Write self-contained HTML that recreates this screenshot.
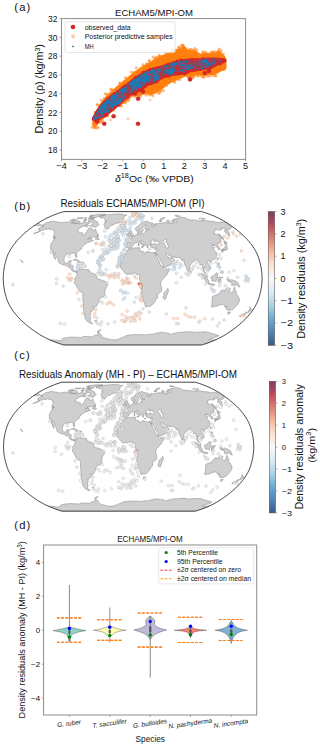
<!DOCTYPE html>
<html><head><meta charset="utf-8"><style>
html,body{margin:0;padding:0;background:#fff;}
svg{display:block;}
text{font-family:"Liberation Sans",sans-serif;fill:#111;}
</style></head><body>
<svg width="320" height="747" viewBox="0 0 320 747">
<rect width="320" height="747" fill="#fff"/>
<text x="14.3" y="11.2" font-size="11.2" text-anchor="start" textLength="16" lengthAdjust="spacing" >(a)</text>
<text x="154.05" y="15.5" font-size="9.4" text-anchor="middle" textLength="77.9" lengthAdjust="spacingAndGlyphs" >ECHAM5/MPI-OM</text>
<filter id="soft" x="-5%" y="-5%" width="110%" height="110%"><feGaussianBlur stdDeviation="0.7"/></filter>
<path d="M92.00,124.00L93.00,118.50L95.50,112.00L99.25,105.00L103.00,99.50L106.75,95.00L113.00,89.50L120.00,83.50L126.25,78.25L132.50,73.00L138.75,68.50L145.00,64.50L151.25,61.25L155.00,58.10L161.25,55.60L167.50,53.10L173.75,50.00L180.00,48.10L183.75,45.00L187.50,49.40L192.50,50.00L195.00,49.50L200.00,53.75L205.00,52.50L210.00,53.10L215.00,52.50L218.75,50.00L222.50,53.75L225.00,56.25L226.50,60.00L226.50,68.00L225.00,70.50L221.25,71.25L215.00,75.00L208.75,75.00L202.50,76.25L196.25,75.00L192.50,77.50L186.25,76.25L180.00,78.75L173.75,81.25L167.50,85.00L161.25,90.00L157.50,92.50L151.25,95.00L145.00,94.00L140.00,96.00L132.50,96.50L128.00,100.00L124.00,103.50L120.00,105.00L113.00,110.80L106.75,116.00L100.50,121.50L96.00,127.00L93.00,127.00Z" fill="#ff7f0e" filter="url(#soft)"/>
<circle cx="95.26" cy="112.14" r="1.5" fill="#ff8a20" fill-opacity="0.6"/>
<circle cx="97.62" cy="111.92" r="1.5" fill="#ff8a20" fill-opacity="0.6"/>
<circle cx="95.54" cy="112.21" r="1.5" fill="#ff8a20" fill-opacity="0.6"/>
<circle cx="97.67" cy="105.03" r="1.5" fill="#ff8a20" fill-opacity="0.6"/>
<circle cx="99.90" cy="105.70" r="1.5" fill="#ff8a20" fill-opacity="0.6"/>
<circle cx="97.22" cy="104.53" r="1.5" fill="#ff8a20" fill-opacity="0.6"/>
<circle cx="100.95" cy="100.24" r="1.5" fill="#ff8a20" fill-opacity="0.6"/>
<circle cx="103.97" cy="98.40" r="1.5" fill="#ff8a20" fill-opacity="0.6"/>
<circle cx="105.41" cy="100.62" r="1.5" fill="#ff8a20" fill-opacity="0.6"/>
<circle cx="107.52" cy="95.28" r="1.5" fill="#ff8a20" fill-opacity="0.6"/>
<circle cx="105.04" cy="93.84" r="1.5" fill="#ff8a20" fill-opacity="0.6"/>
<circle cx="106.89" cy="93.94" r="1.5" fill="#ff8a20" fill-opacity="0.6"/>
<circle cx="111.45" cy="88.88" r="1.5" fill="#ff8a20" fill-opacity="0.6"/>
<circle cx="110.65" cy="89.41" r="1.5" fill="#ff8a20" fill-opacity="0.6"/>
<circle cx="112.70" cy="90.32" r="1.5" fill="#ff8a20" fill-opacity="0.6"/>
<circle cx="120.10" cy="83.84" r="1.5" fill="#ff8a20" fill-opacity="0.6"/>
<circle cx="120.00" cy="83.89" r="1.5" fill="#ff8a20" fill-opacity="0.6"/>
<circle cx="119.79" cy="82.97" r="1.5" fill="#ff8a20" fill-opacity="0.6"/>
<circle cx="128.74" cy="79.44" r="1.5" fill="#ff8a20" fill-opacity="0.6"/>
<circle cx="127.95" cy="78.75" r="1.5" fill="#ff8a20" fill-opacity="0.6"/>
<circle cx="125.33" cy="77.60" r="1.5" fill="#ff8a20" fill-opacity="0.6"/>
<circle cx="131.45" cy="71.97" r="1.5" fill="#ff8a20" fill-opacity="0.6"/>
<circle cx="133.83" cy="72.76" r="1.5" fill="#ff8a20" fill-opacity="0.6"/>
<circle cx="134.23" cy="72.73" r="1.5" fill="#ff8a20" fill-opacity="0.6"/>
<circle cx="141.04" cy="69.33" r="1.5" fill="#ff8a20" fill-opacity="0.6"/>
<circle cx="136.25" cy="67.80" r="1.5" fill="#ff8a20" fill-opacity="0.6"/>
<circle cx="140.80" cy="68.43" r="1.5" fill="#ff8a20" fill-opacity="0.6"/>
<circle cx="147.40" cy="64.25" r="1.5" fill="#ff8a20" fill-opacity="0.6"/>
<circle cx="142.87" cy="64.81" r="1.5" fill="#ff8a20" fill-opacity="0.6"/>
<circle cx="146.39" cy="63.95" r="1.5" fill="#ff8a20" fill-opacity="0.6"/>
<circle cx="149.19" cy="60.85" r="1.5" fill="#ff8a20" fill-opacity="0.6"/>
<circle cx="153.57" cy="61.87" r="1.5" fill="#ff8a20" fill-opacity="0.6"/>
<circle cx="149.34" cy="60.64" r="1.5" fill="#ff8a20" fill-opacity="0.6"/>
<circle cx="153.01" cy="57.04" r="1.5" fill="#ff8a20" fill-opacity="0.6"/>
<circle cx="156.49" cy="57.33" r="1.5" fill="#ff8a20" fill-opacity="0.6"/>
<circle cx="155.30" cy="57.97" r="1.5" fill="#ff8a20" fill-opacity="0.6"/>
<circle cx="159.70" cy="56.16" r="1.5" fill="#ff8a20" fill-opacity="0.6"/>
<circle cx="159.40" cy="55.94" r="1.5" fill="#ff8a20" fill-opacity="0.6"/>
<circle cx="159.33" cy="55.41" r="1.5" fill="#ff8a20" fill-opacity="0.6"/>
<circle cx="166.06" cy="52.55" r="1.5" fill="#ff8a20" fill-opacity="0.6"/>
<circle cx="169.85" cy="53.83" r="1.5" fill="#ff8a20" fill-opacity="0.6"/>
<circle cx="166.52" cy="54.02" r="1.5" fill="#ff8a20" fill-opacity="0.6"/>
<circle cx="172.30" cy="49.75" r="1.5" fill="#ff8a20" fill-opacity="0.6"/>
<circle cx="175.52" cy="50.34" r="1.5" fill="#ff8a20" fill-opacity="0.6"/>
<circle cx="171.75" cy="51.17" r="1.5" fill="#ff8a20" fill-opacity="0.6"/>
<circle cx="178.57" cy="47.52" r="1.5" fill="#ff8a20" fill-opacity="0.6"/>
<circle cx="181.36" cy="47.69" r="1.5" fill="#ff8a20" fill-opacity="0.6"/>
<circle cx="178.98" cy="47.08" r="1.5" fill="#ff8a20" fill-opacity="0.6"/>
<circle cx="181.70" cy="45.20" r="1.5" fill="#ff8a20" fill-opacity="0.6"/>
<circle cx="182.47" cy="45.24" r="1.5" fill="#ff8a20" fill-opacity="0.6"/>
<circle cx="183.11" cy="44.89" r="1.5" fill="#ff8a20" fill-opacity="0.6"/>
<circle cx="189.80" cy="49.36" r="1.5" fill="#ff8a20" fill-opacity="0.6"/>
<circle cx="187.87" cy="50.28" r="1.5" fill="#ff8a20" fill-opacity="0.6"/>
<circle cx="185.91" cy="48.57" r="1.5" fill="#ff8a20" fill-opacity="0.6"/>
<circle cx="194.54" cy="50.76" r="1.5" fill="#ff8a20" fill-opacity="0.6"/>
<circle cx="191.25" cy="49.26" r="1.5" fill="#ff8a20" fill-opacity="0.6"/>
<circle cx="193.70" cy="51.06" r="1.5" fill="#ff8a20" fill-opacity="0.6"/>
<circle cx="193.48" cy="50.58" r="1.5" fill="#ff8a20" fill-opacity="0.6"/>
<circle cx="196.91" cy="49.75" r="1.5" fill="#ff8a20" fill-opacity="0.6"/>
<circle cx="194.61" cy="48.55" r="1.5" fill="#ff8a20" fill-opacity="0.6"/>
<circle cx="197.69" cy="54.86" r="1.5" fill="#ff8a20" fill-opacity="0.6"/>
<circle cx="198.69" cy="54.24" r="1.5" fill="#ff8a20" fill-opacity="0.6"/>
<circle cx="198.78" cy="54.53" r="1.5" fill="#ff8a20" fill-opacity="0.6"/>
<circle cx="205.48" cy="52.00" r="1.5" fill="#ff8a20" fill-opacity="0.6"/>
<circle cx="203.38" cy="53.03" r="1.5" fill="#ff8a20" fill-opacity="0.6"/>
<circle cx="202.84" cy="51.85" r="1.5" fill="#ff8a20" fill-opacity="0.6"/>
<circle cx="210.30" cy="53.95" r="1.5" fill="#ff8a20" fill-opacity="0.6"/>
<circle cx="210.57" cy="52.57" r="1.5" fill="#ff8a20" fill-opacity="0.6"/>
<circle cx="212.09" cy="52.39" r="1.5" fill="#ff8a20" fill-opacity="0.6"/>
<circle cx="212.58" cy="51.95" r="1.5" fill="#ff8a20" fill-opacity="0.6"/>
<circle cx="214.73" cy="51.45" r="1.5" fill="#ff8a20" fill-opacity="0.6"/>
<circle cx="213.38" cy="52.19" r="1.5" fill="#ff8a20" fill-opacity="0.6"/>
<circle cx="219.11" cy="49.12" r="1.5" fill="#ff8a20" fill-opacity="0.6"/>
<circle cx="218.06" cy="50.94" r="1.5" fill="#ff8a20" fill-opacity="0.6"/>
<circle cx="221.15" cy="50.38" r="1.5" fill="#ff8a20" fill-opacity="0.6"/>
<circle cx="223.46" cy="53.95" r="1.5" fill="#ff8a20" fill-opacity="0.6"/>
<circle cx="220.70" cy="52.63" r="1.5" fill="#ff8a20" fill-opacity="0.6"/>
<circle cx="220.09" cy="54.73" r="1.5" fill="#ff8a20" fill-opacity="0.6"/>
<circle cx="216.00" cy="76.11" r="1.5" fill="#ff8a20" fill-opacity="0.6"/>
<circle cx="212.61" cy="75.33" r="1.5" fill="#ff8a20" fill-opacity="0.6"/>
<circle cx="214.91" cy="75.55" r="1.5" fill="#ff8a20" fill-opacity="0.6"/>
<circle cx="207.84" cy="76.20" r="1.5" fill="#ff8a20" fill-opacity="0.6"/>
<circle cx="206.63" cy="75.11" r="1.5" fill="#ff8a20" fill-opacity="0.6"/>
<circle cx="209.94" cy="75.96" r="1.5" fill="#ff8a20" fill-opacity="0.6"/>
<circle cx="203.69" cy="76.74" r="1.5" fill="#ff8a20" fill-opacity="0.6"/>
<circle cx="203.97" cy="77.25" r="1.5" fill="#ff8a20" fill-opacity="0.6"/>
<circle cx="201.76" cy="76.69" r="1.5" fill="#ff8a20" fill-opacity="0.6"/>
<circle cx="198.25" cy="75.89" r="1.5" fill="#ff8a20" fill-opacity="0.6"/>
<circle cx="195.84" cy="75.70" r="1.5" fill="#ff8a20" fill-opacity="0.6"/>
<circle cx="198.07" cy="75.17" r="1.5" fill="#ff8a20" fill-opacity="0.6"/>
<circle cx="193.12" cy="77.22" r="1.5" fill="#ff8a20" fill-opacity="0.6"/>
<circle cx="192.91" cy="77.76" r="1.5" fill="#ff8a20" fill-opacity="0.6"/>
<circle cx="190.40" cy="77.83" r="1.5" fill="#ff8a20" fill-opacity="0.6"/>
<circle cx="188.72" cy="77.16" r="1.5" fill="#ff8a20" fill-opacity="0.6"/>
<circle cx="187.39" cy="75.98" r="1.5" fill="#ff8a20" fill-opacity="0.6"/>
<circle cx="187.43" cy="76.44" r="1.5" fill="#ff8a20" fill-opacity="0.6"/>
<circle cx="179.70" cy="79.56" r="1.5" fill="#ff8a20" fill-opacity="0.6"/>
<circle cx="177.92" cy="79.35" r="1.5" fill="#ff8a20" fill-opacity="0.6"/>
<circle cx="177.65" cy="78.99" r="1.5" fill="#ff8a20" fill-opacity="0.6"/>
<circle cx="173.65" cy="80.60" r="1.5" fill="#ff8a20" fill-opacity="0.6"/>
<circle cx="174.74" cy="81.24" r="1.5" fill="#ff8a20" fill-opacity="0.6"/>
<circle cx="174.32" cy="82.26" r="1.5" fill="#ff8a20" fill-opacity="0.6"/>
<circle cx="166.28" cy="83.83" r="1.5" fill="#ff8a20" fill-opacity="0.6"/>
<circle cx="166.51" cy="85.43" r="1.5" fill="#ff8a20" fill-opacity="0.6"/>
<circle cx="166.01" cy="84.21" r="1.5" fill="#ff8a20" fill-opacity="0.6"/>
<circle cx="163.28" cy="90.38" r="1.5" fill="#ff8a20" fill-opacity="0.6"/>
<circle cx="160.96" cy="90.94" r="1.5" fill="#ff8a20" fill-opacity="0.6"/>
<circle cx="160.38" cy="90.40" r="1.5" fill="#ff8a20" fill-opacity="0.6"/>
<circle cx="155.99" cy="92.33" r="1.5" fill="#ff8a20" fill-opacity="0.6"/>
<circle cx="159.03" cy="93.49" r="1.5" fill="#ff8a20" fill-opacity="0.6"/>
<circle cx="159.40" cy="92.22" r="1.5" fill="#ff8a20" fill-opacity="0.6"/>
<circle cx="151.67" cy="94.56" r="1.5" fill="#ff8a20" fill-opacity="0.6"/>
<circle cx="149.43" cy="94.99" r="1.5" fill="#ff8a20" fill-opacity="0.6"/>
<circle cx="152.94" cy="95.84" r="1.5" fill="#ff8a20" fill-opacity="0.6"/>
<circle cx="146.06" cy="95.08" r="1.5" fill="#ff8a20" fill-opacity="0.6"/>
<circle cx="143.88" cy="93.21" r="1.5" fill="#ff8a20" fill-opacity="0.6"/>
<circle cx="144.75" cy="93.46" r="1.5" fill="#ff8a20" fill-opacity="0.6"/>
<circle cx="138.57" cy="95.79" r="1.5" fill="#ff8a20" fill-opacity="0.6"/>
<circle cx="140.63" cy="95.99" r="1.5" fill="#ff8a20" fill-opacity="0.6"/>
<circle cx="139.08" cy="96.81" r="1.5" fill="#ff8a20" fill-opacity="0.6"/>
<circle cx="134.91" cy="96.39" r="1.5" fill="#ff8a20" fill-opacity="0.6"/>
<circle cx="130.37" cy="95.38" r="1.5" fill="#ff8a20" fill-opacity="0.6"/>
<circle cx="134.36" cy="95.40" r="1.5" fill="#ff8a20" fill-opacity="0.6"/>
<circle cx="129.04" cy="100.17" r="1.5" fill="#ff8a20" fill-opacity="0.6"/>
<circle cx="127.05" cy="100.70" r="1.5" fill="#ff8a20" fill-opacity="0.6"/>
<circle cx="125.60" cy="99.13" r="1.5" fill="#ff8a20" fill-opacity="0.6"/>
<circle cx="123.77" cy="102.36" r="1.5" fill="#ff8a20" fill-opacity="0.6"/>
<circle cx="125.65" cy="102.87" r="1.5" fill="#ff8a20" fill-opacity="0.6"/>
<circle cx="122.20" cy="102.41" r="1.5" fill="#ff8a20" fill-opacity="0.6"/>
<circle cx="120.65" cy="104.87" r="1.5" fill="#ff8a20" fill-opacity="0.6"/>
<circle cx="120.65" cy="105.37" r="1.5" fill="#ff8a20" fill-opacity="0.6"/>
<circle cx="121.54" cy="106.10" r="1.5" fill="#ff8a20" fill-opacity="0.6"/>
<circle cx="113.92" cy="110.08" r="1.5" fill="#ff8a20" fill-opacity="0.6"/>
<circle cx="112.88" cy="110.03" r="1.5" fill="#ff8a20" fill-opacity="0.6"/>
<circle cx="110.55" cy="110.73" r="1.5" fill="#ff8a20" fill-opacity="0.6"/>
<circle cx="107.82" cy="115.23" r="1.5" fill="#ff8a20" fill-opacity="0.6"/>
<circle cx="105.61" cy="115.63" r="1.5" fill="#ff8a20" fill-opacity="0.6"/>
<circle cx="107.74" cy="116.05" r="1.5" fill="#ff8a20" fill-opacity="0.6"/>
<circle cx="101.07" cy="122.11" r="1.5" fill="#ff8a20" fill-opacity="0.6"/>
<circle cx="99.97" cy="122.20" r="1.5" fill="#ff8a20" fill-opacity="0.6"/>
<circle cx="102.53" cy="120.51" r="1.5" fill="#ff8a20" fill-opacity="0.6"/>
<circle cx="98.16" cy="127.53" r="1.5" fill="#ff8a20" fill-opacity="0.6"/>
<circle cx="94.15" cy="126.89" r="1.5" fill="#ff8a20" fill-opacity="0.6"/>
<circle cx="96.63" cy="127.98" r="1.5" fill="#ff8a20" fill-opacity="0.6"/>
<circle cx="92.38" cy="127.17" r="1.5" fill="#ff8a20" fill-opacity="0.6"/>
<circle cx="94.90" cy="127.71" r="1.5" fill="#ff8a20" fill-opacity="0.6"/>
<circle cx="95.22" cy="126.91" r="1.5" fill="#ff8a20" fill-opacity="0.6"/>
<path d="M92.50,118.00L93.60,116.00L97.00,110.00L100.50,105.00L106.75,98.75L113.00,93.75L119.25,90.00L120.00,88.75L126.25,84.40L132.50,79.40L138.75,75.00L145.00,71.25L151.25,68.50L155.00,67.80L161.25,66.25L167.50,63.75L173.75,61.90L180.00,60.00L186.25,59.40L192.50,58.75L196.25,59.40L202.50,58.75L208.75,58.10L215.00,58.10L221.25,58.75L225.60,60.60L225.00,61.50L221.25,63.10L215.00,66.25L208.75,68.10L202.50,70.00L196.25,70.50L190.00,71.25L186.25,73.75L180.00,74.40L173.75,75.00L167.50,76.25L161.25,78.75L155.00,83.10L151.00,84.00L146.00,86.00L140.00,91.00L132.50,93.00L126.25,98.50L120.00,104.00L113.00,110.00L106.75,115.00L100.50,118.75L94.25,120.50L92.50,120.00Z" fill="#1f77b4" stroke="#d62728" stroke-width="1.3" stroke-linejoin="round"/>
<circle cx="179.37" cy="64.00" r="1.43" fill="none" stroke="#d62728" stroke-width="0.8" stroke-opacity="0.85"/>
<circle cx="200.75" cy="65.70" r="1.43" fill="none" stroke="#d62728" stroke-width="0.8" stroke-opacity="0.85"/>
<circle cx="123.30" cy="98.43" r="1.59" fill="none" stroke="#d62728" stroke-width="0.8" stroke-opacity="0.85"/>
<circle cx="221.10" cy="61.01" r="1.47" fill="none" stroke="#d62728" stroke-width="0.8" stroke-opacity="0.85"/>
<circle cx="137.01" cy="89.17" r="1.51" fill="none" stroke="#d62728" stroke-width="0.8" stroke-opacity="0.85"/>
<circle cx="140.61" cy="76.51" r="1.26" fill="none" stroke="#d62728" stroke-width="0.8" stroke-opacity="0.85"/>
<circle cx="166.44" cy="72.97" r="1.29" fill="none" stroke="#d62728" stroke-width="0.8" stroke-opacity="0.85"/>
<circle cx="99.64" cy="115.63" r="1.04" fill="none" stroke="#d62728" stroke-width="0.8" stroke-opacity="0.85"/>
<circle cx="198.38" cy="62.09" r="1.20" fill="none" stroke="#d62728" stroke-width="0.8" stroke-opacity="0.85"/>
<circle cx="196.85" cy="61.98" r="1.09" fill="none" stroke="#d62728" stroke-width="0.8" stroke-opacity="0.85"/>
<circle cx="162.12" cy="74.28" r="1.50" fill="none" stroke="#d62728" stroke-width="0.8" stroke-opacity="0.85"/>
<circle cx="184.24" cy="71.84" r="1.30" fill="none" stroke="#d62728" stroke-width="0.8" stroke-opacity="0.85"/>
<circle cx="217.49" cy="60.17" r="1.13" fill="none" stroke="#d62728" stroke-width="0.8" stroke-opacity="0.85"/>
<circle cx="163.41" cy="69.64" r="1.44" fill="none" stroke="#d62728" stroke-width="0.8" stroke-opacity="0.85"/>
<circle cx="177.78" cy="67.89" r="1.51" fill="none" stroke="#d62728" stroke-width="0.8" stroke-opacity="0.85"/>
<circle cx="167.68" cy="68.16" r="1.23" fill="none" stroke="#d62728" stroke-width="0.8" stroke-opacity="0.85"/>
<circle cx="204.19" cy="67.20" r="1.12" fill="none" stroke="#d62728" stroke-width="0.8" stroke-opacity="0.85"/>
<circle cx="204.90" cy="67.53" r="1.31" fill="none" stroke="#d62728" stroke-width="0.8" stroke-opacity="0.85"/>
<circle cx="169.34" cy="66.65" r="1.32" fill="none" stroke="#d62728" stroke-width="0.8" stroke-opacity="0.85"/>
<circle cx="160.41" cy="73.94" r="1.02" fill="none" stroke="#d62728" stroke-width="0.8" stroke-opacity="0.85"/>
<circle cx="220.08" cy="61.19" r="1.24" fill="none" stroke="#d62728" stroke-width="0.8" stroke-opacity="0.85"/>
<circle cx="198.54" cy="65.25" r="1.29" fill="none" stroke="#d62728" stroke-width="0.8" stroke-opacity="0.85"/>
<circle cx="184.45" cy="61.82" r="1.32" fill="none" stroke="#d62728" stroke-width="0.8" stroke-opacity="0.85"/>
<circle cx="148.96" cy="82.78" r="1.55" fill="none" stroke="#d62728" stroke-width="0.8" stroke-opacity="0.85"/>
<circle cx="130.46" cy="87.63" r="1.08" fill="none" stroke="#d62728" stroke-width="0.8" stroke-opacity="0.85"/>
<circle cx="151.51" cy="80.09" r="1.54" fill="none" stroke="#d62728" stroke-width="0.8" stroke-opacity="0.85"/>
<circle cx="157.00" cy="72.42" r="1.11" fill="none" stroke="#d62728" stroke-width="0.8" stroke-opacity="0.85"/>
<circle cx="175.09" cy="72.60" r="1.08" fill="none" stroke="#d62728" stroke-width="0.8" stroke-opacity="0.85"/>
<circle cx="195.75" cy="61.00" r="1.12" fill="none" stroke="#d62728" stroke-width="0.8" stroke-opacity="0.85"/>
<circle cx="125.09" cy="94.48" r="1.19" fill="none" stroke="#d62728" stroke-width="0.8" stroke-opacity="0.85"/>
<circle cx="141.48" cy="83.17" r="1.06" fill="none" stroke="#d62728" stroke-width="0.8" stroke-opacity="0.85"/>
<circle cx="189.55" cy="61.72" r="1.31" fill="none" stroke="#d62728" stroke-width="0.8" stroke-opacity="0.85"/>
<circle cx="128.07" cy="86.61" r="1.32" fill="none" stroke="#d62728" stroke-width="0.8" stroke-opacity="0.85"/>
<circle cx="151.91" cy="74.54" r="1.25" fill="none" stroke="#d62728" stroke-width="0.8" stroke-opacity="0.85"/>
<circle cx="163.76" cy="68.26" r="1.12" fill="none" stroke="#d62728" stroke-width="0.8" stroke-opacity="0.85"/>
<circle cx="176.81" cy="69.32" r="1.32" fill="none" stroke="#d62728" stroke-width="0.8" stroke-opacity="0.85"/>
<circle cx="204.96" cy="64.74" r="1.51" fill="none" stroke="#d62728" stroke-width="0.8" stroke-opacity="0.85"/>
<circle cx="125.78" cy="94.51" r="1.49" fill="none" stroke="#d62728" stroke-width="0.8" stroke-opacity="0.85"/>
<circle cx="211.54" cy="61.55" r="1.19" fill="none" stroke="#d62728" stroke-width="0.8" stroke-opacity="0.85"/>
<circle cx="214.11" cy="60.78" r="1.60" fill="none" stroke="#d62728" stroke-width="0.8" stroke-opacity="0.85"/>
<circle cx="209.61" cy="60.50" r="1.14" fill="none" stroke="#d62728" stroke-width="0.8" stroke-opacity="0.85"/>
<circle cx="189.00" cy="63.16" r="1.06" fill="none" stroke="#d62728" stroke-width="0.8" stroke-opacity="0.85"/>
<circle cx="202.52" cy="63.73" r="1.47" fill="none" stroke="#d62728" stroke-width="0.8" stroke-opacity="0.85"/>
<circle cx="112.13" cy="101.28" r="1.41" fill="none" stroke="#d62728" stroke-width="0.8" stroke-opacity="0.85"/>
<circle cx="98.27" cy="111.33" r="1.41" fill="none" stroke="#d62728" stroke-width="0.8" stroke-opacity="0.85"/>
<circle cx="212.66" cy="65.26" r="1.07" fill="none" stroke="#d62728" stroke-width="0.8" stroke-opacity="0.85"/>
<circle cx="160.73" cy="75.26" r="1.30" fill="none" stroke="#d62728" stroke-width="0.8" stroke-opacity="0.85"/>
<circle cx="183.77" cy="63.29" r="1.04" fill="none" stroke="#d62728" stroke-width="0.8" stroke-opacity="0.85"/>
<circle cx="109.59" cy="98.47" r="1.33" fill="none" stroke="#d62728" stroke-width="0.8" stroke-opacity="0.85"/>
<circle cx="161.90" cy="72.89" r="1.09" fill="none" stroke="#d62728" stroke-width="0.8" stroke-opacity="0.85"/>
<circle cx="119.62" cy="93.32" r="1.50" fill="none" stroke="#d62728" stroke-width="0.8" stroke-opacity="0.85"/>
<circle cx="222.76" cy="60.95" r="1.06" fill="none" stroke="#d62728" stroke-width="0.8" stroke-opacity="0.85"/>
<circle cx="103.93" cy="114.60" r="1.28" fill="none" stroke="#d62728" stroke-width="0.8" stroke-opacity="0.85"/>
<circle cx="193.88" cy="63.36" r="1.28" fill="none" stroke="#d62728" stroke-width="0.8" stroke-opacity="0.85"/>
<circle cx="161.96" cy="71.55" r="1.36" fill="none" stroke="#d62728" stroke-width="0.8" stroke-opacity="0.85"/>
<circle cx="97.70" cy="115.78" r="1.51" fill="none" stroke="#d62728" stroke-width="0.8" stroke-opacity="0.85"/>
<circle cx="119.20" cy="96.82" r="1.44" fill="none" stroke="#d62728" stroke-width="0.8" stroke-opacity="0.85"/>
<circle cx="147.88" cy="73.88" r="1.10" fill="none" stroke="#d62728" stroke-width="0.8" stroke-opacity="0.85"/>
<circle cx="161.61" cy="67.75" r="1.54" fill="none" stroke="#d62728" stroke-width="0.8" stroke-opacity="0.85"/>
<circle cx="198.62" cy="66.40" r="1.52" fill="none" stroke="#d62728" stroke-width="0.8" stroke-opacity="0.85"/>
<circle cx="176.56" cy="66.87" r="1.36" fill="none" stroke="#d62728" stroke-width="0.8" stroke-opacity="0.85"/>
<circle cx="160.55" cy="77.57" r="1.48" fill="none" stroke="#d62728" stroke-width="0.8" stroke-opacity="0.85"/>
<circle cx="129.06" cy="93.56" r="1.45" fill="none" stroke="#d62728" stroke-width="0.8" stroke-opacity="0.85"/>
<circle cx="195.58" cy="67.54" r="1.24" fill="none" stroke="#d62728" stroke-width="0.8" stroke-opacity="0.85"/>
<circle cx="210.76" cy="65.24" r="1.42" fill="none" stroke="#d62728" stroke-width="0.8" stroke-opacity="0.85"/>
<circle cx="194.21" cy="67.20" r="1.24" fill="none" stroke="#d62728" stroke-width="0.8" stroke-opacity="0.85"/>
<circle cx="188.50" cy="61.38" r="1.21" fill="none" stroke="#d62728" stroke-width="0.8" stroke-opacity="0.85"/>
<circle cx="156.01" cy="69.17" r="1.21" fill="none" stroke="#d62728" stroke-width="0.8" stroke-opacity="0.85"/>
<circle cx="177.76" cy="69.00" r="1.14" fill="none" stroke="#d62728" stroke-width="0.8" stroke-opacity="0.85"/>
<circle cx="216.92" cy="62.45" r="1.20" fill="none" stroke="#d62728" stroke-width="0.8" stroke-opacity="0.85"/>
<circle cx="180.45" cy="67.95" r="1.32" fill="none" stroke="#d62728" stroke-width="0.8" stroke-opacity="0.85"/>
<circle cx="145.87" cy="84.61" r="1.39" fill="none" stroke="#d62728" stroke-width="0.8" stroke-opacity="0.85"/>
<circle cx="185.76" cy="69.60" r="1.59" fill="none" stroke="#d62728" stroke-width="0.8" stroke-opacity="0.85"/>
<circle cx="98.92" cy="114.26" r="1.44" fill="none" stroke="#d62728" stroke-width="0.8" stroke-opacity="0.85"/>
<circle cx="128.85" cy="88.19" r="1.03" fill="none" stroke="#d62728" stroke-width="0.8" stroke-opacity="0.85"/>
<circle cx="121.02" cy="94.07" r="1.06" fill="none" stroke="#d62728" stroke-width="0.8" stroke-opacity="0.85"/>
<circle cx="128.11" cy="94.33" r="1.33" fill="none" stroke="#d62728" stroke-width="0.8" stroke-opacity="0.85"/>
<circle cx="161.00" cy="77.11" r="1.34" fill="none" stroke="#d62728" stroke-width="0.8" stroke-opacity="0.85"/>
<circle cx="223.37" cy="60.92" r="1.38" fill="none" stroke="#d62728" stroke-width="0.8" stroke-opacity="0.85"/>
<circle cx="199.62" cy="61.17" r="1.36" fill="none" stroke="#d62728" stroke-width="0.8" stroke-opacity="0.85"/>
<circle cx="193.18" cy="60.77" r="1.56" fill="none" stroke="#d62728" stroke-width="0.8" stroke-opacity="0.85"/>
<circle cx="116.47" cy="99.00" r="1.10" fill="none" stroke="#d62728" stroke-width="0.8" stroke-opacity="0.85"/>
<circle cx="159.43" cy="74.51" r="1.04" fill="none" stroke="#d62728" stroke-width="0.8" stroke-opacity="0.85"/>
<circle cx="216.99" cy="61.46" r="1.32" fill="none" stroke="#d62728" stroke-width="0.8" stroke-opacity="0.85"/>
<circle cx="172.52" cy="67.41" r="1.17" fill="none" stroke="#d62728" stroke-width="0.8" stroke-opacity="0.85"/>
<circle cx="179.85" cy="67.92" r="1.17" fill="none" stroke="#d62728" stroke-width="0.8" stroke-opacity="0.85"/>
<circle cx="187.73" cy="63.86" r="1.01" fill="none" stroke="#d62728" stroke-width="0.8" stroke-opacity="0.85"/>
<circle cx="127.36" cy="85.48" r="1.09" fill="none" stroke="#d62728" stroke-width="0.8" stroke-opacity="0.85"/>
<circle cx="192.59" cy="63.84" r="1.54" fill="none" stroke="#d62728" stroke-width="0.8" stroke-opacity="0.85"/>
<circle cx="191.79" cy="60.79" r="1.59" fill="none" stroke="#d62728" stroke-width="0.8" stroke-opacity="0.85"/>
<circle cx="216.89" cy="60.09" r="1.54" fill="none" stroke="#d62728" stroke-width="0.8" stroke-opacity="0.85"/>
<circle cx="150.98" cy="76.04" r="1.58" fill="none" stroke="#d62728" stroke-width="0.8" stroke-opacity="0.85"/>
<circle cx="127.19" cy="90.91" r="1.56" fill="none" stroke="#d62728" stroke-width="0.8" stroke-opacity="0.85"/>
<circle cx="188.51" cy="65.39" r="1.59" fill="none" stroke="#d62728" stroke-width="0.8" stroke-opacity="0.85"/>
<circle cx="200.54" cy="65.41" r="1.07" fill="none" stroke="#d62728" stroke-width="0.8" stroke-opacity="0.85"/>
<circle cx="175.90" cy="67.55" r="1.12" fill="none" stroke="#d62728" stroke-width="0.8" stroke-opacity="0.85"/>
<circle cx="102.66" cy="110.47" r="1.07" fill="none" stroke="#d62728" stroke-width="0.8" stroke-opacity="0.85"/>
<circle cx="152.69" cy="78.01" r="1.27" fill="none" stroke="#d62728" stroke-width="0.8" stroke-opacity="0.85"/>
<circle cx="129.55" cy="89.57" r="1.25" fill="none" stroke="#d62728" stroke-width="0.8" stroke-opacity="0.85"/>
<circle cx="195.58" cy="65.19" r="1.60" fill="none" stroke="#d62728" stroke-width="0.8" stroke-opacity="0.85"/>
<circle cx="217.94" cy="62.38" r="1.14" fill="none" stroke="#d62728" stroke-width="0.8" stroke-opacity="0.85"/>
<circle cx="110.58" cy="109.02" r="1.47" fill="none" stroke="#d62728" stroke-width="0.8" stroke-opacity="0.85"/>
<circle cx="176.00" cy="66.51" r="1.16" fill="none" stroke="#d62728" stroke-width="0.8" stroke-opacity="0.85"/>
<circle cx="183.68" cy="67.57" r="1.36" fill="none" stroke="#d62728" stroke-width="0.8" stroke-opacity="0.85"/>
<circle cx="177.04" cy="70.52" r="1.11" fill="none" stroke="#d62728" stroke-width="0.8" stroke-opacity="0.85"/>
<circle cx="127.87" cy="95.35" r="1.55" fill="none" stroke="#d62728" stroke-width="0.8" stroke-opacity="0.85"/>
<circle cx="208.48" cy="59.91" r="1.04" fill="none" stroke="#d62728" stroke-width="0.8" stroke-opacity="0.85"/>
<circle cx="130.68" cy="86.92" r="1.37" fill="none" stroke="#d62728" stroke-width="0.8" stroke-opacity="0.85"/>
<circle cx="109.12" cy="105.53" r="1.04" fill="none" stroke="#d62728" stroke-width="0.8" stroke-opacity="0.85"/>
<circle cx="107.06" cy="108.96" r="1.33" fill="none" stroke="#d62728" stroke-width="0.8" stroke-opacity="0.85"/>
<circle cx="176.78" cy="61.22" r="1.2" fill="#d62728"/>
<circle cx="157.26" cy="81.50" r="1.6" fill="#d62728"/>
<circle cx="139.99" cy="89.64" r="1.6" fill="#d62728"/>
<circle cx="203.33" cy="58.31" r="1.2" fill="#d62728"/>
<circle cx="111.33" cy="109.81" r="1.6" fill="#d62728"/>
<circle cx="175.84" cy="73.38" r="1.6" fill="#d62728"/>
<circle cx="123.29" cy="86.81" r="1.2" fill="#d62728"/>
<circle cx="129.03" cy="94.53" r="1.6" fill="#d62728"/>
<circle cx="143.23" cy="87.18" r="1.6" fill="#d62728"/>
<circle cx="222.62" cy="59.48" r="1.2" fill="#d62728"/>
<circle cx="166.22" cy="75.40" r="1.6" fill="#d62728"/>
<circle cx="213.87" cy="66.02" r="1.6" fill="#d62728"/>
<circle cx="143.27" cy="71.98" r="1.2" fill="#d62728"/>
<circle cx="208.02" cy="68.62" r="1.6" fill="#d62728"/>
<circle cx="106.63" cy="114.16" r="1.6" fill="#d62728"/>
<circle cx="158.06" cy="67.91" r="1.2" fill="#d62728"/>
<circle cx="134.26" cy="91.09" r="1.6" fill="#d62728"/>
<circle cx="105.74" cy="115.57" r="1.6" fill="#d62728"/>
<circle cx="180.75" cy="59.59" r="1.2" fill="#d62728"/>
<circle cx="134.89" cy="91.05" r="1.6" fill="#d62728"/>
<circle cx="184.83" cy="73.69" r="1.6" fill="#d62728"/>
<circle cx="114.29" cy="93.19" r="1.2" fill="#d62728"/>
<circle cx="188.92" cy="71.55" r="1.6" fill="#d62728"/>
<circle cx="111.02" cy="110.31" r="1.6" fill="#d62728"/>
<circle cx="168.87" cy="64.68" r="1.2" fill="#d62728"/>
<circle cx="216.31" cy="63.81" r="1.6" fill="#d62728"/>
<circle cx="152.06" cy="82.25" r="1.6" fill="#d62728"/>
<circle cx="135.01" cy="77.77" r="1.2" fill="#d62728"/>
<circle cx="147.15" cy="83.70" r="1.6" fill="#d62728"/>
<circle cx="210.53" cy="67.45" r="1.6" fill="#d62728"/>
<circle cx="142.30" cy="73.10" r="1.2" fill="#d62728"/>
<circle cx="142.50" cy="88.42" r="1.6" fill="#d62728"/>
<circle cx="145.61" cy="86.34" r="1.6" fill="#d62728"/>
<circle cx="168.17" cy="64.65" r="1.2" fill="#d62728"/>
<circle cx="165.19" cy="75.58" r="1.6" fill="#d62728"/>
<circle cx="168.04" cy="76.20" r="1.6" fill="#d62728"/>
<circle cx="193.15" cy="60.12" r="1.2" fill="#d62728"/>
<circle cx="132.03" cy="93.86" r="1.6" fill="#d62728"/>
<circle cx="162.00" cy="77.59" r="1.6" fill="#d62728"/>
<circle cx="168.64" cy="64.85" r="1.2" fill="#d62728"/>
<circle cx="179.35" cy="72.95" r="1.6" fill="#d62728"/>
<circle cx="104.20" cy="115.66" r="1.6" fill="#d62728"/>
<circle cx="196.87" cy="59.00" r="1.2" fill="#d62728"/>
<circle cx="106.45" cy="113.83" r="1.6" fill="#d62728"/>
<circle cx="211.08" cy="67.70" r="1.6" fill="#d62728"/>
<circle cx="177.17" cy="60.65" r="1.2" fill="#d62728"/>
<circle cx="191.46" cy="69.95" r="1.6" fill="#d62728"/>
<circle cx="127.42" cy="97.42" r="1.6" fill="#d62728"/>
<circle cx="193.97" cy="59.55" r="1.2" fill="#d62728"/>
<circle cx="193.88" cy="70.30" r="1.6" fill="#d62728"/>
<circle cx="139.24" cy="89.28" r="1.6" fill="#d62728"/>
<circle cx="182.07" cy="60.29" r="1.2" fill="#d62728"/>
<circle cx="164.78" cy="76.04" r="1.6" fill="#d62728"/>
<circle cx="186.64" cy="71.70" r="1.6" fill="#d62728"/>
<circle cx="148.56" cy="70.84" r="1.2" fill="#d62728"/>
<circle cx="181.34" cy="72.63" r="1.6" fill="#d62728"/>
<circle cx="199.16" cy="68.68" r="1.6" fill="#d62728"/>
<circle cx="209.75" cy="59.52" r="1.2" fill="#d62728"/>
<circle cx="177.95" cy="73.79" r="1.6" fill="#d62728"/>
<circle cx="186.89" cy="71.82" r="1.6" fill="#d62728"/>
<circle cx="149.97" cy="69.41" r="1.2" fill="#d62728"/>
<circle cx="114.71" cy="107.18" r="1.6" fill="#d62728"/>
<circle cx="222.85" cy="61.98" r="1.6" fill="#d62728"/>
<circle cx="117.46" cy="90.98" r="1.2" fill="#d62728"/>
<circle cx="150.39" cy="84.01" r="1.6" fill="#d62728"/>
<circle cx="220.13" cy="64.02" r="1.6" fill="#d62728"/>
<circle cx="135.48" cy="77.03" r="1.2" fill="#d62728"/>
<circle cx="178.94" cy="73.06" r="1.6" fill="#d62728"/>
<circle cx="118.97" cy="105.23" r="1.6" fill="#d62728"/>
<circle cx="154.72" cy="68.52" r="1.2" fill="#d62728"/>
<circle cx="104.25" cy="123.75" r="2.1" fill="#d62728" stroke="#b01f20" stroke-width="0.3"/>
<circle cx="113.60" cy="116.25" r="2.1" fill="#d62728" stroke="#b01f20" stroke-width="0.3"/>
<circle cx="138.00" cy="123.75" r="2.1" fill="#d62728" stroke="#b01f20" stroke-width="0.3"/>
<circle cx="138.10" cy="98.75" r="2.1" fill="#d62728" stroke="#b01f20" stroke-width="0.3"/>
<circle cx="190.00" cy="79.40" r="2.1" fill="#d62728" stroke="#b01f20" stroke-width="0.3"/>
<circle cx="224.25" cy="60.50" r="2.1" fill="#d62728" stroke="#b01f20" stroke-width="0.3"/>
<circle cx="97.00" cy="121.50" r="2.1" fill="#d62728" stroke="#b01f20" stroke-width="0.3"/>
<circle cx="135.00" cy="93.50" r="2.1" fill="#d62728" stroke="#b01f20" stroke-width="0.3"/>
<circle cx="143.00" cy="91.50" r="2.1" fill="#d62728" stroke="#b01f20" stroke-width="0.3"/>
<circle cx="205.00" cy="73.00" r="2.1" fill="#d62728" stroke="#b01f20" stroke-width="0.3"/>
<circle cx="209.00" cy="71.00" r="2.1" fill="#d62728" stroke="#b01f20" stroke-width="0.3"/>
<circle cx="110.5" cy="120" r="1.5" fill="#ffbb88" fill-opacity="0.7"/>
<circle cx="128" cy="119" r="1.5" fill="#ffbb88" fill-opacity="0.7"/>
<circle cx="150" cy="100" r="1.5" fill="#ffbb88" fill-opacity="0.7"/>
<rect x="61.5" y="18.6" width="184.1" height="140.8" fill="none" stroke="#8c8c8c" stroke-width="1.0"/>
<line x1="59.5" y1="150.00" x2="61.5" y2="150.00" stroke="#8c8c8c" stroke-width="0.8"/>
<text x="57.3" y="153.20399999999998" font-size="9.0" text-anchor="end" textLength="9.3" lengthAdjust="spacingAndGlyphs" >18</text>
<line x1="59.5" y1="131.23" x2="61.5" y2="131.23" stroke="#8c8c8c" stroke-width="0.8"/>
<text x="57.3" y="134.432" font-size="9.0" text-anchor="end" textLength="9.3" lengthAdjust="spacingAndGlyphs" >20</text>
<line x1="59.5" y1="112.46" x2="61.5" y2="112.46" stroke="#8c8c8c" stroke-width="0.8"/>
<text x="57.3" y="115.65999999999998" font-size="9.0" text-anchor="end" textLength="9.3" lengthAdjust="spacingAndGlyphs" >22</text>
<line x1="59.5" y1="93.69" x2="61.5" y2="93.69" stroke="#8c8c8c" stroke-width="0.8"/>
<text x="57.3" y="96.88799999999999" font-size="9.0" text-anchor="end" textLength="9.3" lengthAdjust="spacingAndGlyphs" >24</text>
<line x1="59.5" y1="74.92" x2="61.5" y2="74.92" stroke="#8c8c8c" stroke-width="0.8"/>
<text x="57.3" y="78.116" font-size="9.0" text-anchor="end" textLength="9.3" lengthAdjust="spacingAndGlyphs" >26</text>
<line x1="59.5" y1="56.14" x2="61.5" y2="56.14" stroke="#8c8c8c" stroke-width="0.8"/>
<text x="57.3" y="59.344" font-size="9.0" text-anchor="end" textLength="9.3" lengthAdjust="spacingAndGlyphs" >28</text>
<line x1="59.5" y1="37.37" x2="61.5" y2="37.37" stroke="#8c8c8c" stroke-width="0.8"/>
<text x="57.3" y="40.572" font-size="9.0" text-anchor="end" textLength="9.3" lengthAdjust="spacingAndGlyphs" >30</text>
<line x1="59.5" y1="18.60" x2="61.5" y2="18.60" stroke="#8c8c8c" stroke-width="0.8"/>
<text x="57.3" y="21.8" font-size="9.0" text-anchor="end" textLength="9.3" lengthAdjust="spacingAndGlyphs" >32</text>
<line x1="61.46" y1="159.4" x2="61.46" y2="161.20000000000002" stroke="#8c8c8c" stroke-width="0.8"/>
<text x="61.46000000000001" y="169.4" font-size="9.1" text-anchor="middle" textLength="10.9" lengthAdjust="spacingAndGlyphs" >−4</text>
<line x1="81.92" y1="159.4" x2="81.92" y2="161.20000000000002" stroke="#8c8c8c" stroke-width="0.8"/>
<text x="81.92000000000002" y="169.4" font-size="9.1" text-anchor="middle" textLength="10.9" lengthAdjust="spacingAndGlyphs" >−3</text>
<line x1="102.38" y1="159.4" x2="102.38" y2="161.20000000000002" stroke="#8c8c8c" stroke-width="0.8"/>
<text x="102.38000000000001" y="169.4" font-size="9.1" text-anchor="middle" textLength="10.9" lengthAdjust="spacingAndGlyphs" >−2</text>
<line x1="122.84" y1="159.4" x2="122.84" y2="161.20000000000002" stroke="#8c8c8c" stroke-width="0.8"/>
<text x="122.84" y="169.4" font-size="9.1" text-anchor="middle" textLength="10.9" lengthAdjust="spacingAndGlyphs" >−1</text>
<line x1="143.30" y1="159.4" x2="143.30" y2="161.20000000000002" stroke="#8c8c8c" stroke-width="0.8"/>
<text x="143.3" y="169.4" font-size="9.1" text-anchor="middle" >0</text>
<line x1="163.76" y1="159.4" x2="163.76" y2="161.20000000000002" stroke="#8c8c8c" stroke-width="0.8"/>
<text x="163.76000000000002" y="169.4" font-size="9.1" text-anchor="middle" >1</text>
<line x1="184.22" y1="159.4" x2="184.22" y2="161.20000000000002" stroke="#8c8c8c" stroke-width="0.8"/>
<text x="184.22000000000003" y="169.4" font-size="9.1" text-anchor="middle" >2</text>
<line x1="204.68" y1="159.4" x2="204.68" y2="161.20000000000002" stroke="#8c8c8c" stroke-width="0.8"/>
<text x="204.68" y="169.4" font-size="9.1" text-anchor="middle" >3</text>
<line x1="225.14" y1="159.4" x2="225.14" y2="161.20000000000002" stroke="#8c8c8c" stroke-width="0.8"/>
<text x="225.14000000000001" y="169.4" font-size="9.1" text-anchor="middle" >4</text>
<line x1="245.60" y1="159.4" x2="245.60" y2="161.20000000000002" stroke="#8c8c8c" stroke-width="0.8"/>
<text x="245.60000000000002" y="169.4" font-size="9.1" text-anchor="middle" >5</text>
<text x="154.4" y="181.8" font-size="9.4" text-anchor="middle" textLength="78.8" lengthAdjust="spacingAndGlyphs" ><tspan font-style="italic">δ</tspan><tspan font-size="6.6" dy="-3.6">18</tspan><tspan dy="3.6">Oc (‰ VPDB)</tspan></text>
<text x="0" y="0" font-size="10.2" text-anchor="middle" textLength="89.5" lengthAdjust="spacingAndGlyphs" transform="translate(43.2,88.8) rotate(-90)" >Density (ρ) (kg/m<tspan font-size="6.6" dy="-3.4">3</tspan><tspan dy="3.4">)</tspan></text>
<rect x="65" y="21.75" width="110.2" height="30.75" rx="1.5" fill="#fff" fill-opacity="0.85" stroke="#d5d5d5" stroke-width="0.6"/>
<circle cx="73" cy="27" r="2.3" fill="#d62728"/>
<circle cx="73" cy="36.5" r="2.0" fill="#ffbb88" fill-opacity="0.8"/>
<circle cx="73" cy="46.4" r="0.9" fill="#1f77b4"/>
<text x="84.7" y="29.6" font-size="7.3" text-anchor="start" textLength="46" lengthAdjust="spacingAndGlyphs" >observed_data</text>
<text x="84.7" y="39.2" font-size="7.3" text-anchor="start" textLength="88" lengthAdjust="spacingAndGlyphs" >Posterior predictive samples</text>
<text x="84.7" y="48.8" font-size="7.3" text-anchor="start" textLength="9" lengthAdjust="spacingAndGlyphs" >MH</text>
<text x="14.3" y="209.6" font-size="11.2" text-anchor="start" textLength="16" lengthAdjust="spacing" >(b)</text>
<text x="60.5" y="207.1" font-size="10.1" text-anchor="start" textLength="144" lengthAdjust="spacingAndGlyphs" >Residuals ECHAM5/MPI-OM (PI)</text>
<clipPath id="cb"><path d="M63.76,345.00L61.69,344.36L59.61,343.72L57.31,342.92L54.77,341.94L52.22,340.96L49.54,339.74L46.85,338.51L44.33,337.23L41.98,335.90L39.63,334.56L37.50,333.14L35.37,331.72L33.30,330.27L31.29,328.78L29.27,327.30L27.39,325.76L25.50,324.22L23.71,322.66L22.00,321.08L20.30,319.49L18.83,317.88L17.37,316.27L15.98,314.64L14.66,313.01L13.35,311.37L12.26,309.72L11.16,308.07L10.17,306.42L9.27,304.77L8.38,303.11L7.70,301.46L7.03,299.80L6.46,298.15L5.98,296.50L5.50,294.84L5.10,293.19L4.70,291.53L4.35,289.88L4.08,288.22L3.80,286.57L3.63,284.92L3.46,283.26L3.34,281.61L3.27,279.95L3.20,278.30L3.27,276.65L3.34,274.99L3.46,273.34L3.63,271.68L3.80,270.03L4.08,268.38L4.35,266.72L4.70,265.07L5.10,263.41L5.50,261.76L5.98,260.10L6.46,258.45L7.03,256.80L7.70,255.14L8.38,253.49L9.27,251.83L10.17,250.18L11.16,248.53L12.26,246.88L13.35,245.23L14.66,243.59L15.98,241.96L17.37,240.33L18.83,238.72L20.30,237.11L22.00,235.52L23.71,233.94L25.50,232.38L27.39,230.84L29.27,229.30L31.29,227.82L33.30,226.33L35.37,224.88L37.50,223.46L39.63,222.04L41.98,220.70L44.33,219.37L46.85,218.09L49.54,216.86L52.22,215.64L54.77,214.66L57.31,213.68L59.61,212.88L61.69,212.24L63.76,211.60L201.54,211.60L203.61,212.24L205.69,212.88L207.99,213.68L210.53,214.66L213.08,215.64L215.76,216.86L218.45,218.09L220.97,219.37L223.32,220.70L225.67,222.04L227.80,223.46L229.93,224.88L232.00,226.33L234.01,227.82L236.03,229.30L237.91,230.84L239.80,232.38L241.59,233.94L243.30,235.52L245.00,237.11L246.47,238.72L247.93,240.33L249.32,241.96L250.64,243.59L251.95,245.23L253.04,246.88L254.14,248.53L255.13,250.18L256.03,251.83L256.92,253.49L257.60,255.14L258.27,256.80L258.84,258.45L259.32,260.10L259.80,261.76L260.20,263.41L260.60,265.07L260.95,266.72L261.22,268.38L261.50,270.03L261.67,271.68L261.84,273.34L261.96,274.99L262.03,276.65L262.10,278.30L262.03,279.95L261.96,281.61L261.84,283.26L261.67,284.92L261.50,286.57L261.22,288.22L260.95,289.88L260.60,291.53L260.20,293.19L259.80,294.84L259.32,296.50L258.84,298.15L258.27,299.80L257.60,301.46L256.92,303.11L256.03,304.77L255.13,306.42L254.14,308.07L253.04,309.72L251.95,311.37L250.64,313.01L249.32,314.64L247.93,316.27L246.47,317.88L245.00,319.49L243.30,321.08L241.59,322.66L239.80,324.22L237.91,325.76L236.03,327.30L234.01,328.78L232.00,330.27L229.93,331.72L227.80,333.14L225.67,334.56L223.32,335.90L220.97,337.23L218.45,338.51L215.76,339.74L213.08,340.96L210.53,341.94L207.99,342.92L205.69,343.72L203.61,344.36L201.54,345.00Z"/></clipPath>
<g clip-path="url(#cb)"><path d="M22.56,261.34L22.99,262.59L22.41,262.67L22.10,261.76L21.32,260.68L20.41,260.10L22.00,260.77L22.56,261.34ZM41.46,225.16L43.23,224.66L44.99,224.17L45.78,222.82L47.36,222.43L48.93,222.04L51.03,221.60L53.10,221.17L53.99,221.34L54.89,221.50L55.86,221.66L56.83,221.82L57.81,221.97L58.66,222.11L59.53,222.25L60.54,222.50L61.56,222.75L63.18,222.46L64.80,222.18L65.98,222.04L67.18,221.90L68.03,222.06L68.89,222.23L69.76,222.39L70.85,222.61L71.95,222.82L72.84,222.98L73.73,223.15L74.63,223.32L75.98,223.28L77.33,223.25L78.50,223.42L79.67,223.60L80.93,223.35L82.19,223.10L85.18,220.84L85.11,222.04L85.87,223.10L87.17,222.75L88.47,222.39L89.47,223.60L87.91,224.13L86.32,224.66L84.87,225.96L82.45,226.70L79.89,227.96L77.77,230.07L78.07,231.61L79.16,232.00L80.27,232.38L81.58,232.69L82.90,233.00L82.63,234.73L83.59,235.92L85.02,233.55L87.02,232.00L87.36,230.23L88.57,228.56L90.54,227.59L91.99,228.56L92.37,230.07L93.35,230.46L95.71,229.08L96.23,231.23L96.78,232.77L97.68,233.55L98.62,234.34L98.24,235.84L96.76,236.39L95.26,236.95L93.70,236.95L92.14,236.95L90.01,237.67L87.47,239.53L89.87,238.07L91.68,238.32L91.39,240.17L93.46,240.74L91.72,241.14L89.99,241.55L89.75,242.37L88.49,242.25L87.23,242.12L86.44,243.59L83.77,244.74L83.38,246.05L82.27,246.47L81.59,247.70L81.58,248.94L79.97,249.93L78.74,250.84L77.03,252.25L76.38,253.49L76.83,255.97L76.74,257.21L75.86,257.46L75.17,255.56L75.44,253.74L74.68,253.40L73.36,253.16L71.27,253.24L70.73,254.15L69.69,254.15L67.68,253.82L65.11,255.47L64.42,257.62L63.90,260.10L64.43,262.17L65.71,263.25L67.86,263.00L68.84,260.93L71.37,260.52L70.70,263.00L69.74,265.07L71.51,265.15L73.34,265.89L73.01,268.38L72.93,269.37L74.27,270.86L75.72,270.44L77.12,271.19L77.25,271.52L76.86,272.26L75.28,272.26L74.59,271.68L72.82,271.27L71.30,270.03L71.31,269.04L70.22,267.55L68.82,267.13L67.43,266.72L65.83,265.07L64.02,265.31L61.68,264.24L59.34,263.16L58.13,261.76L58.52,260.27L57.89,259.03L56.79,257.37L55.84,255.56L55.46,253.90L55.19,252.25L53.91,252.00L53.94,253.49L54.70,255.97L55.53,258.45L55.74,259.28L55.06,259.11L54.28,257.62L53.48,255.31L52.91,253.49L52.60,251.42L52.02,250.18L50.77,249.68L50.60,248.03L50.64,247.04L50.52,245.40L51.17,243.59L52.22,241.88L53.34,240.17L54.00,238.40L55.38,237.91L54.93,236.71L53.67,236.32L54.28,233.55L54.42,232.00L54.06,230.46L52.82,230.23L52.10,229.46L51.02,229.38L49.95,229.30L48.88,228.71L46.11,229.69L46.03,228.71L43.40,230.07L41.49,230.23L38.18,232.38L35.37,233.15L33.48,233.55L36.05,232.53L37.95,231.88L39.84,231.23L40.96,230.46L39.79,230.38L38.62,230.30L39.32,229.30L38.23,228.93L40.19,227.44L41.12,226.92L44.06,226.11L42.86,225.96L41.47,225.88L41.46,225.16ZM99.21,216.56L100.75,216.10L102.27,215.64L103.44,215.35L104.60,215.05L105.74,214.76L106.65,214.71L107.55,214.66L108.46,214.61L109.36,214.56L110.26,214.52L111.18,214.43L112.10,214.35L113.01,214.27L113.91,214.19L114.81,214.11L115.71,214.03L116.57,214.01L117.42,213.99L118.28,213.97L119.13,213.95L119.99,213.93L120.78,214.05L121.58,214.17L122.39,214.30L123.21,214.42L123.90,215.01L124.93,214.96L125.96,214.91L126.99,214.86L126.03,215.25L125.05,215.64L123.73,217.47L123.69,218.70L121.89,220.37L121.35,221.70L119.73,222.04L118.98,223.10L117.91,223.17L116.84,223.25L115.77,223.32L114.48,224.17L113.15,225.02L111.98,225.30L110.80,225.59L109.51,227.07L108.00,229.15L106.93,228.93L105.43,228.34L104.77,227.07L104.51,225.59L103.89,224.52L104.69,222.75L106.46,221.70L104.84,221.37L105.12,220.37L104.87,219.03L104.05,218.09L103.13,218.05L102.21,218.00L101.29,217.96L100.38,217.63L99.49,217.29L99.21,216.56ZM93.24,219.57L94.07,219.99L94.92,220.41L95.78,220.84L96.70,221.34L97.64,221.84L97.68,223.60L98.50,224.06L99.33,224.52L97.41,225.59L96.41,227.07L94.74,227.07L92.99,226.70L91.46,225.96L89.82,225.96L91.71,224.88L93.58,223.81L92.70,223.10L91.85,222.39L90.89,222.28L89.93,222.16L88.98,222.04L88.38,221.37L87.82,220.70L90.17,219.70L91.20,219.65L92.22,219.61L93.24,219.57ZM72.44,221.37L74.25,220.23L75.36,220.13L76.47,220.03L77.35,220.13L78.24,220.23L78.83,220.87L79.45,221.50L80.45,222.04L77.72,223.10L76.27,223.10L74.83,223.10L73.45,222.89L72.38,222.64L71.32,222.39L72.44,221.37ZM69.52,220.84L72.30,219.37L73.41,219.25L74.52,219.14L75.62,219.03L74.97,220.03L73.33,220.60L71.65,221.17L70.58,221.00L69.52,220.84ZM94.81,217.78L93.75,217.78L92.69,217.78L91.62,217.78L90.56,217.78L91.09,216.86L90.75,215.95L93.20,215.05L94.27,214.90L95.34,214.74L96.40,214.58L97.45,214.43L98.49,214.27L99.36,214.25L100.24,214.23L101.11,214.21L101.98,214.19L102.86,214.17L103.65,214.23L104.44,214.30L105.24,214.36L106.04,214.42L104.84,214.79L103.63,215.15L102.51,215.40L101.37,215.64L100.21,215.95L98.92,216.25L97.61,216.56L96.05,217.47L94.81,217.78ZM93.66,219.03L92.71,219.00L91.76,218.96L90.82,218.93L89.87,218.90L88.93,218.86L87.99,218.83L89.14,217.78L90.24,217.78L91.35,217.78L92.45,217.78L93.48,217.93L94.52,218.09L93.66,219.03ZM83.28,220.70L84.54,220.70L85.80,220.70L87.02,219.37L85.73,219.43L84.44,219.50L83.28,220.70ZM85.18,226.33L86.33,226.70L87.49,227.07L88.72,225.96L87.70,225.41L86.71,224.88L85.18,226.33ZM76.92,218.39L77.80,218.45L78.68,218.51L79.56,218.57L80.44,218.64L81.33,218.70L83.46,217.78L82.60,217.72L81.73,217.66L80.87,217.60L79.85,217.66L78.82,217.72L77.79,217.78L76.92,218.39ZM84.13,218.39L85.09,218.39L86.05,218.39L86.99,217.60L85.94,217.69L84.88,217.78ZM89.25,216.86L90.28,216.76L91.32,216.66L92.34,216.56L93.07,215.15L92.08,215.23L91.09,215.32L90.09,215.40L89.25,216.86ZM94.93,239.04L96.13,239.29L97.33,239.53L98.86,239.77L99.26,238.72L97.90,237.51L98.12,235.84L96.92,236.63L94.93,239.04ZM72.81,260.27L75.02,259.53L76.47,259.19L78.41,260.52L80.26,261.59L79.17,261.84L77.76,261.84L76.33,260.27L74.95,260.10L72.81,260.27ZM79.90,263.00L81.78,261.84L83.18,262.01L84.30,262.92L83.06,263.25L81.64,263.33L79.90,263.00ZM52.99,236.55L53.87,238.32L54.82,238.40L54.84,237.27L52.99,236.55ZM77.26,271.27L78.23,270.44L78.63,269.62L79.75,269.04L81.21,268.54L81.60,268.04L82.65,268.38L82.62,268.79L83.64,269.62L85.43,269.53L86.86,269.53L88.66,269.45L89.30,271.27L90.36,271.68L91.74,273.34L93.89,273.50L95.30,274.58L96.01,274.99L96.71,276.81L97.05,278.30L98.14,279.13L100.30,279.54L101.74,280.12L103.19,280.70L104.99,281.36L107.38,282.85L107.70,284.50L107.36,285.74L106.19,287.40L105.18,289.05L104.93,291.53L104.70,294.01L104.12,296.08L103.15,297.32L101.41,297.49L100.05,298.15L98.80,299.80L98.89,301.87L97.57,303.94L96.52,306.01L95.67,307.08L93.94,306.83L92.84,306.42L93.84,308.07L94.19,309.72L92.78,310.13L91.37,310.55L91.61,312.02L89.81,312.19L90.82,313.41L90.43,315.46L89.56,316.67L90.92,317.88L90.06,319.89L90.30,321.23L91.03,322.26L92.72,323.45L91.69,323.83L89.85,323.05L87.34,321.47L86.08,319.69L84.91,317.88L84.78,316.27L84.69,314.64L84.20,312.19L83.71,310.55L83.27,308.90L83.33,307.25L83.48,305.59L83.29,303.11L83.06,301.04L82.83,298.98L82.83,297.13L82.83,295.28L82.86,293.44L81.55,292.36L79.29,291.12L78.24,289.47L76.81,286.57L75.65,284.50L74.35,282.85L74.46,281.61L75.16,280.37L74.56,279.13L75.13,277.64L76.00,277.06L76.97,275.41L77.19,272.92L76.71,272.35L77.26,271.27ZM94.61,320.44L96.78,320.44L97.08,321.31L95.15,321.08L94.61,320.44ZM128.87,248.53L128.41,247.87L127.68,247.54L126.67,247.70L126.78,246.30L126.32,246.22L126.85,244.41L126.90,243.19L126.59,242.78L127.46,242.20L129.40,242.37L131.48,242.45L131.87,241.55L131.88,240.33L131.25,239.45L129.80,238.80L129.82,238.24L131.64,238.16L131.84,237.35L132.78,237.51L133.58,236.95L134.20,236.24L134.87,235.92L135.46,234.89L136.18,234.42L136.90,234.34L137.81,234.26L138.02,233.70L137.61,232.77L137.44,231.77L138.46,231.15L138.87,231.07L138.75,232.00L139.12,232.07L138.94,233.00L138.68,233.55L139.31,233.94L140.19,233.63L141.12,233.94L142.31,233.70L143.78,233.31L144.42,233.63L145.24,233.00L145.06,231.77L145.56,231.15L146.52,231.61L146.89,231.00L146.32,230.38L146.19,229.92L147.07,229.69L148.80,229.69L149.59,229.30L148.65,228.93L147.52,229.00L145.87,229.38L144.91,228.78L144.70,227.44L145.37,226.48L146.58,225.59L146.38,225.16L144.82,224.95L144.29,225.96L143.47,226.70L142.62,227.44L142.49,228.56L143.28,229.30L143.51,229.76L142.34,231.23L142.16,232.23L141.15,232.84L140.30,232.77L140.12,232.00L139.56,231.00L139.08,230.07L138.69,229.46L138.33,230.07L137.32,230.76L136.16,230.76L135.84,230.07L135.51,228.93L135.47,227.89L136.01,227.44L137.09,226.78L138.17,226.33L138.93,225.59L139.41,224.88L140.09,223.81L140.80,223.10L141.54,222.75L142.49,222.18L143.48,221.90L144.72,221.70L145.92,221.37L146.94,221.37L148.15,222.04L148.69,222.11L149.84,222.54L151.47,222.75L152.66,223.21L153.87,223.67L154.69,224.52L153.46,224.88L152.35,224.81L151.25,224.74L150.95,225.59L151.91,226.11L153.11,226.48L153.18,225.74L154.62,225.96L154.78,224.81L156.38,224.74L155.73,223.25L156.88,223.25L157.37,223.81L158.61,223.60L159.55,223.32L160.48,223.03L161.63,223.25L163.00,222.82L164.01,222.75L164.25,222.18L166.03,222.61L167.87,223.10L168.78,223.32L168.51,222.39L167.28,222.04L166.74,221.37L166.93,220.37L167.21,220.03L168.54,220.17L169.41,221.04L169.86,222.04L171.29,223.10L170.95,224.31L171.88,223.81L171.92,223.10L173.35,223.46L172.96,221.70L171.33,221.24L172.07,220.87L172.79,220.50L174.06,220.84L173.98,221.37L175.54,222.04L177.09,222.04L176.47,220.70L175.13,220.30L173.81,219.90L172.50,219.50L173.54,219.26L174.57,219.03L175.25,218.70L175.89,218.39L176.92,218.24L177.93,218.09L178.94,217.93L179.94,217.78L180.43,217.41L180.90,217.05L182.19,217.32L183.49,217.60L184.55,217.69L185.62,217.78L186.68,218.21L188.71,219.70L190.26,219.87L191.82,220.03L192.81,220.03L193.81,220.03L195.00,220.20L196.21,220.37L197.21,220.37L199.49,221.37L200.08,221.04L201.35,221.04L202.62,221.04L202.72,220.37L203.78,220.41L204.84,220.46L205.91,220.50L207.30,220.77L208.70,221.04L210.92,221.50L211.84,221.44L212.76,221.37L214.81,221.70L216.33,222.39L217.37,222.39L218.41,222.39L219.45,222.39L220.50,222.04L221.61,222.09L222.71,222.13L223.81,222.18L225.27,222.46L226.74,222.75L228.87,224.17L230.99,225.59L230.67,225.96L231.83,227.44L231.10,227.74L230.36,228.04L230.29,229.30L229.14,229.30L227.99,229.30L226.72,229.46L228.14,231.00L229.08,232.38L229.34,233.78L229.40,234.81L229.72,236.32L227.81,234.73L225.21,232.38L224.51,231.00L225.34,230.84L224.67,228.93L225.00,228.04L224.55,227.44L223.21,227.96L223.18,228.41L220.94,228.19L221.50,229.69L220.16,230.07L218.19,229.84L216.46,229.84L214.95,230.07L214.70,231.03L214.44,232.00L213.91,233.39L215.57,233.94L216.50,234.34L218.35,234.73L219.99,236.32L221.20,238.32L220.79,239.53L221.05,242.37L219.49,243.02L218.23,243.10L217.62,243.19L218.01,244.41L217.49,245.23L217.35,245.64L218.40,246.47L220.05,248.53L220.23,249.19L218.88,249.68L218.37,249.60L217.84,248.12L217.11,247.13L216.29,246.96L215.45,245.56L213.62,244.82L212.40,244.41L213.46,244.90L213.55,246.05L212.18,245.23L211.81,245.89L211.22,246.05L211.20,246.47L212.53,247.54L213.36,247.13L214.81,247.37L213.84,248.53L213.46,249.35L214.85,250.76L216.23,252.08L216.57,252.83L216.30,253.24L216.90,253.57L216.87,254.73L216.38,255.97L216.16,257.21L215.30,258.04L214.49,259.36L212.83,259.86L211.19,260.52L210.45,261.51L209.92,260.52L208.92,260.44L207.92,261.18L207.50,262.59L208.16,263.74L209.91,265.48L210.60,267.22L210.69,268.71L209.36,269.70L207.88,271.19L207.65,269.78L206.30,269.20L205.10,267.80L203.97,267.22L204.15,268.38L203.66,270.03L204.52,271.35L204.73,272.51L205.92,273.17L206.92,274.58L207.03,275.98L207.56,277.14L207.06,277.22L205.44,275.98L204.69,274.58L204.70,273.17L203.25,271.68L203.04,270.44L203.08,268.38L202.30,266.06L201.97,264.65L201.19,264.65L200.20,265.23L199.63,264.65L199.72,263.16L198.89,262.17L197.73,260.93L197.33,259.69L196.29,259.77L195.30,260.27L193.93,260.52L193.73,261.59L192.76,262.34L191.06,264.24L189.78,265.48L189.73,267.55L189.71,269.20L189.40,269.78L188.67,270.94L188.20,271.68L187.52,270.94L186.75,268.79L185.72,266.31L184.83,265.07L184.14,262.42L183.80,260.60L183.62,259.69L182.37,261.10L181.17,259.77L181.96,259.28L180.49,258.70L179.90,257.79L179.13,257.29L177.76,257.46L175.67,257.54L173.52,257.13L172.66,256.96L171.89,255.89L170.61,256.22L168.76,255.31L167.54,253.74L166.33,253.40L165.82,253.74L166.20,254.73L167.18,256.05L167.66,256.63L168.05,257.54L168.61,256.96L168.80,258.20L170.50,258.37L171.73,256.80L172.12,257.71L172.90,258.53L174.11,259.53L174.70,259.77L173.94,261.43L173.53,262.42L171.69,264.24L169.78,265.40L167.98,266.14L166.55,266.84L165.12,267.55L163.70,267.80L163.30,266.72L162.98,264.74L161.80,262.59L160.18,260.27L159.57,258.45L158.72,257.21L158.07,256.13L157.08,255.14L156.78,253.90L156.40,255.31L155.87,254.73L155.16,253.57L154.85,252.50L156.15,252.41L156.50,251.17L156.76,249.77L156.97,248.69L157.01,247.95L155.99,247.87L154.91,248.45L154.20,248.12L153.24,247.95L152.18,248.12L151.13,247.70L150.33,246.47L150.12,245.64L150.37,244.90L151.70,244.41L150.79,244.49L149.81,244.58L148.49,244.58L147.87,244.98L147.61,245.07L148.15,245.89L147.90,246.88L148.17,246.96L148.00,248.12L147.50,247.70L146.78,247.04L146.88,246.63L146.06,245.56L145.47,244.82L145.45,243.76L144.74,243.19L143.72,242.61L142.69,241.80L142.45,241.14L141.47,241.06L141.44,240.58L140.56,240.90L140.60,241.47L141.49,242.37L142.14,243.35L143.14,243.68L144.90,245.07L144.79,245.40L143.83,244.90L143.71,246.14L143.26,246.47L143.06,245.23L142.22,244.66L141.07,244.09L139.97,243.27L139.49,242.78L138.94,241.96L138.15,241.71L137.52,242.12L136.69,242.70L135.57,242.37L134.67,242.70L134.75,243.68L133.31,244.41L132.65,245.56L132.45,246.38L132.18,247.21L131.24,247.95L129.69,247.95L128.87,248.53ZM38.56,222.75L39.08,223.28L39.62,223.81L40.47,224.52L40.88,224.88L38.20,225.96L37.56,225.23L35.94,225.41L34.31,225.59ZM129.09,237.11L130.79,236.55L132.12,236.39L133.45,236.24L133.69,234.97L132.83,234.42L132.53,233.55L131.75,232.69L131.41,231.61L131.59,231.15L130.61,230.38L129.74,230.38L129.00,231.30L129.33,232.15L129.05,233.00L129.76,233.31L130.73,233.23L130.52,234.42L129.85,234.57L130.07,235.37L129.45,235.68L130.49,236.00L129.09,237.11ZM128.97,235.37L128.84,233.94L129.17,233.00L128.16,232.92L127.53,233.55L126.60,233.94L126.66,234.89L126.31,235.68L127.72,235.84L128.97,235.37ZM120.23,226.33L119.52,225.66L120.70,225.23L119.79,224.88L120.54,224.59L121.74,224.66L122.94,224.74L124.57,224.66L124.77,225.23L125.27,225.59L124.40,226.11L122.65,226.78L121.04,226.48L120.23,226.33ZM137.69,216.56L138.93,215.76L140.22,215.54L141.10,215.50L141.97,215.45L142.88,215.50L143.79,215.54L144.70,215.59L143.90,215.91L143.09,216.23L142.27,216.56L141.45,216.99L140.21,217.72L139.17,217.17L137.69,216.56ZM158.76,221.04L159.76,221.50L160.80,221.54L161.85,221.57L160.18,220.37L160.13,219.37L160.77,218.76L161.34,218.21L162.14,218.00L162.93,217.80L163.72,217.60L165.03,217.47L164.59,218.09L163.96,218.49L163.29,218.92L162.58,219.37L161.89,219.87L161.18,220.37L160.10,220.70L158.76,221.04ZM175.81,216.25L177.12,216.41L178.45,216.56L179.41,216.41L180.35,216.25L178.45,215.64L176.63,215.15L175.70,215.27L174.76,215.40L175.81,216.25ZM199.38,219.37L200.51,219.48L201.65,219.59L202.79,219.70L203.42,219.45L204.05,219.20L204.67,218.95L205.27,218.70L203.77,218.49L202.29,218.29L200.81,218.09L199.89,218.24L198.95,218.39L199.38,219.37ZM223.59,240.33L222.80,237.91L223.43,237.91L221.23,236.32L219.72,234.34L218.69,233.70L219.27,234.73L220.42,236.32L221.86,237.91L223.12,239.85L223.59,240.33ZM224.67,244.00L225.31,243.76L225.04,243.02L226.58,243.59L227.33,242.53L226.31,241.96L223.94,240.82L224.11,241.55L224.58,242.61L224.01,242.53L224.67,244.00ZM225.71,244.09L226.98,245.64L226.87,246.71L227.32,247.70L227.71,248.86L227.34,249.19L226.99,249.60L225.67,249.68L225.80,250.34L224.95,250.59L224.48,249.77L223.05,249.93L221.79,250.18L221.56,249.77L221.94,248.94L222.95,248.94L224.27,248.86L224.44,247.46L225.50,247.29L225.90,246.38L225.44,245.23L225.71,244.09ZM221.20,250.76L221.82,250.26L222.80,251.01L222.84,252.33L222.22,252.50L221.20,250.76ZM223.14,251.01L224.37,250.34L223.90,250.01L223.15,250.18L223.14,251.01ZM217.01,259.28L217.82,260.19L218.03,258.04L217.60,257.37L217.03,257.95L217.01,259.28ZM209.46,262.42L210.22,263.25L210.86,262.83L211.08,261.92L210.48,261.68L209.46,261.92L209.46,262.42ZM189.92,273.25L191.32,272.51L190.98,271.27L189.93,270.19L189.78,271.68L189.92,273.25ZM140.94,246.88L143.07,246.63L142.81,247.95L140.94,246.88ZM138.24,246.05L139.04,245.97L139.11,244.41L138.05,244.41L138.24,246.05ZM138.31,244.09L138.90,244.09L138.78,242.78L138.27,243.10L138.31,244.09ZM148.56,249.10L150.46,249.19L149.27,249.43L148.56,249.10ZM154.57,249.60L155.71,249.43L156.03,248.78L154.80,249.19L154.57,249.60ZM155.09,253.49L154.85,252.50L153.93,252.16L153.26,252.41L152.61,252.74L151.21,252.45L149.81,252.16L148.40,251.59L147.00,251.17L146.37,252.00L146.49,252.83L145.75,253.24L144.55,252.66L143.26,251.59L141.53,251.09L140.50,250.92L139.60,250.34L140.10,249.19L139.71,247.87L139.02,247.46L138.03,247.79L136.01,247.87L134.67,247.87L133.32,248.12L131.97,248.86L131.16,249.27L129.07,248.61L128.46,248.94L128.02,250.18L126.78,250.76L126.03,253.16L125.38,254.31L123.62,255.39L122.54,256.63L121.43,258.70L120.66,260.93L120.99,262.09L121.31,263.41L120.92,264.90L120.19,266.14L120.67,267.38L120.72,268.13L121.57,268.79L122.13,269.53L123.13,270.44L123.98,271.85L124.62,272.68L126.19,274.00L127.26,274.66L129.06,274.08L131.21,274.33L132.65,273.67L134.09,273.09L135.88,273.09L136.82,274.74L137.68,274.66L138.83,274.58L139.69,275.82L139.48,277.47L139.34,279.13L140.55,281.19L141.27,282.44L141.48,283.35L141.97,285.33L142.30,287.40L141.56,289.47L141.03,291.95L141.01,293.19L142.03,295.50L142.84,296.91L142.99,299.39L143.28,301.04L144.08,302.04L144.69,303.94L145.15,305.59L145.16,306.59L145.88,307.00L146.57,306.83L147.96,306.42L149.66,306.42L150.70,306.17L151.80,305.26L152.93,304.10L154.01,302.70L155.05,301.71L155.40,299.80L156.06,299.39L157.40,298.15L157.66,296.08L157.24,294.68L158.49,293.60L160.71,291.95L161.56,290.71L161.60,287.81L160.94,286.16L160.84,284.09L160.66,282.44L161.54,280.53L162.55,279.62L163.71,277.89L165.00,276.81L166.41,275.16L167.60,273.17L168.48,271.44L169.14,269.62L169.30,268.54L168.04,268.95L166.61,269.12L164.85,269.62L163.74,268.79L163.50,268.13L162.96,267.13L161.85,266.06L160.75,265.48L159.93,263.41L158.95,260.93L158.55,260.10L157.56,258.86L157.11,257.21L156.16,255.72L155.17,253.65L155.09,253.49ZM167.87,288.22L168.51,291.12L167.90,292.77L166.88,295.26L166.28,297.07L165.68,298.89L164.24,299.39L163.29,298.15L163.12,296.50L163.98,295.26L163.85,292.77L165.57,291.37L166.86,289.88L167.87,288.22ZM212.52,296.50L213.04,296.33L214.99,295.34L216.71,294.84L218.19,294.43L219.38,292.77L220.37,291.95L221.70,290.29L223.19,289.71L223.93,290.71L224.93,290.62L225.62,289.05L227.35,287.81L229.06,288.39L230.37,288.22L229.54,289.63L229.12,290.71L230.36,291.70L231.44,292.77L232.52,292.69L233.50,289.88L233.74,288.64L234.58,287.15L235.10,288.64L235.11,290.13L236.10,290.71L236.13,292.36L236.16,294.01L237.66,295.26L238.46,296.91L239.72,299.14L239.13,301.87L237.90,303.94L236.99,305.18L235.40,306.42L233.21,309.31L231.73,309.56L230.06,310.55L229.61,309.64L228.28,310.38L226.69,309.72L226.28,309.23L226.73,307.82L226.02,307.74L226.69,306.75L225.94,307.25L226.14,306.09L224.89,307.17L224.40,305.35L222.81,304.35L220.38,304.77L218.08,305.43L216.78,306.34L214.30,306.42L212.65,307.25L211.19,306.75L211.04,306.01L211.95,304.77L212.15,302.70L212.10,300.22L212.08,298.56L212.52,296.50ZM228.12,311.94L230.45,312.11L229.01,313.99L227.95,314.31L227.67,313.25L228.12,311.94ZM249.99,306.75L250.42,308.07L250.57,309.31L252.20,309.47L250.99,310.71L250.16,310.96L247.81,312.68L247.61,312.35L248.51,311.70L248.40,310.71L249.86,309.06L249.99,306.75ZM246.86,311.78L247.28,312.43L245.93,313.58L244.97,314.15L243.43,314.89L241.98,316.18L240.66,316.75L239.28,316.27L241.11,315.05L243.79,313.82L245.71,312.60L246.86,311.78ZM226.82,279.46L229.00,278.96L229.65,281.03L231.49,279.54L233.98,280.45L236.46,281.44L237.47,282.85L238.51,283.26L238.73,284.92L239.97,286.98L238.24,286.57L237.30,284.92L235.89,284.59L235.08,285.74L233.64,285.83L232.28,284.92L231.33,285.25L232.00,283.92L231.74,282.68L229.27,281.61L228.05,281.61L227.51,280.62L226.82,279.46ZM211.01,277.06L211.35,276.65L212.78,276.07L213.84,275.65L214.53,274.50L215.58,273.92L216.36,272.59L217.13,273.42L218.23,273.83L217.62,274.58L217.30,275.82L218.13,277.47L217.21,277.89L217.13,278.96L216.37,280.37L216.12,281.61L214.91,281.28L213.84,280.95L212.91,280.78L211.84,280.70L211.73,279.54L211.18,278.30L211.01,277.06ZM201.06,273.67L202.66,274.00L204.81,276.40L205.61,276.89L207.30,278.30L207.90,279.95L208.89,280.78L208.59,283.10L207.65,283.18L206.14,281.61L205.11,279.54L204.05,277.89L203.52,276.81L202.34,275.32L201.06,273.67ZM208.11,283.92L208.80,283.18L210.50,283.59L211.91,284.01L213.42,284.01L214.80,284.75L214.55,285.41L211.85,285.00L210.07,284.75L208.94,284.42L208.11,283.92ZM218.44,282.85L218.36,281.19L218.02,280.53L218.81,278.30L219.49,277.22L221.80,277.47L222.65,277.06L222.10,277.97L219.66,277.89L218.95,278.47L219.77,279.62L221.31,278.80L220.34,279.95L220.59,281.03L220.63,282.10L219.77,282.19L219.16,280.78L219.02,282.85L218.44,282.85ZM218.04,263.00L219.17,263.00L219.24,264.24L219.09,265.48L219.61,266.72L221.13,267.55L221.10,267.96L219.64,267.05L218.59,266.56L217.95,265.07L218.04,263.00ZM220.15,272.51L221.14,271.27L222.52,270.44L223.35,272.10L222.72,273.34L221.62,272.92L220.15,272.51ZM49.54,339.74L50.59,339.80L51.65,339.86L52.70,339.92L53.74,339.98L54.79,340.04L55.95,340.16L57.12,340.29L58.27,340.41L59.42,340.53L60.56,340.65L60.87,340.35L61.20,340.04L61.54,339.74L61.90,339.43L62.27,339.13L62.62,338.67L62.99,338.21L63.74,338.09L64.49,337.96L65.26,337.84L66.05,337.70L66.85,337.57L67.70,337.48L68.56,337.38L69.42,337.29L70.28,337.19L71.15,337.10L72.17,337.13L73.18,337.15L74.20,337.18L75.21,337.21L76.22,337.23L77.28,337.30L78.33,337.37L79.38,337.44L80.43,337.50L81.47,337.57L82.19,337.07L82.93,336.57L83.92,336.57L84.92,336.57L85.91,336.57L86.91,336.57L87.90,336.57L88.95,336.63L90.00,336.70L91.05,336.77L92.09,336.83L93.13,336.90L93.74,336.07L94.38,335.23L95.57,335.23L96.76,335.23L97.95,335.23L97.76,333.14L97.68,331.01L98.76,330.59L99.86,330.17L100.97,329.75L100.25,330.64L99.14,331.72L98.82,333.14L101.13,334.56L101.62,336.23L103.41,337.57L104.92,338.06L106.43,338.51L107.54,338.76L108.64,339.00L109.73,339.25L110.81,339.49L111.87,339.74L112.79,339.74L113.72,339.74L114.64,339.74L115.57,339.74L116.49,339.74L117.52,339.43L118.57,339.13L119.36,338.67L120.16,338.21L121.03,337.90L121.93,337.57L122.84,337.23L123.76,336.90L124.68,336.46L125.61,336.01L126.57,335.56L127.73,335.34L128.90,335.12L130.08,334.90L131.11,334.83L132.14,334.76L133.17,334.70L134.20,334.63L135.23,334.56L136.27,334.56L137.30,334.56L138.33,334.56L139.37,334.56L140.40,334.56L141.42,334.63L142.44,334.70L143.46,334.76L144.48,334.83L145.49,334.90L146.75,334.67L148.01,334.44L149.28,334.21L150.31,334.23L151.35,334.25L152.38,334.28L153.72,333.90L155.07,333.52L156.44,333.14L157.58,332.93L158.73,332.72L159.88,332.50L161.04,332.29L162.21,332.08L163.39,332.43L164.54,332.79L165.58,332.84L166.61,332.89L167.65,332.95L168.68,333.00L169.24,333.85L170.46,334.42L172.05,333.96L173.65,333.50L175.12,333.14L176.59,332.79L178.08,332.43L179.55,332.25L181.02,332.08L182.37,332.08L183.71,332.08L185.20,331.90L186.69,331.72L187.77,331.72L188.86,331.72L189.94,331.72L191.02,331.72L192.10,331.72L193.12,332.08L194.12,332.43L195.63,332.25L197.15,332.08L198.27,332.03L199.39,331.99L200.51,331.95L201.63,331.91L202.75,331.86L204.18,331.79L205.61,331.72L206.68,331.97L207.73,332.22L208.74,332.50L209.73,332.79L210.62,333.14L211.50,333.50L212.59,333.67L213.67,333.85L214.51,334.21L215.34,334.56L216.31,334.76L217.27,334.96L218.06,335.26L218.84,335.56L217.17,336.57L213.50,337.90L211.30,338.51L209.13,339.13L208.84,339.74L209.99,339.74L211.15,339.74L212.07,339.74L212.99,339.74L213.92,339.74L214.84,339.74L215.76,339.74L213.08,340.96L210.53,341.94L207.99,342.92L205.69,343.72L203.61,344.36L201.54,345.00L200.78,345.00L200.01,345.00L199.25,345.00L198.48,345.00L197.72,345.00L196.95,345.00L196.18,345.00L195.42,345.00L194.65,345.00L193.89,345.00L193.12,345.00L192.36,345.00L191.59,345.00L190.83,345.00L190.06,345.00L189.30,345.00L188.53,345.00L187.76,345.00L187.00,345.00L186.23,345.00L185.47,345.00L184.70,345.00L183.94,345.00L183.17,345.00L182.41,345.00L181.64,345.00L180.88,345.00L180.11,345.00L179.34,345.00L178.58,345.00L177.81,345.00L177.05,345.00L176.28,345.00L175.52,345.00L174.75,345.00L173.99,345.00L173.22,345.00L172.46,345.00L171.69,345.00L170.92,345.00L170.16,345.00L169.39,345.00L168.63,345.00L167.86,345.00L167.10,345.00L166.33,345.00L165.57,345.00L164.80,345.00L164.03,345.00L163.27,345.00L162.50,345.00L161.74,345.00L160.97,345.00L160.21,345.00L159.44,345.00L158.68,345.00L157.91,345.00L157.15,345.00L156.38,345.00L155.61,345.00L154.85,345.00L154.08,345.00L153.32,345.00L152.55,345.00L151.79,345.00L151.02,345.00L150.26,345.00L149.49,345.00L148.73,345.00L147.96,345.00L147.19,345.00L146.43,345.00L145.66,345.00L144.90,345.00L144.13,345.00L143.37,345.00L142.60,345.00L141.84,345.00L141.07,345.00L140.30,345.00L139.54,345.00L138.77,345.00L138.01,345.00L137.24,345.00L136.48,345.00L135.71,345.00L134.95,345.00L134.18,345.00L133.42,345.00L132.65,345.00L131.88,345.00L131.12,345.00L130.35,345.00L129.59,345.00L128.82,345.00L128.06,345.00L127.29,345.00L126.53,345.00L125.76,345.00L125.00,345.00L124.23,345.00L123.46,345.00L122.70,345.00L121.93,345.00L121.17,345.00L120.40,345.00L119.64,345.00L118.87,345.00L118.11,345.00L117.34,345.00L116.57,345.00L115.81,345.00L115.04,345.00L114.28,345.00L113.51,345.00L112.75,345.00L111.98,345.00L111.22,345.00L110.45,345.00L109.69,345.00L108.92,345.00L108.15,345.00L107.39,345.00L106.62,345.00L105.86,345.00L105.09,345.00L104.33,345.00L103.56,345.00L102.80,345.00L102.03,345.00L101.27,345.00L100.50,345.00L99.73,345.00L98.97,345.00L98.20,345.00L97.44,345.00L96.67,345.00L95.91,345.00L95.14,345.00L94.38,345.00L93.61,345.00L92.84,345.00L92.08,345.00L91.31,345.00L90.55,345.00L89.78,345.00L89.02,345.00L88.25,345.00L87.49,345.00L86.72,345.00L85.96,345.00L85.19,345.00L84.42,345.00L83.66,345.00L82.89,345.00L82.13,345.00L81.36,345.00L80.60,345.00L79.83,345.00L79.07,345.00L78.30,345.00L77.54,345.00L76.77,345.00L76.00,345.00L75.24,345.00L74.47,345.00L73.71,345.00L72.94,345.00L72.18,345.00L71.41,345.00L70.65,345.00L69.88,345.00L69.12,345.00L68.35,345.00L67.58,345.00L66.82,345.00L66.05,345.00L65.29,345.00L64.52,345.00L63.76,345.00Z" fill="#cfcfcf" stroke="#7a7a7a" stroke-width="0.45"/><path d="M162.83,241.55L163.61,242.78L164.13,243.68L165.13,244.66L165.46,245.23L165.35,246.47L165.36,247.29L166.38,247.70L167.28,247.87L168.82,247.46L168.39,245.64L167.64,245.23L167.48,244.25L167.94,243.43L166.91,242.94L166.05,242.61L165.46,241.71L165.79,241.47L166.74,240.90L166.57,239.77L165.21,239.45L164.17,239.85L163.92,240.42L163.28,240.66L162.83,241.55ZM151.05,244.00L151.74,244.25L153.39,244.25L154.61,243.59L155.58,243.51L156.73,244.17L158.04,244.49L159.02,244.41L159.93,244.00L159.83,243.10L158.66,242.45L157.56,241.71L156.86,241.39L157.32,240.74L156.27,239.93L155.47,240.82L156.13,240.90L155.26,241.47L154.30,241.55L153.67,240.82L154.17,240.33L152.75,239.85L152.25,239.93L151.68,240.82L151.22,241.71L150.93,243.02L151.05,244.00Z" fill="#fff" stroke="#7a7a7a" stroke-width="0.45"/><circle cx="42.90" cy="233.80" r="1.35" fill="#fae4d8" fill-opacity="0.75" stroke="#e2b096" stroke-width="0.45"/><circle cx="51.00" cy="252.30" r="1.35" fill="#fae4d8" fill-opacity="0.75" stroke="#e2b096" stroke-width="0.45"/><circle cx="69.20" cy="256.60" r="1.35" fill="#ebf0f4" fill-opacity="0.75" stroke="#a6b8c8" stroke-width="0.45"/><circle cx="81.21" cy="263.91" r="1.35" fill="#f3f3f3" fill-opacity="0.75" stroke="#b8b8b8" stroke-width="0.45"/><circle cx="77.63" cy="267.93" r="1.35" fill="#ebf0f4" fill-opacity="0.75" stroke="#a6b8c8" stroke-width="0.45"/><circle cx="81.75" cy="263.35" r="1.35" fill="#f3f3f3" fill-opacity="0.75" stroke="#b8b8b8" stroke-width="0.45"/><circle cx="79.79" cy="263.52" r="1.35" fill="#ebf0f4" fill-opacity="0.75" stroke="#a6b8c8" stroke-width="0.45"/><circle cx="77.91" cy="263.54" r="1.35" fill="#ebf0f4" fill-opacity="0.75" stroke="#a6b8c8" stroke-width="0.45"/><circle cx="77.77" cy="266.39" r="1.35" fill="#ebf0f4" fill-opacity="0.75" stroke="#a6b8c8" stroke-width="0.45"/><circle cx="85.20" cy="266.50" r="1.35" fill="#ebf0f4" fill-opacity="0.75" stroke="#a6b8c8" stroke-width="0.45"/><circle cx="84.50" cy="265.38" r="1.35" fill="#ebf0f4" fill-opacity="0.75" stroke="#a6b8c8" stroke-width="0.45"/><circle cx="77.61" cy="268.15" r="1.35" fill="#ebf0f4" fill-opacity="0.75" stroke="#a6b8c8" stroke-width="0.45"/><circle cx="82.45" cy="266.24" r="1.35" fill="#f3f3f3" fill-opacity="0.75" stroke="#b8b8b8" stroke-width="0.45"/><circle cx="81.01" cy="267.90" r="1.35" fill="#ebf0f4" fill-opacity="0.75" stroke="#a6b8c8" stroke-width="0.45"/><circle cx="78.34" cy="266.43" r="1.35" fill="#ebf0f4" fill-opacity="0.75" stroke="#a6b8c8" stroke-width="0.45"/><circle cx="69.70" cy="274.00" r="1.35" fill="#fae4d8" fill-opacity="0.75" stroke="#e2b096" stroke-width="0.45"/><circle cx="69.61" cy="278.74" r="1.35" fill="#fae4d8" fill-opacity="0.75" stroke="#e2b096" stroke-width="0.45"/><circle cx="70.95" cy="279.10" r="1.35" fill="#fae4d8" fill-opacity="0.75" stroke="#e2b096" stroke-width="0.45"/><circle cx="71.76" cy="278.14" r="1.35" fill="#fae4d8" fill-opacity="0.75" stroke="#e2b096" stroke-width="0.45"/><circle cx="70.26" cy="280.62" r="1.35" fill="#fae4d8" fill-opacity="0.75" stroke="#e2b096" stroke-width="0.45"/><circle cx="69.10" cy="279.97" r="1.35" fill="#fae4d8" fill-opacity="0.75" stroke="#e2b096" stroke-width="0.45"/><circle cx="67.57" cy="277.50" r="1.35" fill="#fae4d8" fill-opacity="0.75" stroke="#e2b096" stroke-width="0.45"/><circle cx="56.60" cy="279.00" r="1.35" fill="#fae4d8" fill-opacity="0.75" stroke="#e2b096" stroke-width="0.45"/><circle cx="56.60" cy="283.40" r="1.35" fill="#ebf0f4" fill-opacity="0.75" stroke="#a6b8c8" stroke-width="0.45"/><circle cx="63.10" cy="286.00" r="1.35" fill="#ebf0f4" fill-opacity="0.75" stroke="#a6b8c8" stroke-width="0.45"/><circle cx="77.20" cy="292.80" r="1.35" fill="#fae4d8" fill-opacity="0.75" stroke="#e2b096" stroke-width="0.45"/><circle cx="79.00" cy="299.40" r="1.35" fill="#ebf0f4" fill-opacity="0.75" stroke="#a6b8c8" stroke-width="0.45"/><circle cx="60.30" cy="323.40" r="1.35" fill="#fae4d8" fill-opacity="0.75" stroke="#e2b096" stroke-width="0.45"/><circle cx="64.50" cy="324.30" r="1.35" fill="#f3f3f3" fill-opacity="0.75" stroke="#b8b8b8" stroke-width="0.45"/><circle cx="12.90" cy="284.70" r="1.35" fill="#ebf0f4" fill-opacity="0.75" stroke="#a6b8c8" stroke-width="0.45"/><circle cx="88.40" cy="252.30" r="1.35" fill="#f3f3f3" fill-opacity="0.75" stroke="#b8b8b8" stroke-width="0.45"/><circle cx="93.00" cy="251.00" r="1.35" fill="#f3f3f3" fill-opacity="0.75" stroke="#b8b8b8" stroke-width="0.45"/><circle cx="103.70" cy="259.54" r="1.35" fill="#ebf0f4" fill-opacity="0.75" stroke="#a6b8c8" stroke-width="0.45"/><circle cx="102.21" cy="256.00" r="1.35" fill="#ebf0f4" fill-opacity="0.75" stroke="#a6b8c8" stroke-width="0.45"/><circle cx="99.72" cy="257.45" r="1.35" fill="#ebf0f4" fill-opacity="0.75" stroke="#a6b8c8" stroke-width="0.45"/><circle cx="101.16" cy="260.79" r="1.35" fill="#ebf0f4" fill-opacity="0.75" stroke="#a6b8c8" stroke-width="0.45"/><circle cx="103.08" cy="258.69" r="1.35" fill="#ebf0f4" fill-opacity="0.75" stroke="#a6b8c8" stroke-width="0.45"/><circle cx="100.70" cy="257.49" r="1.35" fill="#ebf0f4" fill-opacity="0.75" stroke="#a6b8c8" stroke-width="0.45"/><circle cx="99.70" cy="268.80" r="1.35" fill="#f3f3f3" fill-opacity="0.75" stroke="#b8b8b8" stroke-width="0.45"/><circle cx="102.66" cy="274.10" r="1.35" fill="#f3f3f3" fill-opacity="0.75" stroke="#b8b8b8" stroke-width="0.45"/><circle cx="103.39" cy="274.16" r="1.35" fill="#f3f3f3" fill-opacity="0.75" stroke="#b8b8b8" stroke-width="0.45"/><circle cx="101.62" cy="274.96" r="1.35" fill="#f3f3f3" fill-opacity="0.75" stroke="#b8b8b8" stroke-width="0.45"/><circle cx="102.07" cy="273.85" r="1.35" fill="#f3f3f3" fill-opacity="0.75" stroke="#b8b8b8" stroke-width="0.45"/><circle cx="107.20" cy="282.80" r="1.35" fill="#f3f3f3" fill-opacity="0.75" stroke="#b8b8b8" stroke-width="0.45"/><circle cx="108.09" cy="275.85" r="1.35" fill="#fae4d8" fill-opacity="0.75" stroke="#e2b096" stroke-width="0.45"/><circle cx="110.44" cy="275.97" r="1.35" fill="#fae4d8" fill-opacity="0.75" stroke="#e2b096" stroke-width="0.45"/><circle cx="111.07" cy="274.52" r="1.35" fill="#fae4d8" fill-opacity="0.75" stroke="#e2b096" stroke-width="0.45"/><circle cx="109.59" cy="277.67" r="1.35" fill="#fae4d8" fill-opacity="0.75" stroke="#e2b096" stroke-width="0.45"/><circle cx="113.48" cy="275.87" r="1.35" fill="#f3f3f3" fill-opacity="0.75" stroke="#b8b8b8" stroke-width="0.45"/><circle cx="114.67" cy="273.53" r="1.35" fill="#fae4d8" fill-opacity="0.75" stroke="#e2b096" stroke-width="0.45"/><circle cx="118.18" cy="274.59" r="1.35" fill="#fae4d8" fill-opacity="0.75" stroke="#e2b096" stroke-width="0.45"/><circle cx="118.92" cy="277.62" r="1.35" fill="#fae4d8" fill-opacity="0.75" stroke="#e2b096" stroke-width="0.45"/><circle cx="118.75" cy="273.63" r="1.35" fill="#fae4d8" fill-opacity="0.75" stroke="#e2b096" stroke-width="0.45"/><circle cx="113.91" cy="277.44" r="1.35" fill="#fae4d8" fill-opacity="0.75" stroke="#e2b096" stroke-width="0.45"/><circle cx="115.91" cy="276.92" r="1.35" fill="#fae4d8" fill-opacity="0.75" stroke="#e2b096" stroke-width="0.45"/><circle cx="114.69" cy="273.59" r="1.35" fill="#f3f3f3" fill-opacity="0.75" stroke="#b8b8b8" stroke-width="0.45"/><circle cx="106.22" cy="252.27" r="1.35" fill="#ebf0f4" fill-opacity="0.75" stroke="#a6b8c8" stroke-width="0.45"/><circle cx="108.14" cy="252.06" r="1.35" fill="#ebf0f4" fill-opacity="0.75" stroke="#a6b8c8" stroke-width="0.45"/><circle cx="106.74" cy="253.48" r="1.35" fill="#ebf0f4" fill-opacity="0.75" stroke="#a6b8c8" stroke-width="0.45"/><circle cx="106.39" cy="251.58" r="1.35" fill="#ebf0f4" fill-opacity="0.75" stroke="#a6b8c8" stroke-width="0.45"/><circle cx="123.26" cy="254.50" r="1.35" fill="#ebf0f4" fill-opacity="0.75" stroke="#a6b8c8" stroke-width="0.45"/><circle cx="125.89" cy="258.74" r="1.35" fill="#ebf0f4" fill-opacity="0.75" stroke="#a6b8c8" stroke-width="0.45"/><circle cx="121.05" cy="254.39" r="1.35" fill="#ebf0f4" fill-opacity="0.75" stroke="#a6b8c8" stroke-width="0.45"/><circle cx="122.75" cy="259.81" r="1.35" fill="#ebf0f4" fill-opacity="0.75" stroke="#a6b8c8" stroke-width="0.45"/><circle cx="123.10" cy="254.59" r="1.35" fill="#ebf0f4" fill-opacity="0.75" stroke="#a6b8c8" stroke-width="0.45"/><circle cx="123.11" cy="255.46" r="1.35" fill="#ebf0f4" fill-opacity="0.75" stroke="#a6b8c8" stroke-width="0.45"/><circle cx="125.67" cy="260.55" r="1.35" fill="#ebf0f4" fill-opacity="0.75" stroke="#a6b8c8" stroke-width="0.45"/><circle cx="119.42" cy="263.31" r="1.35" fill="#ebf0f4" fill-opacity="0.75" stroke="#a6b8c8" stroke-width="0.45"/><circle cx="122.10" cy="257.29" r="1.35" fill="#ebf0f4" fill-opacity="0.75" stroke="#a6b8c8" stroke-width="0.45"/><circle cx="119.27" cy="257.64" r="1.35" fill="#ebf0f4" fill-opacity="0.75" stroke="#a6b8c8" stroke-width="0.45"/><circle cx="124.83" cy="282.02" r="1.35" fill="#fae4d8" fill-opacity="0.75" stroke="#e2b096" stroke-width="0.45"/><circle cx="122.64" cy="284.28" r="1.35" fill="#fae4d8" fill-opacity="0.75" stroke="#e2b096" stroke-width="0.45"/><circle cx="122.17" cy="280.73" r="1.35" fill="#fae4d8" fill-opacity="0.75" stroke="#e2b096" stroke-width="0.45"/><circle cx="127.07" cy="278.59" r="1.35" fill="#fae4d8" fill-opacity="0.75" stroke="#e2b096" stroke-width="0.45"/><circle cx="126.57" cy="278.27" r="1.35" fill="#fae4d8" fill-opacity="0.75" stroke="#e2b096" stroke-width="0.45"/><circle cx="128.27" cy="279.09" r="1.35" fill="#fae4d8" fill-opacity="0.75" stroke="#e2b096" stroke-width="0.45"/><circle cx="125.26" cy="282.78" r="1.35" fill="#fae4d8" fill-opacity="0.75" stroke="#e2b096" stroke-width="0.45"/><circle cx="126.09" cy="281.34" r="1.35" fill="#fae4d8" fill-opacity="0.75" stroke="#e2b096" stroke-width="0.45"/><circle cx="127.45" cy="283.12" r="1.35" fill="#fae4d8" fill-opacity="0.75" stroke="#e2b096" stroke-width="0.45"/><circle cx="122.60" cy="280.29" r="1.35" fill="#fae4d8" fill-opacity="0.75" stroke="#e2b096" stroke-width="0.45"/><circle cx="128.92" cy="282.87" r="1.35" fill="#f2bca8" fill-opacity="0.75" stroke="#d4846c" stroke-width="0.45"/><circle cx="123.07" cy="282.02" r="1.35" fill="#fae4d8" fill-opacity="0.75" stroke="#e2b096" stroke-width="0.45"/><circle cx="130.60" cy="282.80" r="1.35" fill="#fae4d8" fill-opacity="0.75" stroke="#e2b096" stroke-width="0.45"/><circle cx="136.30" cy="278.00" r="1.35" fill="#fae4d8" fill-opacity="0.75" stroke="#e2b096" stroke-width="0.45"/><circle cx="134.40" cy="276.30" r="1.35" fill="#fae4d8" fill-opacity="0.75" stroke="#e2b096" stroke-width="0.45"/><circle cx="139.00" cy="283.80" r="1.35" fill="#f2bca8" fill-opacity="0.75" stroke="#d4846c" stroke-width="0.45"/><circle cx="139.50" cy="284.00" r="1.35" fill="#d86a55" fill-opacity="0.75" stroke="#b04a3a" stroke-width="0.45"/><circle cx="118.27" cy="240.65" r="1.35" fill="#ebf0f4" fill-opacity="0.75" stroke="#a6b8c8" stroke-width="0.45"/><circle cx="119.57" cy="240.69" r="1.35" fill="#ebf0f4" fill-opacity="0.75" stroke="#a6b8c8" stroke-width="0.45"/><circle cx="118.08" cy="238.93" r="1.35" fill="#ebf0f4" fill-opacity="0.75" stroke="#a6b8c8" stroke-width="0.45"/><circle cx="116.24" cy="241.97" r="1.35" fill="#ebf0f4" fill-opacity="0.75" stroke="#a6b8c8" stroke-width="0.45"/><circle cx="116.19" cy="243.00" r="1.35" fill="#ebf0f4" fill-opacity="0.75" stroke="#a6b8c8" stroke-width="0.45"/><circle cx="117.86" cy="243.52" r="1.35" fill="#ebf0f4" fill-opacity="0.75" stroke="#a6b8c8" stroke-width="0.45"/><circle cx="113.70" cy="246.17" r="1.35" fill="#ebf0f4" fill-opacity="0.75" stroke="#a6b8c8" stroke-width="0.45"/><circle cx="114.47" cy="244.80" r="1.35" fill="#ebf0f4" fill-opacity="0.75" stroke="#a6b8c8" stroke-width="0.45"/><circle cx="114.14" cy="246.78" r="1.35" fill="#ebf0f4" fill-opacity="0.75" stroke="#a6b8c8" stroke-width="0.45"/><circle cx="111.28" cy="249.60" r="1.35" fill="#ebf0f4" fill-opacity="0.75" stroke="#a6b8c8" stroke-width="0.45"/><circle cx="110.55" cy="248.23" r="1.35" fill="#ebf0f4" fill-opacity="0.75" stroke="#a6b8c8" stroke-width="0.45"/><circle cx="111.29" cy="248.60" r="1.35" fill="#ebf0f4" fill-opacity="0.75" stroke="#a6b8c8" stroke-width="0.45"/><circle cx="108.22" cy="252.43" r="1.35" fill="#ebf0f4" fill-opacity="0.75" stroke="#a6b8c8" stroke-width="0.45"/><circle cx="107.25" cy="251.06" r="1.35" fill="#ebf0f4" fill-opacity="0.75" stroke="#a6b8c8" stroke-width="0.45"/><circle cx="108.57" cy="251.84" r="1.35" fill="#ebf0f4" fill-opacity="0.75" stroke="#a6b8c8" stroke-width="0.45"/><circle cx="103.61" cy="252.70" r="1.35" fill="#ebf0f4" fill-opacity="0.75" stroke="#a6b8c8" stroke-width="0.45"/><circle cx="103.56" cy="254.57" r="1.35" fill="#ebf0f4" fill-opacity="0.75" stroke="#a6b8c8" stroke-width="0.45"/><circle cx="105.14" cy="252.75" r="1.35" fill="#ebf0f4" fill-opacity="0.75" stroke="#a6b8c8" stroke-width="0.45"/><circle cx="102.03" cy="257.90" r="1.35" fill="#ebf0f4" fill-opacity="0.75" stroke="#a6b8c8" stroke-width="0.45"/><circle cx="101.63" cy="256.39" r="1.35" fill="#ebf0f4" fill-opacity="0.75" stroke="#a6b8c8" stroke-width="0.45"/><circle cx="101.37" cy="255.86" r="1.35" fill="#ebf0f4" fill-opacity="0.75" stroke="#a6b8c8" stroke-width="0.45"/><circle cx="97.73" cy="261.03" r="1.35" fill="#ebf0f4" fill-opacity="0.75" stroke="#a6b8c8" stroke-width="0.45"/><circle cx="99.26" cy="259.96" r="1.35" fill="#ebf0f4" fill-opacity="0.75" stroke="#a6b8c8" stroke-width="0.45"/><circle cx="99.94" cy="259.74" r="1.35" fill="#ebf0f4" fill-opacity="0.75" stroke="#a6b8c8" stroke-width="0.45"/><circle cx="98.99" cy="263.78" r="1.35" fill="#ebf0f4" fill-opacity="0.75" stroke="#a6b8c8" stroke-width="0.45"/><circle cx="97.41" cy="262.40" r="1.35" fill="#ebf0f4" fill-opacity="0.75" stroke="#a6b8c8" stroke-width="0.45"/><circle cx="97.60" cy="262.38" r="1.35" fill="#ebf0f4" fill-opacity="0.75" stroke="#a6b8c8" stroke-width="0.45"/><circle cx="99.91" cy="265.42" r="1.35" fill="#ebf0f4" fill-opacity="0.75" stroke="#a6b8c8" stroke-width="0.45"/><circle cx="99.51" cy="265.11" r="1.35" fill="#ebf0f4" fill-opacity="0.75" stroke="#a6b8c8" stroke-width="0.45"/><circle cx="100.68" cy="265.65" r="1.35" fill="#ebf0f4" fill-opacity="0.75" stroke="#a6b8c8" stroke-width="0.45"/><circle cx="109.25" cy="245.50" r="1.35" fill="#f3f3f3" fill-opacity="0.75" stroke="#b8b8b8" stroke-width="0.45"/><circle cx="108.57" cy="247.51" r="1.35" fill="#f3f3f3" fill-opacity="0.75" stroke="#b8b8b8" stroke-width="0.45"/><circle cx="103.35" cy="242.91" r="1.35" fill="#f3f3f3" fill-opacity="0.75" stroke="#b8b8b8" stroke-width="0.45"/><circle cx="101.34" cy="244.64" r="1.35" fill="#ebf0f4" fill-opacity="0.75" stroke="#a6b8c8" stroke-width="0.45"/><circle cx="111.95" cy="246.66" r="1.35" fill="#ebf0f4" fill-opacity="0.75" stroke="#a6b8c8" stroke-width="0.45"/><circle cx="104.10" cy="244.84" r="1.35" fill="#f3f3f3" fill-opacity="0.75" stroke="#b8b8b8" stroke-width="0.45"/><circle cx="103.17" cy="242.37" r="1.35" fill="#f3f3f3" fill-opacity="0.75" stroke="#b8b8b8" stroke-width="0.45"/><circle cx="110.33" cy="245.33" r="1.35" fill="#ebf0f4" fill-opacity="0.75" stroke="#a6b8c8" stroke-width="0.45"/><circle cx="130.17" cy="237.91" r="1.35" fill="#ebf0f4" fill-opacity="0.75" stroke="#a6b8c8" stroke-width="0.45"/><circle cx="128.78" cy="237.88" r="1.35" fill="#ebf0f4" fill-opacity="0.75" stroke="#a6b8c8" stroke-width="0.45"/><circle cx="128.60" cy="238.70" r="1.35" fill="#ebf0f4" fill-opacity="0.75" stroke="#a6b8c8" stroke-width="0.45"/><circle cx="126.06" cy="240.39" r="1.35" fill="#ebf0f4" fill-opacity="0.75" stroke="#a6b8c8" stroke-width="0.45"/><circle cx="126.13" cy="239.25" r="1.35" fill="#ebf0f4" fill-opacity="0.75" stroke="#a6b8c8" stroke-width="0.45"/><circle cx="127.95" cy="239.81" r="1.35" fill="#ebf0f4" fill-opacity="0.75" stroke="#a6b8c8" stroke-width="0.45"/><circle cx="124.90" cy="243.80" r="1.35" fill="#ebf0f4" fill-opacity="0.75" stroke="#a6b8c8" stroke-width="0.45"/><circle cx="125.52" cy="244.86" r="1.35" fill="#ebf0f4" fill-opacity="0.75" stroke="#a6b8c8" stroke-width="0.45"/><circle cx="125.52" cy="243.75" r="1.35" fill="#ebf0f4" fill-opacity="0.75" stroke="#a6b8c8" stroke-width="0.45"/><circle cx="123.95" cy="249.75" r="1.35" fill="#ebf0f4" fill-opacity="0.75" stroke="#a6b8c8" stroke-width="0.45"/><circle cx="124.76" cy="249.85" r="1.35" fill="#ebf0f4" fill-opacity="0.75" stroke="#a6b8c8" stroke-width="0.45"/><circle cx="124.69" cy="248.41" r="1.35" fill="#ebf0f4" fill-opacity="0.75" stroke="#a6b8c8" stroke-width="0.45"/><circle cx="122.20" cy="253.43" r="1.35" fill="#ebf0f4" fill-opacity="0.75" stroke="#a6b8c8" stroke-width="0.45"/><circle cx="122.08" cy="253.23" r="1.35" fill="#ebf0f4" fill-opacity="0.75" stroke="#a6b8c8" stroke-width="0.45"/><circle cx="122.64" cy="253.46" r="1.35" fill="#ebf0f4" fill-opacity="0.75" stroke="#a6b8c8" stroke-width="0.45"/><circle cx="120.23" cy="257.11" r="1.35" fill="#ebf0f4" fill-opacity="0.75" stroke="#a6b8c8" stroke-width="0.45"/><circle cx="120.04" cy="258.05" r="1.35" fill="#ebf0f4" fill-opacity="0.75" stroke="#a6b8c8" stroke-width="0.45"/><circle cx="121.68" cy="257.79" r="1.35" fill="#ebf0f4" fill-opacity="0.75" stroke="#a6b8c8" stroke-width="0.45"/><circle cx="118.93" cy="260.91" r="1.35" fill="#ebf0f4" fill-opacity="0.75" stroke="#a6b8c8" stroke-width="0.45"/><circle cx="118.47" cy="261.34" r="1.35" fill="#ebf0f4" fill-opacity="0.75" stroke="#a6b8c8" stroke-width="0.45"/><circle cx="119.69" cy="260.59" r="1.35" fill="#ebf0f4" fill-opacity="0.75" stroke="#a6b8c8" stroke-width="0.45"/><circle cx="119.17" cy="263.93" r="1.35" fill="#ebf0f4" fill-opacity="0.75" stroke="#a6b8c8" stroke-width="0.45"/><circle cx="118.74" cy="264.05" r="1.35" fill="#ebf0f4" fill-opacity="0.75" stroke="#a6b8c8" stroke-width="0.45"/><circle cx="118.81" cy="265.59" r="1.35" fill="#ebf0f4" fill-opacity="0.75" stroke="#a6b8c8" stroke-width="0.45"/><circle cx="117.51" cy="266.74" r="1.35" fill="#ebf0f4" fill-opacity="0.75" stroke="#a6b8c8" stroke-width="0.45"/><circle cx="117.41" cy="266.08" r="1.35" fill="#ebf0f4" fill-opacity="0.75" stroke="#a6b8c8" stroke-width="0.45"/><circle cx="117.43" cy="266.58" r="1.35" fill="#ebf0f4" fill-opacity="0.75" stroke="#a6b8c8" stroke-width="0.45"/><circle cx="95.80" cy="243.50" r="1.35" fill="#fae4d8" fill-opacity="0.75" stroke="#e2b096" stroke-width="0.45"/><circle cx="101.25" cy="244.25" r="1.35" fill="#fae4d8" fill-opacity="0.75" stroke="#e2b096" stroke-width="0.45"/><circle cx="121.22" cy="230.33" r="1.35" fill="#ebf0f4" fill-opacity="0.75" stroke="#a6b8c8" stroke-width="0.45"/><circle cx="142.95" cy="216.51" r="1.35" fill="#ebf0f4" fill-opacity="0.75" stroke="#a6b8c8" stroke-width="0.45"/><circle cx="113.72" cy="238.32" r="1.35" fill="#ebf0f4" fill-opacity="0.75" stroke="#a6b8c8" stroke-width="0.45"/><circle cx="126.85" cy="230.25" r="1.35" fill="#ebf0f4" fill-opacity="0.75" stroke="#a6b8c8" stroke-width="0.45"/><circle cx="132.92" cy="216.00" r="1.35" fill="#ebf0f4" fill-opacity="0.75" stroke="#a6b8c8" stroke-width="0.45"/><circle cx="136.58" cy="219.14" r="1.35" fill="#ebf0f4" fill-opacity="0.75" stroke="#a6b8c8" stroke-width="0.45"/><circle cx="129.50" cy="220.45" r="1.35" fill="#ebf0f4" fill-opacity="0.75" stroke="#a6b8c8" stroke-width="0.45"/><circle cx="119.55" cy="231.53" r="1.35" fill="#ebf0f4" fill-opacity="0.75" stroke="#a6b8c8" stroke-width="0.45"/><circle cx="113.70" cy="244.23" r="1.35" fill="#f3f3f3" fill-opacity="0.75" stroke="#b8b8b8" stroke-width="0.45"/><circle cx="118.29" cy="238.44" r="1.35" fill="#ebf0f4" fill-opacity="0.75" stroke="#a6b8c8" stroke-width="0.45"/><circle cx="123.49" cy="235.52" r="1.35" fill="#ebf0f4" fill-opacity="0.75" stroke="#a6b8c8" stroke-width="0.45"/><circle cx="141.58" cy="216.56" r="1.35" fill="#f3f3f3" fill-opacity="0.75" stroke="#b8b8b8" stroke-width="0.45"/><circle cx="122.99" cy="229.58" r="1.35" fill="#ebf0f4" fill-opacity="0.75" stroke="#a6b8c8" stroke-width="0.45"/><circle cx="114.35" cy="242.54" r="1.35" fill="#f3f3f3" fill-opacity="0.75" stroke="#b8b8b8" stroke-width="0.45"/><circle cx="130.53" cy="226.56" r="1.35" fill="#ebf0f4" fill-opacity="0.75" stroke="#a6b8c8" stroke-width="0.45"/><circle cx="121.09" cy="229.95" r="1.35" fill="#ebf0f4" fill-opacity="0.75" stroke="#a6b8c8" stroke-width="0.45"/><circle cx="117.32" cy="234.98" r="1.35" fill="#ebf0f4" fill-opacity="0.75" stroke="#a6b8c8" stroke-width="0.45"/><circle cx="115.61" cy="232.62" r="1.35" fill="#f3f3f3" fill-opacity="0.75" stroke="#b8b8b8" stroke-width="0.45"/><circle cx="138.57" cy="218.20" r="1.35" fill="#f3f3f3" fill-opacity="0.75" stroke="#b8b8b8" stroke-width="0.45"/><circle cx="125.29" cy="222.52" r="1.35" fill="#f3f3f3" fill-opacity="0.75" stroke="#b8b8b8" stroke-width="0.45"/><circle cx="137.05" cy="217.67" r="1.35" fill="#f3f3f3" fill-opacity="0.75" stroke="#b8b8b8" stroke-width="0.45"/><circle cx="137.08" cy="213.54" r="1.35" fill="#f3f3f3" fill-opacity="0.75" stroke="#b8b8b8" stroke-width="0.45"/><circle cx="110.88" cy="241.00" r="1.35" fill="#f3f3f3" fill-opacity="0.75" stroke="#b8b8b8" stroke-width="0.45"/><circle cx="126.66" cy="221.19" r="1.35" fill="#ebf0f4" fill-opacity="0.75" stroke="#a6b8c8" stroke-width="0.45"/><circle cx="109.44" cy="237.68" r="1.35" fill="#ebf0f4" fill-opacity="0.75" stroke="#a6b8c8" stroke-width="0.45"/><circle cx="115.69" cy="238.34" r="1.35" fill="#ebf0f4" fill-opacity="0.75" stroke="#a6b8c8" stroke-width="0.45"/><circle cx="125.28" cy="225.82" r="1.35" fill="#ebf0f4" fill-opacity="0.75" stroke="#a6b8c8" stroke-width="0.45"/><circle cx="114.34" cy="233.09" r="1.35" fill="#ebf0f4" fill-opacity="0.75" stroke="#a6b8c8" stroke-width="0.45"/><circle cx="116.40" cy="237.90" r="1.35" fill="#ebf0f4" fill-opacity="0.75" stroke="#a6b8c8" stroke-width="0.45"/><circle cx="129.98" cy="217.47" r="1.35" fill="#ebf0f4" fill-opacity="0.75" stroke="#a6b8c8" stroke-width="0.45"/><circle cx="132.00" cy="222.74" r="1.35" fill="#f3f3f3" fill-opacity="0.75" stroke="#b8b8b8" stroke-width="0.45"/><circle cx="117.57" cy="228.61" r="1.35" fill="#ebf0f4" fill-opacity="0.75" stroke="#a6b8c8" stroke-width="0.45"/><circle cx="124.50" cy="222.70" r="1.35" fill="#ebf0f4" fill-opacity="0.75" stroke="#a6b8c8" stroke-width="0.45"/><circle cx="114.80" cy="232.48" r="1.35" fill="#ebf0f4" fill-opacity="0.75" stroke="#a6b8c8" stroke-width="0.45"/><circle cx="134.66" cy="221.77" r="1.35" fill="#ebf0f4" fill-opacity="0.75" stroke="#a6b8c8" stroke-width="0.45"/><circle cx="111.91" cy="240.48" r="1.35" fill="#f3f3f3" fill-opacity="0.75" stroke="#b8b8b8" stroke-width="0.45"/><circle cx="120.51" cy="229.68" r="1.35" fill="#ebf0f4" fill-opacity="0.75" stroke="#a6b8c8" stroke-width="0.45"/><circle cx="122.40" cy="225.60" r="1.35" fill="#ebf0f4" fill-opacity="0.75" stroke="#a6b8c8" stroke-width="0.45"/><circle cx="111.44" cy="244.03" r="1.35" fill="#f3f3f3" fill-opacity="0.75" stroke="#b8b8b8" stroke-width="0.45"/><circle cx="112.51" cy="245.53" r="1.35" fill="#ebf0f4" fill-opacity="0.75" stroke="#a6b8c8" stroke-width="0.45"/><circle cx="133.62" cy="214.66" r="1.35" fill="#f3f3f3" fill-opacity="0.75" stroke="#b8b8b8" stroke-width="0.45"/><circle cx="122.20" cy="233.60" r="1.35" fill="#ebf0f4" fill-opacity="0.75" stroke="#a6b8c8" stroke-width="0.45"/><circle cx="130.85" cy="222.59" r="1.35" fill="#ebf0f4" fill-opacity="0.75" stroke="#a6b8c8" stroke-width="0.45"/><circle cx="123.76" cy="224.15" r="1.35" fill="#ebf0f4" fill-opacity="0.75" stroke="#a6b8c8" stroke-width="0.45"/><circle cx="122.81" cy="231.35" r="1.35" fill="#ebf0f4" fill-opacity="0.75" stroke="#a6b8c8" stroke-width="0.45"/><circle cx="116.56" cy="232.08" r="1.35" fill="#ebf0f4" fill-opacity="0.75" stroke="#a6b8c8" stroke-width="0.45"/><circle cx="122.31" cy="230.56" r="1.35" fill="#ebf0f4" fill-opacity="0.75" stroke="#a6b8c8" stroke-width="0.45"/><circle cx="117.00" cy="238.20" r="1.35" fill="#ebf0f4" fill-opacity="0.75" stroke="#a6b8c8" stroke-width="0.45"/><circle cx="124.51" cy="232.67" r="1.35" fill="#ebf0f4" fill-opacity="0.75" stroke="#a6b8c8" stroke-width="0.45"/><circle cx="124.32" cy="228.04" r="1.35" fill="#ebf0f4" fill-opacity="0.75" stroke="#a6b8c8" stroke-width="0.45"/><circle cx="142.96" cy="216.65" r="1.35" fill="#f3f3f3" fill-opacity="0.75" stroke="#b8b8b8" stroke-width="0.45"/><circle cx="140.11" cy="215.85" r="1.35" fill="#ebf0f4" fill-opacity="0.75" stroke="#a6b8c8" stroke-width="0.45"/><circle cx="116.65" cy="239.48" r="1.35" fill="#ebf0f4" fill-opacity="0.75" stroke="#a6b8c8" stroke-width="0.45"/><circle cx="133.07" cy="223.30" r="1.35" fill="#ebf0f4" fill-opacity="0.75" stroke="#a6b8c8" stroke-width="0.45"/><circle cx="114.18" cy="242.64" r="1.35" fill="#f3f3f3" fill-opacity="0.75" stroke="#b8b8b8" stroke-width="0.45"/><circle cx="119.51" cy="227.09" r="1.35" fill="#f3f3f3" fill-opacity="0.75" stroke="#b8b8b8" stroke-width="0.45"/><circle cx="114.42" cy="238.66" r="1.35" fill="#ebf0f4" fill-opacity="0.75" stroke="#a6b8c8" stroke-width="0.45"/><circle cx="135.14" cy="222.88" r="1.35" fill="#f3f3f3" fill-opacity="0.75" stroke="#b8b8b8" stroke-width="0.45"/><circle cx="113.86" cy="244.35" r="1.35" fill="#f3f3f3" fill-opacity="0.75" stroke="#b8b8b8" stroke-width="0.45"/><circle cx="124.30" cy="223.45" r="1.35" fill="#f3f3f3" fill-opacity="0.75" stroke="#b8b8b8" stroke-width="0.45"/><circle cx="121.01" cy="225.53" r="1.35" fill="#ebf0f4" fill-opacity="0.75" stroke="#a6b8c8" stroke-width="0.45"/><circle cx="118.42" cy="239.93" r="1.35" fill="#ebf0f4" fill-opacity="0.75" stroke="#a6b8c8" stroke-width="0.45"/><circle cx="140.19" cy="214.01" r="1.35" fill="#ebf0f4" fill-opacity="0.75" stroke="#a6b8c8" stroke-width="0.45"/><circle cx="116.18" cy="233.95" r="1.35" fill="#ebf0f4" fill-opacity="0.75" stroke="#a6b8c8" stroke-width="0.45"/><circle cx="116.51" cy="238.03" r="1.35" fill="#f3f3f3" fill-opacity="0.75" stroke="#b8b8b8" stroke-width="0.45"/><circle cx="116.70" cy="237.01" r="1.35" fill="#ebf0f4" fill-opacity="0.75" stroke="#a6b8c8" stroke-width="0.45"/><circle cx="109.42" cy="240.67" r="1.35" fill="#ebf0f4" fill-opacity="0.75" stroke="#a6b8c8" stroke-width="0.45"/><circle cx="113.77" cy="239.89" r="1.35" fill="#f3f3f3" fill-opacity="0.75" stroke="#b8b8b8" stroke-width="0.45"/><circle cx="118.22" cy="236.19" r="1.35" fill="#ebf0f4" fill-opacity="0.75" stroke="#a6b8c8" stroke-width="0.45"/><circle cx="129.47" cy="223.98" r="1.35" fill="#ebf0f4" fill-opacity="0.75" stroke="#a6b8c8" stroke-width="0.45"/><circle cx="129.04" cy="230.15" r="1.35" fill="#ebf0f4" fill-opacity="0.75" stroke="#a6b8c8" stroke-width="0.45"/><circle cx="134.86" cy="221.28" r="1.35" fill="#ebf0f4" fill-opacity="0.75" stroke="#a6b8c8" stroke-width="0.45"/><circle cx="115.69" cy="231.04" r="1.35" fill="#f3f3f3" fill-opacity="0.75" stroke="#b8b8b8" stroke-width="0.45"/><circle cx="123.59" cy="225.52" r="1.35" fill="#ebf0f4" fill-opacity="0.75" stroke="#a6b8c8" stroke-width="0.45"/><circle cx="122.13" cy="225.46" r="1.35" fill="#f3f3f3" fill-opacity="0.75" stroke="#b8b8b8" stroke-width="0.45"/><circle cx="133.43" cy="214.31" r="1.35" fill="#f3f3f3" fill-opacity="0.75" stroke="#b8b8b8" stroke-width="0.45"/><circle cx="136.03" cy="213.75" r="1.35" fill="#fae4d8" fill-opacity="0.75" stroke="#e2b096" stroke-width="0.45"/><circle cx="138.75" cy="216.16" r="1.35" fill="#fae4d8" fill-opacity="0.75" stroke="#e2b096" stroke-width="0.45"/><circle cx="137.03" cy="213.86" r="1.35" fill="#fae4d8" fill-opacity="0.75" stroke="#e2b096" stroke-width="0.45"/><circle cx="134.38" cy="214.58" r="1.35" fill="#fae4d8" fill-opacity="0.75" stroke="#e2b096" stroke-width="0.45"/><circle cx="137.35" cy="215.17" r="1.35" fill="#fae4d8" fill-opacity="0.75" stroke="#e2b096" stroke-width="0.45"/><circle cx="133.44" cy="215.77" r="1.35" fill="#fae4d8" fill-opacity="0.75" stroke="#e2b096" stroke-width="0.45"/><circle cx="134.55" cy="213.57" r="1.35" fill="#fae4d8" fill-opacity="0.75" stroke="#e2b096" stroke-width="0.45"/><circle cx="137.09" cy="215.06" r="1.35" fill="#f3f3f3" fill-opacity="0.75" stroke="#b8b8b8" stroke-width="0.45"/><circle cx="132.24" cy="213.52" r="1.35" fill="#fae4d8" fill-opacity="0.75" stroke="#e2b096" stroke-width="0.45"/><circle cx="122.54" cy="223.14" r="1.35" fill="#fae4d8" fill-opacity="0.75" stroke="#e2b096" stroke-width="0.45"/><circle cx="123.47" cy="221.73" r="1.35" fill="#fae4d8" fill-opacity="0.75" stroke="#e2b096" stroke-width="0.45"/><circle cx="120.78" cy="220.76" r="1.35" fill="#fae4d8" fill-opacity="0.75" stroke="#e2b096" stroke-width="0.45"/><circle cx="123.84" cy="223.42" r="1.35" fill="#fae4d8" fill-opacity="0.75" stroke="#e2b096" stroke-width="0.45"/><circle cx="123.44" cy="223.47" r="1.35" fill="#f3f3f3" fill-opacity="0.75" stroke="#b8b8b8" stroke-width="0.45"/><circle cx="123.03" cy="221.05" r="1.35" fill="#fae4d8" fill-opacity="0.75" stroke="#e2b096" stroke-width="0.45"/><circle cx="124.97" cy="228.52" r="1.35" fill="#ebf0f4" fill-opacity="0.75" stroke="#a6b8c8" stroke-width="0.45"/><circle cx="124.65" cy="229.47" r="1.35" fill="#ebf0f4" fill-opacity="0.75" stroke="#a6b8c8" stroke-width="0.45"/><circle cx="125.81" cy="230.51" r="1.35" fill="#ebf0f4" fill-opacity="0.75" stroke="#a6b8c8" stroke-width="0.45"/><circle cx="129.85" cy="229.45" r="1.35" fill="#ebf0f4" fill-opacity="0.75" stroke="#a6b8c8" stroke-width="0.45"/><circle cx="115.32" cy="247.82" r="1.35" fill="#ebf0f4" fill-opacity="0.75" stroke="#a6b8c8" stroke-width="0.45"/><circle cx="117.91" cy="247.72" r="1.35" fill="#ebf0f4" fill-opacity="0.75" stroke="#a6b8c8" stroke-width="0.45"/><circle cx="115.60" cy="249.14" r="1.35" fill="#f3f3f3" fill-opacity="0.75" stroke="#b8b8b8" stroke-width="0.45"/><circle cx="113.54" cy="249.08" r="1.35" fill="#ebf0f4" fill-opacity="0.75" stroke="#a6b8c8" stroke-width="0.45"/><circle cx="111.60" cy="245.31" r="1.35" fill="#ebf0f4" fill-opacity="0.75" stroke="#a6b8c8" stroke-width="0.45"/><circle cx="118.21" cy="244.94" r="1.35" fill="#ebf0f4" fill-opacity="0.75" stroke="#a6b8c8" stroke-width="0.45"/><circle cx="111.08" cy="245.48" r="1.35" fill="#f3f3f3" fill-opacity="0.75" stroke="#b8b8b8" stroke-width="0.45"/><circle cx="117.14" cy="245.16" r="1.35" fill="#f3f3f3" fill-opacity="0.75" stroke="#b8b8b8" stroke-width="0.45"/><circle cx="117.37" cy="248.03" r="1.35" fill="#f3f3f3" fill-opacity="0.75" stroke="#b8b8b8" stroke-width="0.45"/><circle cx="117.33" cy="244.71" r="1.35" fill="#f3f3f3" fill-opacity="0.75" stroke="#b8b8b8" stroke-width="0.45"/><circle cx="104.75" cy="231.00" r="1.35" fill="#ebf0f4" fill-opacity="0.75" stroke="#a6b8c8" stroke-width="0.45"/><circle cx="105.40" cy="236.60" r="1.35" fill="#ebf0f4" fill-opacity="0.75" stroke="#a6b8c8" stroke-width="0.45"/><circle cx="110.40" cy="235.40" r="1.35" fill="#ebf0f4" fill-opacity="0.75" stroke="#a6b8c8" stroke-width="0.45"/><circle cx="112.25" cy="234.75" r="1.35" fill="#ebf0f4" fill-opacity="0.75" stroke="#a6b8c8" stroke-width="0.45"/><circle cx="108.50" cy="240.40" r="1.35" fill="#ebf0f4" fill-opacity="0.75" stroke="#a6b8c8" stroke-width="0.45"/><circle cx="111.00" cy="242.25" r="1.35" fill="#ebf0f4" fill-opacity="0.75" stroke="#a6b8c8" stroke-width="0.45"/><circle cx="126.60" cy="238.50" r="1.35" fill="#ebf0f4" fill-opacity="0.75" stroke="#a6b8c8" stroke-width="0.45"/><circle cx="129.75" cy="239.75" r="1.35" fill="#ebf0f4" fill-opacity="0.75" stroke="#a6b8c8" stroke-width="0.45"/><circle cx="131.00" cy="241.00" r="1.35" fill="#ebf0f4" fill-opacity="0.75" stroke="#a6b8c8" stroke-width="0.45"/><circle cx="125.40" cy="243.50" r="1.35" fill="#ebf0f4" fill-opacity="0.75" stroke="#a6b8c8" stroke-width="0.45"/><circle cx="126.00" cy="246.00" r="1.35" fill="#ebf0f4" fill-opacity="0.75" stroke="#a6b8c8" stroke-width="0.45"/><circle cx="96.60" cy="243.50" r="1.35" fill="#fae4d8" fill-opacity="0.75" stroke="#e2b096" stroke-width="0.45"/><circle cx="101.60" cy="244.00" r="1.35" fill="#f3f3f3" fill-opacity="0.75" stroke="#b8b8b8" stroke-width="0.45"/><circle cx="102.50" cy="249.60" r="1.35" fill="#f3f3f3" fill-opacity="0.75" stroke="#b8b8b8" stroke-width="0.45"/><circle cx="105.60" cy="249.00" r="1.35" fill="#f3f3f3" fill-opacity="0.75" stroke="#b8b8b8" stroke-width="0.45"/><circle cx="93.10" cy="250.90" r="1.35" fill="#f3f3f3" fill-opacity="0.75" stroke="#b8b8b8" stroke-width="0.45"/><circle cx="101.25" cy="244.60" r="1.35" fill="#fae4d8" fill-opacity="0.75" stroke="#e2b096" stroke-width="0.45"/><circle cx="152.00" cy="218.40" r="1.35" fill="#f3f3f3" fill-opacity="0.75" stroke="#b8b8b8" stroke-width="0.45"/><circle cx="141.82" cy="219.94" r="1.35" fill="#ebf0f4" fill-opacity="0.75" stroke="#a6b8c8" stroke-width="0.45"/><circle cx="142.60" cy="216.16" r="1.35" fill="#ebf0f4" fill-opacity="0.75" stroke="#a6b8c8" stroke-width="0.45"/><circle cx="141.70" cy="218.61" r="1.35" fill="#ebf0f4" fill-opacity="0.75" stroke="#a6b8c8" stroke-width="0.45"/><circle cx="142.01" cy="215.25" r="1.35" fill="#ebf0f4" fill-opacity="0.75" stroke="#a6b8c8" stroke-width="0.45"/><circle cx="105.30" cy="296.60" r="1.35" fill="#ebf0f4" fill-opacity="0.75" stroke="#a6b8c8" stroke-width="0.45"/><circle cx="100.60" cy="301.30" r="1.35" fill="#f3f3f3" fill-opacity="0.75" stroke="#b8b8b8" stroke-width="0.45"/><circle cx="102.50" cy="303.00" r="1.35" fill="#f3f3f3" fill-opacity="0.75" stroke="#b8b8b8" stroke-width="0.45"/><circle cx="107.20" cy="304.00" r="1.35" fill="#fae4d8" fill-opacity="0.75" stroke="#e2b096" stroke-width="0.45"/><circle cx="111.00" cy="303.00" r="1.35" fill="#fae4d8" fill-opacity="0.75" stroke="#e2b096" stroke-width="0.45"/><circle cx="113.80" cy="305.00" r="1.35" fill="#fae4d8" fill-opacity="0.75" stroke="#e2b096" stroke-width="0.45"/><circle cx="109.00" cy="302.20" r="1.35" fill="#fae4d8" fill-opacity="0.75" stroke="#e2b096" stroke-width="0.45"/><circle cx="96.00" cy="309.70" r="1.35" fill="#fae4d8" fill-opacity="0.75" stroke="#e2b096" stroke-width="0.45"/><circle cx="95.00" cy="313.40" r="1.35" fill="#fae4d8" fill-opacity="0.75" stroke="#e2b096" stroke-width="0.45"/><circle cx="94.00" cy="316.30" r="1.35" fill="#fae4d8" fill-opacity="0.75" stroke="#e2b096" stroke-width="0.45"/><circle cx="96.90" cy="318.00" r="1.35" fill="#f3f3f3" fill-opacity="0.75" stroke="#b8b8b8" stroke-width="0.45"/><circle cx="96.00" cy="322.00" r="1.35" fill="#fae4d8" fill-opacity="0.75" stroke="#e2b096" stroke-width="0.45"/><circle cx="97.80" cy="323.80" r="1.35" fill="#f3f3f3" fill-opacity="0.75" stroke="#b8b8b8" stroke-width="0.45"/><circle cx="100.60" cy="324.70" r="1.35" fill="#f3f3f3" fill-opacity="0.75" stroke="#b8b8b8" stroke-width="0.45"/><circle cx="101.60" cy="322.00" r="1.35" fill="#f3f3f3" fill-opacity="0.75" stroke="#b8b8b8" stroke-width="0.45"/><circle cx="108.00" cy="323.80" r="1.35" fill="#f3f3f3" fill-opacity="0.75" stroke="#b8b8b8" stroke-width="0.45"/><circle cx="114.70" cy="322.00" r="1.35" fill="#f3f3f3" fill-opacity="0.75" stroke="#b8b8b8" stroke-width="0.45"/><circle cx="82.80" cy="313.40" r="1.35" fill="#fae4d8" fill-opacity="0.75" stroke="#e2b096" stroke-width="0.45"/><circle cx="81.90" cy="306.00" r="1.35" fill="#fae4d8" fill-opacity="0.75" stroke="#e2b096" stroke-width="0.45"/><circle cx="125.00" cy="297.50" r="1.35" fill="#ebf0f4" fill-opacity="0.75" stroke="#a6b8c8" stroke-width="0.45"/><circle cx="123.00" cy="299.40" r="1.35" fill="#ebf0f4" fill-opacity="0.75" stroke="#a6b8c8" stroke-width="0.45"/><circle cx="136.30" cy="297.50" r="1.35" fill="#f3f3f3" fill-opacity="0.75" stroke="#b8b8b8" stroke-width="0.45"/><circle cx="134.40" cy="302.20" r="1.35" fill="#f3f3f3" fill-opacity="0.75" stroke="#b8b8b8" stroke-width="0.45"/><circle cx="125.57" cy="291.96" r="1.35" fill="#ebf0f4" fill-opacity="0.75" stroke="#a6b8c8" stroke-width="0.45"/><circle cx="124.02" cy="292.47" r="1.35" fill="#ebf0f4" fill-opacity="0.75" stroke="#a6b8c8" stroke-width="0.45"/><circle cx="127.53" cy="293.24" r="1.35" fill="#ebf0f4" fill-opacity="0.75" stroke="#a6b8c8" stroke-width="0.45"/><circle cx="120.96" cy="290.51" r="1.35" fill="#ebf0f4" fill-opacity="0.75" stroke="#a6b8c8" stroke-width="0.45"/><circle cx="123.29" cy="293.21" r="1.35" fill="#ebf0f4" fill-opacity="0.75" stroke="#a6b8c8" stroke-width="0.45"/><circle cx="120.37" cy="290.52" r="1.35" fill="#ebf0f4" fill-opacity="0.75" stroke="#a6b8c8" stroke-width="0.45"/><circle cx="135.78" cy="316.43" r="1.35" fill="#fae4d8" fill-opacity="0.75" stroke="#e2b096" stroke-width="0.45"/><circle cx="135.29" cy="320.80" r="1.35" fill="#f3f3f3" fill-opacity="0.75" stroke="#b8b8b8" stroke-width="0.45"/><circle cx="139.07" cy="312.15" r="1.35" fill="#fae4d8" fill-opacity="0.75" stroke="#e2b096" stroke-width="0.45"/><circle cx="139.93" cy="318.95" r="1.35" fill="#fae4d8" fill-opacity="0.75" stroke="#e2b096" stroke-width="0.45"/><circle cx="124.68" cy="321.79" r="1.35" fill="#fae4d8" fill-opacity="0.75" stroke="#e2b096" stroke-width="0.45"/><circle cx="126.47" cy="319.85" r="1.35" fill="#fae4d8" fill-opacity="0.75" stroke="#e2b096" stroke-width="0.45"/><circle cx="134.04" cy="318.82" r="1.35" fill="#fae4d8" fill-opacity="0.75" stroke="#e2b096" stroke-width="0.45"/><circle cx="122.24" cy="314.60" r="1.35" fill="#fae4d8" fill-opacity="0.75" stroke="#e2b096" stroke-width="0.45"/><circle cx="124.02" cy="320.82" r="1.35" fill="#fae4d8" fill-opacity="0.75" stroke="#e2b096" stroke-width="0.45"/><circle cx="138.20" cy="315.80" r="1.35" fill="#fae4d8" fill-opacity="0.75" stroke="#e2b096" stroke-width="0.45"/><circle cx="130.54" cy="321.09" r="1.35" fill="#fae4d8" fill-opacity="0.75" stroke="#e2b096" stroke-width="0.45"/><circle cx="132.25" cy="317.62" r="1.35" fill="#fae4d8" fill-opacity="0.75" stroke="#e2b096" stroke-width="0.45"/><circle cx="127.06" cy="311.02" r="1.35" fill="#fae4d8" fill-opacity="0.75" stroke="#e2b096" stroke-width="0.45"/><circle cx="128.67" cy="317.86" r="1.35" fill="#fae4d8" fill-opacity="0.75" stroke="#e2b096" stroke-width="0.45"/><circle cx="133.91" cy="320.81" r="1.35" fill="#fae4d8" fill-opacity="0.75" stroke="#e2b096" stroke-width="0.45"/><circle cx="136.05" cy="313.61" r="1.35" fill="#f3f3f3" fill-opacity="0.75" stroke="#b8b8b8" stroke-width="0.45"/><circle cx="121.92" cy="320.38" r="1.35" fill="#fae4d8" fill-opacity="0.75" stroke="#e2b096" stroke-width="0.45"/><circle cx="131.55" cy="317.21" r="1.35" fill="#fae4d8" fill-opacity="0.75" stroke="#e2b096" stroke-width="0.45"/><circle cx="125.79" cy="316.71" r="1.35" fill="#fae4d8" fill-opacity="0.75" stroke="#e2b096" stroke-width="0.45"/><circle cx="135.02" cy="314.83" r="1.35" fill="#fae4d8" fill-opacity="0.75" stroke="#e2b096" stroke-width="0.45"/><circle cx="141.98" cy="298.46" r="1.35" fill="#fae4d8" fill-opacity="0.75" stroke="#e2b096" stroke-width="0.45"/><circle cx="140.66" cy="295.49" r="1.35" fill="#fae4d8" fill-opacity="0.75" stroke="#e2b096" stroke-width="0.45"/><circle cx="140.35" cy="299.46" r="1.35" fill="#fae4d8" fill-opacity="0.75" stroke="#e2b096" stroke-width="0.45"/><circle cx="140.59" cy="298.10" r="1.35" fill="#fae4d8" fill-opacity="0.75" stroke="#e2b096" stroke-width="0.45"/><circle cx="141.28" cy="300.90" r="1.35" fill="#fae4d8" fill-opacity="0.75" stroke="#e2b096" stroke-width="0.45"/><circle cx="142.80" cy="308.80" r="1.35" fill="#ebf0f4" fill-opacity="0.75" stroke="#a6b8c8" stroke-width="0.45"/><circle cx="141.00" cy="313.40" r="1.35" fill="#fae4d8" fill-opacity="0.75" stroke="#e2b096" stroke-width="0.45"/><circle cx="149.40" cy="312.00" r="1.35" fill="#fae4d8" fill-opacity="0.75" stroke="#e2b096" stroke-width="0.45"/><circle cx="166.30" cy="314.00" r="1.35" fill="#f3f3f3" fill-opacity="0.75" stroke="#b8b8b8" stroke-width="0.45"/><circle cx="186.00" cy="307.80" r="1.35" fill="#ebf0f4" fill-opacity="0.75" stroke="#a6b8c8" stroke-width="0.45"/><circle cx="185.00" cy="314.40" r="1.35" fill="#fae4d8" fill-opacity="0.75" stroke="#e2b096" stroke-width="0.45"/><circle cx="187.80" cy="316.30" r="1.35" fill="#fae4d8" fill-opacity="0.75" stroke="#e2b096" stroke-width="0.45"/><circle cx="190.60" cy="317.20" r="1.35" fill="#fae4d8" fill-opacity="0.75" stroke="#e2b096" stroke-width="0.45"/><circle cx="194.40" cy="317.20" r="1.35" fill="#fae4d8" fill-opacity="0.75" stroke="#e2b096" stroke-width="0.45"/><circle cx="173.80" cy="318.50" r="1.35" fill="#fae4d8" fill-opacity="0.75" stroke="#e2b096" stroke-width="0.45"/><circle cx="177.50" cy="318.50" r="1.35" fill="#fae4d8" fill-opacity="0.75" stroke="#e2b096" stroke-width="0.45"/><circle cx="176.60" cy="323.40" r="1.35" fill="#ebf0f4" fill-opacity="0.75" stroke="#a6b8c8" stroke-width="0.45"/><circle cx="178.40" cy="323.80" r="1.35" fill="#ebf0f4" fill-opacity="0.75" stroke="#a6b8c8" stroke-width="0.45"/><circle cx="199.00" cy="322.00" r="1.35" fill="#f3f3f3" fill-opacity="0.75" stroke="#b8b8b8" stroke-width="0.45"/><circle cx="173.80" cy="266.00" r="1.35" fill="#ebf0f4" fill-opacity="0.75" stroke="#a6b8c8" stroke-width="0.45"/><circle cx="174.70" cy="268.80" r="1.35" fill="#ebf0f4" fill-opacity="0.75" stroke="#a6b8c8" stroke-width="0.45"/><circle cx="177.50" cy="261.30" r="1.35" fill="#ebf0f4" fill-opacity="0.75" stroke="#a6b8c8" stroke-width="0.45"/><circle cx="180.30" cy="264.00" r="1.35" fill="#ebf0f4" fill-opacity="0.75" stroke="#a6b8c8" stroke-width="0.45"/><circle cx="181.60" cy="265.40" r="1.35" fill="#ebf0f4" fill-opacity="0.75" stroke="#a6b8c8" stroke-width="0.45"/><circle cx="176.60" cy="273.40" r="1.35" fill="#ebf0f4" fill-opacity="0.75" stroke="#a6b8c8" stroke-width="0.45"/><circle cx="173.80" cy="269.70" r="1.35" fill="#ebf0f4" fill-opacity="0.75" stroke="#a6b8c8" stroke-width="0.45"/><circle cx="170.00" cy="269.70" r="1.35" fill="#ebf0f4" fill-opacity="0.75" stroke="#a6b8c8" stroke-width="0.45"/><circle cx="164.40" cy="269.30" r="1.35" fill="#ebf0f4" fill-opacity="0.75" stroke="#a6b8c8" stroke-width="0.45"/><circle cx="181.30" cy="277.20" r="1.35" fill="#f3f3f3" fill-opacity="0.75" stroke="#b8b8b8" stroke-width="0.45"/><circle cx="186.00" cy="273.40" r="1.35" fill="#f3f3f3" fill-opacity="0.75" stroke="#b8b8b8" stroke-width="0.45"/><circle cx="187.80" cy="275.30" r="1.35" fill="#f3f3f3" fill-opacity="0.75" stroke="#b8b8b8" stroke-width="0.45"/><circle cx="189.70" cy="272.50" r="1.35" fill="#f3f3f3" fill-opacity="0.75" stroke="#b8b8b8" stroke-width="0.45"/><circle cx="176.60" cy="282.80" r="1.35" fill="#f3f3f3" fill-opacity="0.75" stroke="#b8b8b8" stroke-width="0.45"/><circle cx="196.30" cy="263.00" r="1.35" fill="#f3f3f3" fill-opacity="0.75" stroke="#b8b8b8" stroke-width="0.45"/><circle cx="199.00" cy="274.40" r="1.35" fill="#f3f3f3" fill-opacity="0.75" stroke="#b8b8b8" stroke-width="0.45"/><circle cx="141.00" cy="284.50" r="1.35" fill="#f2bca8" fill-opacity="0.75" stroke="#d4846c" stroke-width="0.45"/><circle cx="141.00" cy="287.50" r="1.35" fill="#f2bca8" fill-opacity="0.75" stroke="#d4846c" stroke-width="0.45"/><circle cx="140.00" cy="286.00" r="1.35" fill="#fae4d8" fill-opacity="0.75" stroke="#e2b096" stroke-width="0.45"/><circle cx="179.33" cy="267.47" r="1.35" fill="#ebf0f4" fill-opacity="0.75" stroke="#a6b8c8" stroke-width="0.45"/><circle cx="173.49" cy="266.16" r="1.35" fill="#ebf0f4" fill-opacity="0.75" stroke="#a6b8c8" stroke-width="0.45"/><circle cx="176.18" cy="263.64" r="1.35" fill="#ebf0f4" fill-opacity="0.75" stroke="#a6b8c8" stroke-width="0.45"/><circle cx="173.32" cy="262.27" r="1.35" fill="#ebf0f4" fill-opacity="0.75" stroke="#a6b8c8" stroke-width="0.45"/><circle cx="172.22" cy="260.03" r="1.35" fill="#ebf0f4" fill-opacity="0.75" stroke="#a6b8c8" stroke-width="0.45"/><circle cx="175.04" cy="265.23" r="1.35" fill="#ebf0f4" fill-opacity="0.75" stroke="#a6b8c8" stroke-width="0.45"/><circle cx="241.30" cy="251.00" r="1.35" fill="#fae4d8" fill-opacity="0.75" stroke="#e2b096" stroke-width="0.45"/><circle cx="219.70" cy="254.70" r="1.35" fill="#ebf0f4" fill-opacity="0.75" stroke="#a6b8c8" stroke-width="0.45"/><circle cx="220.60" cy="258.40" r="1.35" fill="#ebf0f4" fill-opacity="0.75" stroke="#a6b8c8" stroke-width="0.45"/><circle cx="216.00" cy="262.20" r="1.35" fill="#f3f3f3" fill-opacity="0.75" stroke="#b8b8b8" stroke-width="0.45"/><circle cx="211.30" cy="263.00" r="1.35" fill="#f3f3f3" fill-opacity="0.75" stroke="#b8b8b8" stroke-width="0.45"/><circle cx="217.80" cy="266.00" r="1.35" fill="#ebf0f4" fill-opacity="0.75" stroke="#a6b8c8" stroke-width="0.45"/><circle cx="244.00" cy="260.30" r="1.35" fill="#f3f3f3" fill-opacity="0.75" stroke="#b8b8b8" stroke-width="0.45"/><circle cx="233.80" cy="270.60" r="1.35" fill="#f3f3f3" fill-opacity="0.75" stroke="#b8b8b8" stroke-width="0.45"/><circle cx="237.50" cy="277.20" r="1.35" fill="#ebf0f4" fill-opacity="0.75" stroke="#a6b8c8" stroke-width="0.45"/><circle cx="228.00" cy="278.00" r="1.35" fill="#ebf0f4" fill-opacity="0.75" stroke="#a6b8c8" stroke-width="0.45"/><circle cx="225.30" cy="285.60" r="1.35" fill="#ebf0f4" fill-opacity="0.75" stroke="#a6b8c8" stroke-width="0.45"/><circle cx="219.70" cy="285.60" r="1.35" fill="#ebf0f4" fill-opacity="0.75" stroke="#a6b8c8" stroke-width="0.45"/><circle cx="211.30" cy="287.50" r="1.35" fill="#ebf0f4" fill-opacity="0.75" stroke="#a6b8c8" stroke-width="0.45"/><circle cx="202.80" cy="278.00" r="1.35" fill="#f3f3f3" fill-opacity="0.75" stroke="#b8b8b8" stroke-width="0.45"/><circle cx="205.60" cy="283.80" r="1.35" fill="#f3f3f3" fill-opacity="0.75" stroke="#b8b8b8" stroke-width="0.45"/><circle cx="201.90" cy="268.80" r="1.35" fill="#f3f3f3" fill-opacity="0.75" stroke="#b8b8b8" stroke-width="0.45"/><circle cx="200.00" cy="275.00" r="1.35" fill="#f3f3f3" fill-opacity="0.75" stroke="#b8b8b8" stroke-width="0.45"/><circle cx="224.40" cy="236.30" r="1.35" fill="#fae4d8" fill-opacity="0.75" stroke="#e2b096" stroke-width="0.45"/><circle cx="227.80" cy="238.00" r="1.35" fill="#fae4d8" fill-opacity="0.75" stroke="#e2b096" stroke-width="0.45"/><circle cx="232.80" cy="232.00" r="1.35" fill="#fae4d8" fill-opacity="0.75" stroke="#e2b096" stroke-width="0.45"/><circle cx="233.40" cy="234.00" r="1.35" fill="#fae4d8" fill-opacity="0.75" stroke="#e2b096" stroke-width="0.45"/><circle cx="236.60" cy="236.30" r="1.35" fill="#fae4d8" fill-opacity="0.75" stroke="#e2b096" stroke-width="0.45"/><circle cx="240.30" cy="234.40" r="1.35" fill="#fae4d8" fill-opacity="0.75" stroke="#e2b096" stroke-width="0.45"/><circle cx="221.20" cy="245.00" r="1.35" fill="#fae4d8" fill-opacity="0.75" stroke="#e2b096" stroke-width="0.45"/><circle cx="201.00" cy="219.40" r="1.35" fill="#f3f3f3" fill-opacity="0.75" stroke="#b8b8b8" stroke-width="0.45"/><circle cx="204.80" cy="318.70" r="1.35" fill="#fae4d8" fill-opacity="0.75" stroke="#e2b096" stroke-width="0.45"/><circle cx="212.60" cy="319.00" r="1.35" fill="#fae4d8" fill-opacity="0.75" stroke="#e2b096" stroke-width="0.45"/><circle cx="219.40" cy="323.00" r="1.35" fill="#f3f3f3" fill-opacity="0.75" stroke="#b8b8b8" stroke-width="0.45"/><circle cx="217.40" cy="326.00" r="1.35" fill="#f3f3f3" fill-opacity="0.75" stroke="#b8b8b8" stroke-width="0.45"/><circle cx="224.20" cy="320.00" r="1.35" fill="#fae4d8" fill-opacity="0.75" stroke="#e2b096" stroke-width="0.45"/><circle cx="200.00" cy="321.00" r="1.35" fill="#f3f3f3" fill-opacity="0.75" stroke="#b8b8b8" stroke-width="0.45"/><circle cx="242.00" cy="315.50" r="1.35" fill="#fae4d8" fill-opacity="0.75" stroke="#e2b096" stroke-width="0.45"/><circle cx="245.00" cy="316.50" r="1.35" fill="#fae4d8" fill-opacity="0.75" stroke="#e2b096" stroke-width="0.45"/><circle cx="246.94" cy="277.81" r="1.35" fill="#ebf0f4" fill-opacity="0.75" stroke="#a6b8c8" stroke-width="0.45"/><circle cx="245.96" cy="279.74" r="1.35" fill="#ebf0f4" fill-opacity="0.75" stroke="#a6b8c8" stroke-width="0.45"/><circle cx="245.75" cy="276.08" r="1.35" fill="#ebf0f4" fill-opacity="0.75" stroke="#a6b8c8" stroke-width="0.45"/><circle cx="248.33" cy="278.71" r="1.35" fill="#ebf0f4" fill-opacity="0.75" stroke="#a6b8c8" stroke-width="0.45"/><circle cx="248.00" cy="281.23" r="1.35" fill="#ebf0f4" fill-opacity="0.75" stroke="#a6b8c8" stroke-width="0.45"/><circle cx="246.89" cy="277.59" r="1.35" fill="#ebf0f4" fill-opacity="0.75" stroke="#a6b8c8" stroke-width="0.45"/><circle cx="245.26" cy="280.93" r="1.35" fill="#ebf0f4" fill-opacity="0.75" stroke="#a6b8c8" stroke-width="0.45"/><circle cx="247.80" cy="279.47" r="1.35" fill="#ebf0f4" fill-opacity="0.75" stroke="#a6b8c8" stroke-width="0.45"/><circle cx="214.01" cy="291.81" r="1.35" fill="#ebf0f4" fill-opacity="0.75" stroke="#a6b8c8" stroke-width="0.45"/><circle cx="212.20" cy="290.05" r="1.35" fill="#ebf0f4" fill-opacity="0.75" stroke="#a6b8c8" stroke-width="0.45"/><circle cx="213.91" cy="290.12" r="1.35" fill="#ebf0f4" fill-opacity="0.75" stroke="#a6b8c8" stroke-width="0.45"/><circle cx="98.12" cy="272.96" r="1.35" fill="#f3f3f3" fill-opacity="0.75" stroke="#b8b8b8" stroke-width="0.45"/><circle cx="99.42" cy="269.80" r="1.35" fill="#f3f3f3" fill-opacity="0.75" stroke="#b8b8b8" stroke-width="0.45"/><circle cx="104.43" cy="273.83" r="1.35" fill="#ebf0f4" fill-opacity="0.75" stroke="#a6b8c8" stroke-width="0.45"/><circle cx="106.13" cy="269.57" r="1.35" fill="#ebf0f4" fill-opacity="0.75" stroke="#a6b8c8" stroke-width="0.45"/><circle cx="98.64" cy="273.63" r="1.35" fill="#f3f3f3" fill-opacity="0.75" stroke="#b8b8b8" stroke-width="0.45"/><circle cx="105.83" cy="274.44" r="1.35" fill="#f3f3f3" fill-opacity="0.75" stroke="#b8b8b8" stroke-width="0.45"/><circle cx="101.75" cy="271.93" r="1.35" fill="#ebf0f4" fill-opacity="0.75" stroke="#a6b8c8" stroke-width="0.45"/><circle cx="98.80" cy="273.90" r="1.35" fill="#f3f3f3" fill-opacity="0.75" stroke="#b8b8b8" stroke-width="0.45"/><circle cx="206.78" cy="267.63" r="1.35" fill="#f3f3f3" fill-opacity="0.75" stroke="#b8b8b8" stroke-width="0.45"/><circle cx="219.32" cy="268.08" r="1.35" fill="#ebf0f4" fill-opacity="0.75" stroke="#a6b8c8" stroke-width="0.45"/><circle cx="227.76" cy="288.57" r="1.35" fill="#ebf0f4" fill-opacity="0.75" stroke="#a6b8c8" stroke-width="0.45"/><circle cx="221.35" cy="271.65" r="1.35" fill="#ebf0f4" fill-opacity="0.75" stroke="#a6b8c8" stroke-width="0.45"/><circle cx="220.38" cy="282.14" r="1.35" fill="#ebf0f4" fill-opacity="0.75" stroke="#a6b8c8" stroke-width="0.45"/><circle cx="229.16" cy="272.39" r="1.35" fill="#f3f3f3" fill-opacity="0.75" stroke="#b8b8b8" stroke-width="0.45"/><circle cx="202.56" cy="277.69" r="1.35" fill="#f3f3f3" fill-opacity="0.75" stroke="#b8b8b8" stroke-width="0.45"/><circle cx="207.81" cy="270.90" r="1.35" fill="#ebf0f4" fill-opacity="0.75" stroke="#a6b8c8" stroke-width="0.45"/><circle cx="206.08" cy="268.98" r="1.35" fill="#ebf0f4" fill-opacity="0.75" stroke="#a6b8c8" stroke-width="0.45"/><circle cx="205.76" cy="274.72" r="1.35" fill="#ebf0f4" fill-opacity="0.75" stroke="#a6b8c8" stroke-width="0.45"/><circle cx="189.35" cy="273.80" r="1.35" fill="#f3f3f3" fill-opacity="0.75" stroke="#b8b8b8" stroke-width="0.45"/><circle cx="192.61" cy="268.90" r="1.35" fill="#f3f3f3" fill-opacity="0.75" stroke="#b8b8b8" stroke-width="0.45"/><circle cx="198.01" cy="267.68" r="1.35" fill="#f3f3f3" fill-opacity="0.75" stroke="#b8b8b8" stroke-width="0.45"/><circle cx="193.98" cy="266.00" r="1.35" fill="#f3f3f3" fill-opacity="0.75" stroke="#b8b8b8" stroke-width="0.45"/><circle cx="191.48" cy="269.61" r="1.35" fill="#f3f3f3" fill-opacity="0.75" stroke="#b8b8b8" stroke-width="0.45"/></g>
<path d="M63.76,345.00L61.69,344.36L59.61,343.72L57.31,342.92L54.77,341.94L52.22,340.96L49.54,339.74L46.85,338.51L44.33,337.23L41.98,335.90L39.63,334.56L37.50,333.14L35.37,331.72L33.30,330.27L31.29,328.78L29.27,327.30L27.39,325.76L25.50,324.22L23.71,322.66L22.00,321.08L20.30,319.49L18.83,317.88L17.37,316.27L15.98,314.64L14.66,313.01L13.35,311.37L12.26,309.72L11.16,308.07L10.17,306.42L9.27,304.77L8.38,303.11L7.70,301.46L7.03,299.80L6.46,298.15L5.98,296.50L5.50,294.84L5.10,293.19L4.70,291.53L4.35,289.88L4.08,288.22L3.80,286.57L3.63,284.92L3.46,283.26L3.34,281.61L3.27,279.95L3.20,278.30L3.27,276.65L3.34,274.99L3.46,273.34L3.63,271.68L3.80,270.03L4.08,268.38L4.35,266.72L4.70,265.07L5.10,263.41L5.50,261.76L5.98,260.10L6.46,258.45L7.03,256.80L7.70,255.14L8.38,253.49L9.27,251.83L10.17,250.18L11.16,248.53L12.26,246.88L13.35,245.23L14.66,243.59L15.98,241.96L17.37,240.33L18.83,238.72L20.30,237.11L22.00,235.52L23.71,233.94L25.50,232.38L27.39,230.84L29.27,229.30L31.29,227.82L33.30,226.33L35.37,224.88L37.50,223.46L39.63,222.04L41.98,220.70L44.33,219.37L46.85,218.09L49.54,216.86L52.22,215.64L54.77,214.66L57.31,213.68L59.61,212.88L61.69,212.24L63.76,211.60L201.54,211.60L203.61,212.24L205.69,212.88L207.99,213.68L210.53,214.66L213.08,215.64L215.76,216.86L218.45,218.09L220.97,219.37L223.32,220.70L225.67,222.04L227.80,223.46L229.93,224.88L232.00,226.33L234.01,227.82L236.03,229.30L237.91,230.84L239.80,232.38L241.59,233.94L243.30,235.52L245.00,237.11L246.47,238.72L247.93,240.33L249.32,241.96L250.64,243.59L251.95,245.23L253.04,246.88L254.14,248.53L255.13,250.18L256.03,251.83L256.92,253.49L257.60,255.14L258.27,256.80L258.84,258.45L259.32,260.10L259.80,261.76L260.20,263.41L260.60,265.07L260.95,266.72L261.22,268.38L261.50,270.03L261.67,271.68L261.84,273.34L261.96,274.99L262.03,276.65L262.10,278.30L262.03,279.95L261.96,281.61L261.84,283.26L261.67,284.92L261.50,286.57L261.22,288.22L260.95,289.88L260.60,291.53L260.20,293.19L259.80,294.84L259.32,296.50L258.84,298.15L258.27,299.80L257.60,301.46L256.92,303.11L256.03,304.77L255.13,306.42L254.14,308.07L253.04,309.72L251.95,311.37L250.64,313.01L249.32,314.64L247.93,316.27L246.47,317.88L245.00,319.49L243.30,321.08L241.59,322.66L239.80,324.22L237.91,325.76L236.03,327.30L234.01,328.78L232.00,330.27L229.93,331.72L227.80,333.14L225.67,334.56L223.32,335.90L220.97,337.23L218.45,338.51L215.76,339.74L213.08,340.96L210.53,341.94L207.99,342.92L205.69,343.72L203.61,344.36L201.54,345.00Z" fill="none" stroke="#333" stroke-width="0.9"/>
<text x="14.3" y="359.4" font-size="11.2" text-anchor="start" textLength="15.5" lengthAdjust="spacing" >(c)</text>
<text x="19" y="378" font-size="10.1" text-anchor="start" textLength="218" lengthAdjust="spacingAndGlyphs" >Residuals Anomaly (MH - PI) – ECHAM5/MPI-OM</text>
<clipPath id="cc"><path d="M62.05,511.20L60.04,510.58L58.04,509.97L55.81,509.19L53.35,508.24L50.89,507.29L48.30,506.11L45.70,504.93L43.26,503.69L40.99,502.40L38.72,501.11L36.66,499.73L34.60,498.36L32.60,496.96L30.65,495.52L28.71,494.08L26.88,492.59L25.06,491.10L23.33,489.60L21.68,488.07L20.03,486.54L18.62,484.97L17.20,483.41L15.85,481.84L14.58,480.26L13.31,478.68L12.26,477.08L11.20,475.49L10.24,473.89L9.37,472.29L8.51,470.69L7.86,469.09L7.20,467.49L6.65,465.90L6.19,464.30L5.73,462.70L5.34,461.10L4.95,459.50L4.62,457.90L4.35,456.30L4.08,454.70L3.92,453.10L3.76,451.50L3.64,449.90L3.57,448.30L3.50,446.70L3.57,445.10L3.64,443.50L3.76,441.90L3.92,440.30L4.08,438.70L4.35,437.10L4.62,435.50L4.95,433.90L5.34,432.30L5.73,430.70L6.19,429.10L6.65,427.50L7.20,425.91L7.86,424.31L8.51,422.71L9.37,421.11L10.24,419.51L11.20,417.91L12.26,416.32L13.31,414.72L14.58,413.14L15.85,411.56L17.20,409.99L18.62,408.43L20.03,406.86L21.68,405.33L23.33,403.80L25.06,402.30L26.88,400.81L28.71,399.32L30.65,397.88L32.60,396.44L34.60,395.04L36.66,393.67L38.72,392.29L40.99,391.00L43.26,389.71L45.70,388.47L48.30,387.29L50.89,386.11L53.35,385.16L55.81,384.21L58.04,383.43L60.04,382.82L62.05,382.20L195.25,382.20L197.26,382.82L199.26,383.43L201.49,384.21L203.95,385.16L206.41,386.11L209.00,387.29L211.60,388.47L214.04,389.71L216.31,391.00L218.58,392.29L220.64,393.67L222.70,395.04L224.70,396.44L226.65,397.88L228.59,399.32L230.42,400.81L232.24,402.30L233.97,403.80L235.62,405.33L237.27,406.86L238.68,408.43L240.10,409.99L241.45,411.56L242.72,413.14L243.99,414.72L245.04,416.32L246.10,417.91L247.06,419.51L247.93,421.11L248.79,422.71L249.44,424.31L250.10,425.91L250.65,427.50L251.11,429.10L251.57,430.70L251.96,432.30L252.35,433.90L252.68,435.50L252.95,437.10L253.22,438.70L253.38,440.30L253.54,441.90L253.66,443.50L253.73,445.10L253.80,446.70L253.73,448.30L253.66,449.90L253.54,451.50L253.38,453.10L253.22,454.70L252.95,456.30L252.68,457.90L252.35,459.50L251.96,461.10L251.57,462.70L251.11,464.30L250.65,465.90L250.10,467.49L249.44,469.09L248.79,470.69L247.93,472.29L247.06,473.89L246.10,475.49L245.04,477.08L243.99,478.68L242.72,480.26L241.45,481.84L240.10,483.41L238.68,484.97L237.27,486.54L235.62,488.07L233.97,489.60L232.24,491.10L230.42,492.59L228.59,494.08L226.65,495.52L224.70,496.96L222.70,498.36L220.64,499.73L218.58,501.11L216.31,502.40L214.04,503.69L211.60,504.93L209.00,506.11L206.41,507.29L203.95,508.24L201.49,509.19L199.26,509.97L197.26,510.58L195.25,511.20Z"/></clipPath>
<g clip-path="url(#cc)"><path d="M22.22,430.30L22.63,431.50L22.07,431.58L21.78,430.70L21.01,429.66L20.14,429.10L21.68,429.74L22.22,430.30ZM40.49,395.31L42.20,394.83L43.90,394.35L44.67,393.05L46.20,392.67L47.71,392.29L49.74,391.87L51.74,391.45L52.61,391.62L53.47,391.78L54.41,391.93L55.35,392.08L56.30,392.23L57.12,392.36L57.96,392.50L58.94,392.74L59.92,392.98L61.49,392.71L63.05,392.43L64.20,392.29L65.36,392.16L66.17,392.32L67.01,392.48L67.85,392.64L68.90,392.84L69.96,393.05L70.82,393.21L71.69,393.37L72.56,393.53L73.86,393.50L75.17,393.46L76.30,393.63L77.43,393.80L78.65,393.56L79.86,393.32L82.75,391.13L82.68,392.29L83.42,393.32L84.69,392.98L85.94,392.64L86.91,393.80L85.39,394.32L83.86,394.83L82.46,396.08L80.11,396.80L77.64,398.02L75.59,400.06L75.88,401.55L76.94,401.92L78.01,402.30L79.27,402.59L80.55,402.89L80.29,404.57L81.22,405.72L82.61,403.42L84.53,401.92L84.87,400.21L86.04,398.60L87.94,397.67L89.34,398.60L89.71,400.06L90.66,400.43L92.94,399.10L93.44,401.18L93.97,402.67L94.85,403.42L95.75,404.19L95.39,405.64L93.95,406.18L92.50,406.71L90.99,406.71L89.49,406.71L87.43,407.41L84.97,409.21L87.30,407.80L89.04,408.04L88.76,409.83L90.76,410.38L89.08,410.77L87.41,411.16L87.18,411.95L85.95,411.83L84.74,411.72L83.97,413.14L81.39,414.25L81.02,415.52L79.94,415.92L79.28,417.11L79.28,418.31L77.72,419.27L76.53,420.15L74.88,421.51L74.25,422.71L74.68,425.11L74.60,426.31L73.75,426.55L73.08,424.71L73.34,422.95L72.60,422.63L71.33,422.39L69.31,422.47L68.78,423.35L67.78,423.35L65.84,423.03L63.35,424.63L62.69,426.70L62.18,429.10L62.70,431.10L63.93,432.14L66.02,431.90L66.96,429.90L69.40,429.50L68.75,431.90L67.83,433.90L69.54,433.98L71.31,434.70L70.99,437.10L70.91,438.06L72.21,439.50L73.61,439.10L74.97,439.82L75.09,440.14L74.71,440.86L73.19,440.86L72.52,440.30L70.81,439.90L69.34,438.70L69.35,437.74L68.29,436.30L66.94,435.90L65.60,435.50L64.05,433.90L62.30,434.14L60.03,433.10L57.78,432.06L56.60,430.70L56.98,429.26L56.37,428.06L55.31,426.47L54.40,424.71L54.03,423.11L53.77,421.51L52.52,421.27L52.56,422.71L53.29,425.11L54.09,427.50L54.29,428.30L53.64,428.14L52.88,426.70L52.11,424.47L51.56,422.71L51.26,420.71L50.70,419.51L49.49,419.03L49.32,417.43L49.37,416.47L49.25,414.88L49.88,413.14L50.90,411.48L51.97,409.83L52.62,408.11L53.94,407.65L53.51,406.48L52.30,406.10L52.88,403.42L53.02,401.92L52.67,400.43L51.47,400.21L50.77,399.47L49.73,399.39L48.69,399.32L47.66,398.74L44.98,399.69L44.91,398.74L42.36,400.06L40.52,400.21L37.32,402.30L34.60,403.04L32.77,403.42L35.26,402.44L37.10,401.81L38.92,401.18L40.00,400.43L38.87,400.36L37.75,400.29L38.42,399.32L37.37,398.96L39.27,397.52L40.16,397.02L43.00,396.23L41.85,396.08L40.50,396.01L40.49,395.31ZM96.33,386.99L97.81,386.55L99.28,386.11L100.41,385.82L101.53,385.54L102.63,385.26L103.51,385.21L104.39,385.16L105.26,385.11L106.13,385.07L107.00,385.02L107.89,384.94L108.78,384.86L109.66,384.78L110.53,384.70L111.41,384.63L112.27,384.55L113.10,384.53L113.93,384.51L114.76,384.49L115.58,384.47L116.41,384.45L117.18,384.57L117.95,384.69L118.73,384.81L119.52,384.93L120.19,385.49L121.19,385.45L122.18,385.40L123.18,385.35L122.25,385.73L121.31,386.11L120.03,387.88L119.99,389.06L118.25,390.68L117.73,391.97L116.16,392.29L115.44,393.32L114.40,393.39L113.37,393.46L112.33,393.53L111.08,394.35L109.80,395.18L108.67,395.45L107.52,395.73L106.28,397.16L104.82,399.17L103.79,398.96L102.34,398.38L101.70,397.16L101.45,395.73L100.85,394.70L101.61,392.98L103.33,391.97L101.76,391.65L102.04,390.68L101.79,389.39L101.00,388.47L100.11,388.43L99.22,388.39L98.33,388.35L97.45,388.03L96.60,387.70L96.33,386.99ZM90.55,389.90L91.35,390.31L92.17,390.72L93.01,391.13L93.89,391.62L94.80,392.10L94.84,393.80L95.63,394.25L96.43,394.70L94.58,395.73L93.61,397.16L92.00,397.16L90.30,396.80L88.83,396.08L87.24,396.08L89.07,395.04L90.88,394.01L90.03,393.32L89.20,392.64L88.28,392.52L87.35,392.41L86.43,392.29L85.86,391.65L85.31,391.00L87.58,390.03L88.57,389.99L89.56,389.95L90.55,389.90ZM70.44,391.65L72.19,390.55L73.26,390.45L74.33,390.36L75.19,390.45L76.05,390.55L76.62,391.16L77.21,391.78L78.19,392.29L75.54,393.32L74.15,393.32L72.75,393.32L71.42,393.12L70.38,392.88L69.36,392.64L70.44,391.65ZM67.62,391.13L70.30,389.71L71.38,389.60L72.45,389.49L73.52,389.39L72.89,390.36L71.30,390.90L69.68,391.45L68.64,391.29L67.62,391.13ZM92.07,388.18L91.04,388.18L90.01,388.18L88.98,388.18L87.96,388.18L88.47,387.29L88.14,386.40L90.51,385.54L91.55,385.39L92.58,385.24L93.60,385.09L94.62,384.93L95.62,384.78L96.47,384.76L97.31,384.75L98.16,384.73L99.00,384.71L99.85,384.69L100.61,384.75L101.38,384.81L102.15,384.87L102.93,384.93L101.77,385.28L100.59,385.64L99.51,385.87L98.41,386.11L97.29,386.40L96.04,386.70L94.78,386.99L93.27,387.88L92.07,388.18ZM90.95,389.39L90.04,389.35L89.12,389.32L88.21,389.29L87.29,389.26L86.38,389.22L85.47,389.19L86.58,388.18L87.65,388.18L88.72,388.18L89.78,388.18L90.78,388.32L91.78,388.47L90.95,389.39ZM80.92,391.00L82.14,391.00L83.36,391.00L84.53,389.71L83.29,389.77L82.04,389.84L80.92,391.00ZM82.76,396.44L83.87,396.80L84.99,397.16L86.18,396.08L85.19,395.55L84.24,395.04L82.76,396.44ZM74.77,388.77L75.62,388.83L76.47,388.89L77.32,388.94L78.18,389.00L79.04,389.06L81.10,388.18L80.26,388.12L79.42,388.06L78.59,388.00L77.60,388.06L76.61,388.12L75.61,388.18L74.77,388.77ZM81.74,388.77L82.67,388.77L83.60,388.77L84.51,388.00L83.49,388.09L82.47,388.18ZM86.69,387.29L87.69,387.19L88.69,387.09L89.68,386.99L90.39,385.64L89.43,385.71L88.47,385.79L87.51,385.87L86.69,387.29ZM92.18,408.74L93.34,408.97L94.50,409.21L95.98,409.44L96.37,408.43L95.05,407.26L95.27,405.64L94.11,406.41L92.18,408.74ZM70.80,429.26L72.94,428.54L74.34,428.22L76.21,429.50L78.00,430.54L76.95,430.78L75.58,430.78L74.20,429.26L72.86,429.10L70.80,429.26ZM77.65,431.90L79.47,430.78L80.82,430.94L81.90,431.82L80.71,432.14L79.33,432.22L77.65,431.90ZM51.64,406.33L52.48,408.04L53.41,408.11L53.42,407.02L51.64,406.33ZM75.10,439.90L76.04,439.10L76.43,438.30L77.50,437.74L78.92,437.26L79.30,436.78L80.31,437.10L80.28,437.50L81.27,438.30L83.00,438.22L84.39,438.22L86.12,438.14L86.74,439.90L87.76,440.30L89.10,441.90L91.18,442.06L92.54,443.10L93.23,443.50L93.90,445.26L94.23,446.70L95.29,447.50L97.38,447.90L98.77,448.46L100.17,449.02L101.91,449.66L104.22,451.10L104.53,452.70L104.20,453.90L103.07,455.50L102.09,457.10L101.85,459.50L101.63,461.90L101.07,463.90L100.13,465.10L98.44,465.26L97.13,465.90L95.93,467.49L96.01,469.49L94.73,471.49L93.72,473.49L92.90,474.53L91.22,474.29L90.17,473.89L91.13,475.49L91.47,477.08L90.10,477.48L88.74,477.88L88.97,479.31L87.23,479.47L88.21,480.66L87.84,482.63L86.99,483.80L88.30,484.97L87.47,486.92L87.71,488.22L88.41,489.21L90.04,490.36L89.06,490.73L87.27,489.98L84.84,488.45L83.63,486.73L82.50,484.97L82.37,483.41L82.28,481.84L81.81,479.47L81.34,477.88L80.91,476.29L80.97,474.69L81.11,473.09L80.93,470.69L80.70,468.69L80.48,466.69L80.48,464.91L80.49,463.12L80.51,461.34L79.25,460.30L77.07,459.10L76.04,457.50L74.67,454.70L73.54,452.70L72.29,451.10L72.40,449.90L73.07,448.70L72.49,447.50L73.04,446.06L73.89,445.50L74.82,443.90L75.03,441.50L74.57,440.94L75.10,439.90ZM91.88,487.45L93.97,487.45L94.26,488.29L92.40,488.07L91.88,487.45ZM125.00,417.91L124.55,417.27L123.85,416.95L122.87,417.11L122.98,415.76L122.53,415.68L123.04,413.93L123.09,412.74L122.79,412.35L123.63,411.80L125.51,411.95L127.52,412.03L127.90,411.16L127.91,409.99L127.30,409.13L125.90,408.50L125.91,407.96L127.68,407.88L127.86,407.10L128.77,407.26L129.55,406.71L130.15,406.02L130.80,405.72L131.37,404.72L132.06,404.26L132.76,404.19L133.64,404.11L133.85,403.58L133.45,402.67L133.28,401.70L134.27,401.10L134.66,401.03L134.55,401.92L134.90,402.00L134.74,402.89L134.48,403.42L135.09,403.80L135.94,403.50L136.84,403.80L137.99,403.58L139.41,403.19L140.02,403.50L140.82,402.89L140.65,401.70L141.13,401.10L142.06,401.55L142.41,400.96L141.86,400.36L141.74,399.91L142.59,399.69L144.27,399.69L145.03,399.32L144.12,398.96L143.03,399.03L141.43,399.39L140.51,398.82L140.30,397.52L140.95,396.59L142.12,395.73L141.93,395.31L140.42,395.11L139.91,396.08L139.11,396.80L138.29,397.52L138.16,398.60L138.92,399.32L139.15,399.76L138.02,401.18L137.84,402.15L136.87,402.74L136.05,402.67L135.87,401.92L135.33,400.96L134.87,400.06L134.49,399.47L134.14,400.06L133.17,400.73L132.04,400.73L131.73,400.06L131.41,398.96L131.37,397.95L131.90,397.52L132.94,396.88L133.99,396.44L134.72,395.73L135.18,395.04L135.84,394.01L136.53,393.32L137.24,392.98L138.16,392.43L139.12,392.16L140.32,391.97L141.48,391.65L142.46,391.65L143.64,392.29L144.16,392.36L145.27,392.77L146.84,392.98L147.99,393.43L149.16,393.87L149.95,394.70L148.77,395.04L147.70,394.97L146.64,394.90L146.34,395.73L147.27,396.23L148.43,396.59L148.50,395.87L149.89,396.08L150.05,394.97L151.59,394.90L150.96,393.46L152.08,393.46L152.55,394.01L153.75,393.80L154.66,393.53L155.55,393.26L156.66,393.46L157.99,393.05L158.97,392.98L159.20,392.43L160.92,392.84L162.70,393.32L163.58,393.53L163.32,392.64L162.12,392.29L161.60,391.65L161.79,390.68L162.06,390.36L163.35,390.48L164.19,391.32L164.62,392.29L166.00,393.32L165.68,394.49L166.58,394.01L166.61,393.32L168.00,393.67L167.62,391.97L166.05,391.52L166.76,391.16L167.46,390.81L168.69,391.13L168.61,391.65L170.12,392.29L171.62,392.29L171.02,391.00L169.72,390.61L168.44,390.23L167.18,389.84L168.18,389.61L169.17,389.39L169.84,389.06L170.45,388.77L171.44,388.62L172.43,388.47L173.41,388.32L174.37,388.18L174.85,387.82L175.30,387.47L176.54,387.73L177.80,388.00L178.83,388.09L179.86,388.18L180.89,388.59L182.85,390.03L184.35,390.19L185.85,390.36L186.81,390.36L187.77,390.36L188.93,390.52L190.10,390.68L191.07,390.68L193.27,391.65L193.84,391.32L195.07,391.32L196.29,391.32L196.39,390.68L197.42,390.72L198.44,390.76L199.48,390.81L200.82,391.07L202.17,391.32L204.32,391.78L205.21,391.71L206.10,391.65L208.09,391.97L209.55,392.64L210.55,392.64L211.56,392.64L212.56,392.64L213.59,392.29L214.65,392.34L215.72,392.39L216.79,392.43L218.19,392.71L219.61,392.98L221.67,394.35L223.73,395.73L223.42,396.08L224.54,397.52L223.83,397.81L223.12,398.10L223.04,399.32L221.93,399.32L220.82,399.32L219.60,399.47L220.97,400.96L221.88,402.30L222.12,403.65L222.19,404.65L222.49,406.10L220.64,404.57L218.14,402.30L217.46,400.96L218.26,400.81L217.61,398.96L217.93,398.10L217.49,397.52L216.20,398.02L216.18,398.46L214.00,398.24L214.55,399.69L213.26,400.06L211.35,399.84L209.67,399.84L208.21,400.06L207.98,400.99L207.72,401.92L207.21,403.27L208.81,403.80L209.71,404.19L211.50,404.57L213.09,406.10L214.26,408.04L213.86,409.21L214.11,411.95L212.60,412.59L211.39,412.66L210.80,412.74L211.17,413.93L210.67,414.72L210.53,415.12L211.55,415.92L213.15,417.91L213.32,418.55L212.01,419.03L211.52,418.95L211.01,417.51L210.30,416.55L209.52,416.40L208.70,415.04L206.93,414.33L205.76,413.93L206.78,414.40L206.86,415.52L205.54,414.72L205.18,415.36L204.61,415.52L204.59,415.92L205.88,416.95L206.68,416.55L208.08,416.79L207.15,417.91L206.78,418.71L208.12,420.07L209.45,421.35L209.78,422.07L209.53,422.47L210.10,422.79L210.08,423.91L209.60,425.11L209.38,426.31L208.55,427.10L207.78,428.38L206.17,428.86L204.58,429.50L203.86,430.46L203.35,429.50L202.39,429.42L201.42,430.14L201.02,431.50L201.66,432.62L203.34,434.30L204.02,435.98L204.09,437.42L202.81,438.38L201.38,439.82L201.16,438.46L199.86,437.90L198.69,436.54L197.60,435.98L197.78,437.10L197.30,438.70L198.14,439.98L198.34,441.10L199.48,441.74L200.45,443.10L200.55,444.46L201.07,445.58L200.59,445.66L199.03,444.46L198.30,443.10L198.30,441.74L196.91,440.30L196.70,439.10L196.74,437.10L195.98,434.86L195.67,433.50L194.92,433.50L193.96,434.06L193.41,433.50L193.50,432.06L192.69,431.10L191.56,429.90L191.18,428.70L190.17,428.78L189.22,429.26L187.90,429.50L187.70,430.54L186.76,431.26L185.12,433.10L183.88,434.30L183.84,436.30L183.82,437.90L183.51,438.46L182.81,439.58L182.36,440.30L181.70,439.58L180.96,437.50L179.96,435.10L179.09,433.90L178.43,431.34L178.10,429.58L177.93,428.70L176.72,430.06L175.56,428.78L176.32,428.30L174.90,427.74L174.33,426.86L173.59,426.39L172.26,426.55L170.24,426.63L168.16,426.23L167.33,426.07L166.59,425.03L165.35,425.35L163.57,424.47L162.38,422.95L161.21,422.63L160.71,422.95L161.09,423.91L162.03,425.19L162.50,425.75L162.87,426.63L163.42,426.07L163.60,427.26L165.24,427.42L166.43,425.91L166.81,426.78L167.56,427.58L168.74,428.54L169.30,428.78L168.57,430.38L168.17,431.34L166.39,433.10L164.55,434.22L162.80,434.94L161.42,435.62L160.04,436.30L158.67,436.54L158.28,435.50L157.98,433.58L156.83,431.50L155.26,429.26L154.68,427.50L153.85,426.31L153.22,425.27L152.27,424.31L151.98,423.11L151.61,424.47L151.10,423.91L150.42,422.79L150.12,421.75L151.37,421.67L151.71,420.47L151.96,419.11L152.16,418.07L152.20,417.35L151.21,417.27L150.17,417.83L149.48,417.51L148.55,417.35L147.53,417.51L146.51,417.11L145.75,415.92L145.54,415.12L145.78,414.40L147.07,413.93L146.18,414.01L145.24,414.09L143.96,414.09L143.36,414.48L143.12,414.56L143.63,415.36L143.39,416.32L143.66,416.40L143.49,417.51L143.01,417.11L142.31,416.47L142.40,416.08L141.62,415.04L141.05,414.33L141.02,413.30L140.34,412.74L139.35,412.19L138.35,411.40L138.12,410.77L137.18,410.69L137.15,410.22L136.30,410.53L136.33,411.08L137.20,411.95L137.82,412.90L138.79,413.22L140.49,414.56L140.39,414.88L139.46,414.40L139.34,415.60L138.91,415.92L138.71,414.72L137.91,414.17L136.79,413.61L135.73,412.82L135.27,412.35L134.73,411.56L133.97,411.32L133.36,411.72L132.55,412.27L131.48,411.95L130.60,412.27L130.68,413.22L129.29,413.93L128.65,415.04L128.46,415.84L128.20,416.63L127.28,417.35L125.79,417.35L125.00,417.91ZM37.69,392.98L38.19,393.50L38.71,394.01L39.53,394.70L39.93,395.04L37.33,396.08L36.71,395.38L35.15,395.55L33.57,395.73ZM125.21,406.86L126.85,406.33L128.14,406.18L129.43,406.02L129.65,404.80L128.83,404.26L128.53,403.42L127.78,402.59L127.45,401.55L127.63,401.10L126.68,400.36L125.84,400.36L125.13,401.25L125.44,402.07L125.17,402.89L125.86,403.19L126.79,403.12L126.59,404.26L125.94,404.42L126.16,405.18L125.55,405.49L126.56,405.79L125.21,406.86ZM125.09,405.18L124.96,403.80L125.29,402.89L124.31,402.82L123.70,403.42L122.80,403.80L122.86,404.72L122.52,405.49L123.88,405.64L125.09,405.18ZM116.64,396.44L115.96,395.80L117.09,395.38L116.21,395.04L116.95,394.76L118.10,394.83L119.27,394.90L120.84,394.83L121.03,395.38L121.52,395.73L120.67,396.23L118.99,396.88L117.42,396.59L116.64,396.44ZM133.52,386.99L134.72,386.23L135.97,386.01L136.82,385.97L137.66,385.92L138.54,385.97L139.42,386.01L140.29,386.06L139.53,386.36L138.75,386.68L137.95,386.99L137.16,387.41L135.95,388.12L134.95,387.59L133.52,386.99ZM153.89,391.32L154.86,391.78L155.87,391.81L156.88,391.84L155.26,390.68L155.21,389.71L155.83,389.13L156.39,388.59L157.16,388.39L157.93,388.20L158.68,388.00L159.95,387.88L159.53,388.47L158.92,388.87L158.27,389.28L157.59,389.71L156.92,390.19L156.23,390.68L155.19,391.00L153.89,391.32ZM170.37,386.70L171.65,386.85L172.93,386.99L173.85,386.85L174.77,386.70L172.93,386.11L171.16,385.64L170.27,385.75L169.36,385.87L170.37,386.70ZM193.16,389.71L194.26,389.82L195.36,389.92L196.46,390.03L197.07,389.79L197.68,389.55L198.27,389.31L198.86,389.06L197.41,388.87L195.98,388.67L194.55,388.47L193.65,388.62L192.74,388.77L193.16,389.71ZM216.57,409.99L215.81,407.65L216.41,407.65L214.29,406.10L212.83,404.19L211.84,403.58L212.39,404.57L213.51,406.10L214.90,407.65L216.11,409.52L216.57,409.99ZM217.62,413.53L218.23,413.30L217.97,412.59L219.46,413.14L220.19,412.11L219.20,411.56L216.91,410.45L217.07,411.16L217.53,412.19L216.98,412.11L217.62,413.53ZM218.62,413.61L219.85,415.12L219.74,416.16L220.17,417.11L220.56,418.23L220.20,418.55L219.86,418.95L218.58,419.03L218.71,419.67L217.88,419.91L217.43,419.11L216.05,419.27L214.83,419.51L214.60,419.11L214.97,418.31L215.96,418.31L217.22,418.23L217.39,416.87L218.41,416.71L218.80,415.84L218.36,414.72L218.62,413.61ZM214.26,420.07L214.86,419.59L215.80,420.31L215.85,421.59L215.24,421.75L214.26,420.07ZM216.13,420.31L217.33,419.67L216.87,419.35L216.14,419.51L216.13,420.31ZM210.21,428.30L210.99,429.18L211.19,427.10L210.78,426.47L210.23,427.02L210.21,428.30ZM202.91,431.34L203.64,432.14L204.27,431.74L204.48,430.86L203.89,430.62L202.91,430.86L202.91,431.34ZM184.02,441.82L185.37,441.10L185.04,439.90L184.02,438.86L183.88,440.30L184.02,441.82ZM136.67,416.32L138.72,416.08L138.47,417.35L136.67,416.32ZM134.06,415.52L134.83,415.44L134.89,413.93L133.88,413.93L134.06,415.52ZM134.12,413.61L134.69,413.61L134.57,412.35L134.08,412.66L134.12,413.61ZM144.03,418.47L145.87,418.55L144.71,418.79L144.03,418.47ZM149.84,418.95L150.94,418.79L151.26,418.15L150.06,418.55L149.84,418.95ZM150.34,422.71L150.12,421.75L149.22,421.43L148.58,421.67L147.94,421.99L146.59,421.71L145.24,421.43L143.87,420.87L142.53,420.47L141.91,421.27L142.03,422.07L141.32,422.47L140.16,421.91L138.91,420.87L137.24,420.39L136.24,420.23L135.36,419.67L135.85,418.55L135.48,417.27L134.81,416.87L133.85,417.19L131.90,417.27L130.60,417.27L129.30,417.51L128.00,418.23L127.21,418.63L125.19,417.99L124.60,418.31L124.18,419.51L122.98,420.07L122.25,422.39L121.62,423.51L119.92,424.55L118.87,425.75L117.80,427.74L117.06,429.90L117.37,431.02L117.69,432.30L117.31,433.74L116.60,434.94L117.06,436.14L117.12,436.86L117.94,437.50L118.48,438.22L119.44,439.10L120.26,440.46L120.88,441.26L122.40,442.54L123.44,443.18L125.18,442.62L127.26,442.86L128.65,442.22L130.04,441.66L131.77,441.66L132.68,443.26L133.51,443.18L134.62,443.10L135.46,444.30L135.25,445.90L135.11,447.50L136.29,449.50L136.98,450.70L137.18,451.58L137.66,453.50L137.98,455.50L137.27,457.50L136.75,459.90L136.73,461.10L137.72,463.34L138.51,464.70L138.65,467.09L138.93,468.69L139.70,469.65L140.29,471.49L140.73,473.09L140.75,474.05L141.45,474.45L142.11,474.29L143.45,473.89L145.10,473.89L146.10,473.65L147.16,472.77L148.26,471.65L149.30,470.29L150.31,469.33L150.65,467.49L151.28,467.09L152.58,465.90L152.82,463.90L152.42,462.54L153.64,461.50L155.77,459.90L156.60,458.70L156.63,455.90L156.00,454.30L155.90,452.30L155.73,450.70L156.58,448.86L157.56,447.98L158.68,446.30L159.92,445.26L161.29,443.66L162.44,441.74L163.29,440.06L163.93,438.30L164.08,437.26L162.86,437.66L161.48,437.82L159.78,438.30L158.71,437.50L158.47,436.86L157.95,435.90L156.88,434.86L155.82,434.30L155.03,432.30L154.07,429.90L153.69,429.10L152.73,427.90L152.30,426.31L151.38,424.87L150.42,422.87L150.34,422.71ZM162.70,456.30L163.31,459.10L162.72,460.70L161.74,463.10L161.16,464.86L160.59,466.62L159.19,467.09L158.27,465.90L158.11,464.30L158.94,463.10L158.82,460.70L160.48,459.34L161.73,457.90L162.70,456.30ZM205.87,464.30L206.37,464.14L208.26,463.18L209.92,462.70L211.35,462.30L212.50,460.70L213.46,459.90L214.74,458.30L216.18,457.74L216.89,458.70L217.87,458.62L218.53,457.10L220.20,455.90L221.86,456.46L223.12,456.30L222.33,457.66L221.92,458.70L223.12,459.66L224.16,460.70L225.20,460.62L226.15,457.90L226.38,456.70L227.20,455.26L227.69,456.70L227.71,458.14L228.66,458.70L228.69,460.30L228.72,461.90L230.17,463.10L230.95,464.70L232.17,466.85L231.59,469.49L230.40,471.49L229.52,472.69L227.98,473.89L225.87,476.69L224.44,476.93L222.82,477.88L222.39,477.00L221.11,477.72L219.57,477.08L219.17,476.61L219.60,475.25L218.92,475.17L219.56,474.21L218.84,474.69L219.04,473.57L217.82,474.61L217.35,472.85L215.81,471.89L213.47,472.29L211.24,472.93L209.99,473.81L207.59,473.89L205.99,474.69L204.59,474.21L204.44,473.49L205.32,472.29L205.51,470.29L205.46,467.89L205.44,466.30L205.87,464.30ZM220.95,479.23L223.20,479.39L221.81,481.21L220.79,481.53L220.51,480.50L220.95,479.23ZM242.09,474.21L242.51,475.49L242.65,476.69L244.23,476.85L243.06,478.04L242.26,478.28L239.99,479.94L239.79,479.63L240.67,479.00L240.55,478.04L241.96,476.45L242.09,474.21ZM239.07,479.07L239.47,479.71L238.17,480.81L237.24,481.37L235.75,482.08L234.35,483.34L233.08,483.88L231.74,483.41L233.50,482.24L236.09,481.05L237.95,479.87L239.07,479.07ZM219.70,447.82L221.80,447.34L222.43,449.34L224.21,447.90L226.61,448.78L229.01,449.74L229.99,451.10L230.99,451.50L231.21,453.10L232.41,455.10L230.73,454.70L229.82,453.10L228.46,452.78L227.68,453.90L226.29,453.98L224.97,453.10L224.05,453.42L224.70,452.14L224.45,450.94L222.06,449.90L220.88,449.90L220.35,448.94L219.70,447.82ZM204.40,445.50L204.74,445.10L206.11,444.54L207.15,444.14L207.81,443.02L208.83,442.46L209.58,441.18L210.32,441.98L211.39,442.38L210.80,443.10L210.48,444.30L211.30,445.90L210.40,446.30L210.33,447.34L209.59,448.70L209.35,449.90L208.18,449.58L207.15,449.26L206.25,449.10L205.21,449.02L205.10,447.90L204.57,446.70L204.40,445.50ZM194.79,442.22L196.34,442.54L198.41,444.86L199.19,445.34L200.82,446.70L201.40,448.30L202.36,449.10L202.07,451.34L201.16,451.42L199.70,449.90L198.70,447.90L197.68,446.30L197.17,445.26L196.02,443.82L194.79,442.22ZM201.61,452.14L202.27,451.42L203.91,451.82L205.28,452.22L206.73,452.22L208.07,452.94L207.83,453.58L205.22,453.18L203.50,452.94L202.41,452.62L201.61,452.14ZM211.59,451.10L211.52,449.50L211.19,448.86L211.94,446.70L212.61,445.66L214.84,445.90L215.66,445.50L215.13,446.38L212.77,446.30L212.08,446.86L212.88,447.98L214.36,447.18L213.43,448.30L213.67,449.34L213.71,450.38L212.88,450.46L212.29,449.10L212.15,451.10L211.59,451.10ZM211.20,431.90L212.30,431.90L212.36,433.10L212.22,434.30L212.72,435.50L214.19,436.30L214.17,436.70L212.75,435.82L211.73,435.34L211.12,433.90L211.20,431.90ZM213.25,441.10L214.20,439.90L215.53,439.10L216.34,440.70L215.73,441.90L214.66,441.50L213.25,441.10ZM48.30,506.11L49.32,506.17L50.34,506.23L51.35,506.29L52.36,506.35L53.37,506.41L54.50,506.52L55.62,506.64L56.74,506.76L57.85,506.88L58.96,507.00L59.26,506.70L59.57,506.41L59.90,506.11L60.25,505.81L60.61,505.52L60.94,505.08L61.30,504.63L62.03,504.51L62.76,504.40L63.50,504.27L64.27,504.14L65.04,504.01L65.86,503.92L66.69,503.83L67.52,503.74L68.36,503.65L69.20,503.56L70.18,503.59L71.16,503.61L72.14,503.64L73.12,503.67L74.10,503.69L75.12,503.76L76.13,503.82L77.15,503.88L78.16,503.95L79.17,504.01L79.86,503.53L80.58,503.04L81.54,503.04L82.50,503.04L83.47,503.04L84.43,503.04L85.39,503.04L86.41,503.11L87.42,503.17L88.43,503.24L89.44,503.30L90.45,503.37L91.03,502.56L91.65,501.75L92.80,501.75L93.95,501.75L95.10,501.75L94.92,499.73L94.85,497.67L95.89,497.27L96.95,496.86L98.02,496.45L97.33,497.32L96.26,498.36L95.94,499.73L98.17,501.11L98.65,502.72L100.38,504.01L101.84,504.48L103.30,504.93L104.38,505.16L105.44,505.40L106.49,505.64L107.53,505.87L108.56,506.11L109.45,506.11L110.35,506.11L111.24,506.11L112.13,506.11L113.03,506.11L114.02,505.81L115.04,505.52L115.80,505.08L116.57,504.63L117.42,504.34L118.28,504.01L119.16,503.69L120.05,503.37L120.94,502.94L121.85,502.51L122.77,502.08L123.89,501.86L125.02,501.64L126.17,501.43L127.16,501.36L128.15,501.30L129.15,501.24L130.15,501.17L131.15,501.11L132.15,501.11L133.15,501.11L134.15,501.11L135.15,501.11L136.14,501.11L137.13,501.17L138.12,501.24L139.10,501.30L140.08,501.36L141.06,501.43L142.28,501.21L143.50,500.99L144.73,500.76L145.73,500.79L146.73,500.81L147.72,500.83L149.02,500.47L150.33,500.10L151.65,499.73L152.75,499.53L153.86,499.32L154.98,499.12L156.10,498.91L157.23,498.70L158.36,499.05L159.48,499.39L160.49,499.44L161.49,499.49L162.48,499.54L163.48,499.60L164.02,500.42L165.21,500.97L166.74,500.52L168.29,500.08L169.70,499.73L171.13,499.39L172.58,499.05L173.99,498.88L175.42,498.70L176.72,498.70L178.01,498.70L179.45,498.53L180.90,498.36L181.94,498.36L182.99,498.36L184.03,498.36L185.08,498.36L186.12,498.36L187.11,498.70L188.08,499.05L189.54,498.88L191.01,498.70L192.09,498.66L193.17,498.62L194.25,498.58L195.34,498.54L196.42,498.50L197.80,498.43L199.19,498.36L200.22,498.60L201.24,498.84L202.21,499.12L203.17,499.39L204.03,499.73L204.88,500.08L205.93,500.25L206.98,500.42L207.79,500.76L208.59,501.11L209.53,501.30L210.46,501.49L211.23,501.78L211.98,502.08L210.37,503.04L206.82,504.34L204.69,504.93L202.59,505.52L202.31,506.11L203.42,506.11L204.54,506.11L205.43,506.11L206.33,506.11L207.22,506.11L208.11,506.11L209.00,506.11L206.41,507.29L203.95,508.24L201.49,509.19L199.26,509.97L197.26,510.58L195.25,511.20L194.51,511.20L193.77,511.20L193.03,511.20L192.29,511.20L191.55,511.20L190.81,511.20L190.07,511.20L189.33,511.20L188.59,511.20L187.85,511.20L187.11,511.20L186.37,511.20L185.63,511.20L184.89,511.20L184.15,511.20L183.41,511.20L182.67,511.20L181.93,511.20L181.19,511.20L180.45,511.20L179.71,511.20L178.97,511.20L178.23,511.20L177.49,511.20L176.75,511.20L176.01,511.20L175.27,511.20L174.53,511.20L173.79,511.20L173.05,511.20L172.31,511.20L171.57,511.20L170.83,511.20L170.09,511.20L169.35,511.20L168.61,511.20L167.87,511.20L167.13,511.20L166.39,511.20L165.65,511.20L164.91,511.20L164.17,511.20L163.43,511.20L162.69,511.20L161.95,511.20L161.21,511.20L160.47,511.20L159.73,511.20L158.99,511.20L158.25,511.20L157.51,511.20L156.77,511.20L156.03,511.20L155.29,511.20L154.55,511.20L153.81,511.20L153.07,511.20L152.33,511.20L151.59,511.20L150.85,511.20L150.11,511.20L149.37,511.20L148.63,511.20L147.89,511.20L147.15,511.20L146.41,511.20L145.67,511.20L144.93,511.20L144.19,511.20L143.45,511.20L142.71,511.20L141.97,511.20L141.23,511.20L140.49,511.20L139.75,511.20L139.01,511.20L138.27,511.20L137.53,511.20L136.79,511.20L136.05,511.20L135.31,511.20L134.57,511.20L133.83,511.20L133.09,511.20L132.35,511.20L131.61,511.20L130.87,511.20L130.13,511.20L129.39,511.20L128.65,511.20L127.91,511.20L127.17,511.20L126.43,511.20L125.69,511.20L124.95,511.20L124.21,511.20L123.47,511.20L122.73,511.20L121.99,511.20L121.25,511.20L120.51,511.20L119.77,511.20L119.03,511.20L118.29,511.20L117.55,511.20L116.81,511.20L116.07,511.20L115.33,511.20L114.59,511.20L113.85,511.20L113.11,511.20L112.37,511.20L111.63,511.20L110.89,511.20L110.15,511.20L109.41,511.20L108.67,511.20L107.93,511.20L107.19,511.20L106.45,511.20L105.71,511.20L104.97,511.20L104.23,511.20L103.49,511.20L102.75,511.20L102.01,511.20L101.27,511.20L100.53,511.20L99.79,511.20L99.05,511.20L98.31,511.20L97.57,511.20L96.83,511.20L96.09,511.20L95.35,511.20L94.61,511.20L93.87,511.20L93.13,511.20L92.39,511.20L91.65,511.20L90.91,511.20L90.17,511.20L89.43,511.20L88.69,511.20L87.95,511.20L87.21,511.20L86.47,511.20L85.73,511.20L84.99,511.20L84.25,511.20L83.51,511.20L82.77,511.20L82.03,511.20L81.29,511.20L80.55,511.20L79.81,511.20L79.07,511.20L78.33,511.20L77.59,511.20L76.85,511.20L76.11,511.20L75.37,511.20L74.63,511.20L73.89,511.20L73.15,511.20L72.41,511.20L71.67,511.20L70.93,511.20L70.19,511.20L69.45,511.20L68.71,511.20L67.97,511.20L67.23,511.20L66.49,511.20L65.75,511.20L65.01,511.20L64.27,511.20L63.53,511.20L62.79,511.20L62.05,511.20Z" fill="#cfcfcf" stroke="#7a7a7a" stroke-width="0.45"/><path d="M157.83,411.16L158.58,412.35L159.08,413.22L160.05,414.17L160.37,414.72L160.26,415.92L160.28,416.71L161.26,417.11L162.13,417.27L163.61,416.87L163.20,415.12L162.48,414.72L162.32,413.77L162.77,412.98L161.77,412.51L160.94,412.19L160.37,411.32L160.69,411.08L161.61,410.53L161.44,409.44L160.13,409.13L159.12,409.52L158.88,410.06L158.26,410.30L157.83,411.16ZM146.44,413.53L147.11,413.77L148.70,413.77L149.88,413.14L150.82,413.06L151.93,413.69L153.20,414.01L154.14,413.93L155.02,413.53L154.92,412.66L153.80,412.03L152.73,411.32L152.06,411.00L152.50,410.38L151.49,409.60L150.71,410.45L151.35,410.53L150.51,411.08L149.58,411.16L148.97,410.45L149.45,409.99L148.08,409.52L147.60,409.60L147.05,410.45L146.60,411.32L146.32,412.59L146.44,413.53Z" fill="#fff" stroke="#7a7a7a" stroke-width="0.45"/><circle cx="121.10" cy="463.54" r="1.35" fill="#f8f8f8" fill-opacity="0.75" stroke="#b4b4b4" stroke-width="0.4"/><circle cx="123.34" cy="468.56" r="1.35" fill="#f8f8f8" fill-opacity="0.75" stroke="#b4b4b4" stroke-width="0.4"/><circle cx="122.62" cy="468.06" r="1.35" fill="#f8f8f8" fill-opacity="0.75" stroke="#b4b4b4" stroke-width="0.4"/><circle cx="113.38" cy="456.64" r="1.35" fill="#f8f8f8" fill-opacity="0.75" stroke="#b4b4b4" stroke-width="0.4"/><circle cx="125.26" cy="461.22" r="1.35" fill="#f8f8f8" fill-opacity="0.75" stroke="#b4b4b4" stroke-width="0.4"/><circle cx="124.71" cy="447.83" r="1.35" fill="#f8f8f8" fill-opacity="0.75" stroke="#b4b4b4" stroke-width="0.4"/><circle cx="119.10" cy="451.16" r="1.35" fill="#f8f8f8" fill-opacity="0.75" stroke="#b4b4b4" stroke-width="0.4"/><circle cx="120.07" cy="459.35" r="1.35" fill="#f8f8f8" fill-opacity="0.75" stroke="#b4b4b4" stroke-width="0.4"/><circle cx="113.17" cy="450.42" r="1.35" fill="#f8f8f8" fill-opacity="0.75" stroke="#b4b4b4" stroke-width="0.4"/><circle cx="116.63" cy="467.91" r="1.35" fill="#f8f8f8" fill-opacity="0.75" stroke="#b4b4b4" stroke-width="0.4"/><circle cx="122.95" cy="448.99" r="1.35" fill="#f8f8f8" fill-opacity="0.75" stroke="#b4b4b4" stroke-width="0.4"/><circle cx="123.36" cy="448.47" r="1.35" fill="#f8f8f8" fill-opacity="0.75" stroke="#b4b4b4" stroke-width="0.4"/><circle cx="135.32" cy="457.53" r="1.35" fill="#f8f8f8" fill-opacity="0.75" stroke="#b4b4b4" stroke-width="0.4"/><circle cx="131.01" cy="472.43" r="1.35" fill="#f8f8f8" fill-opacity="0.75" stroke="#b4b4b4" stroke-width="0.4"/><circle cx="132.47" cy="459.31" r="1.35" fill="#f8f8f8" fill-opacity="0.75" stroke="#b4b4b4" stroke-width="0.4"/><circle cx="137.88" cy="472.45" r="1.35" fill="#f8f8f8" fill-opacity="0.75" stroke="#b4b4b4" stroke-width="0.4"/><circle cx="133.03" cy="474.23" r="1.35" fill="#f8f8f8" fill-opacity="0.75" stroke="#b4b4b4" stroke-width="0.4"/><circle cx="134.77" cy="468.56" r="1.35" fill="#f8f8f8" fill-opacity="0.75" stroke="#b4b4b4" stroke-width="0.4"/><circle cx="136.5" cy="451" r="1.4" fill="#f0b0a0" stroke="#c87060" stroke-width="0.45"/><circle cx="114.7" cy="442" r="1.4" fill="#c8dcea" stroke="#7aa0c0" stroke-width="0.45"/><circle cx="144.4" cy="478" r="1.4" fill="#c8dcea" stroke="#7aa0c0" stroke-width="0.45"/><circle cx="41.88" cy="403.67" r="1.35" fill="#f6f6f6" fill-opacity="0.75" stroke="#b0b0b0" stroke-width="0.4"/><circle cx="49.71" cy="421.56" r="1.35" fill="#f6f6f6" fill-opacity="0.75" stroke="#b0b0b0" stroke-width="0.4"/><circle cx="67.31" cy="425.72" r="1.35" fill="#f6f6f6" fill-opacity="0.75" stroke="#aeaeae" stroke-width="0.4"/><circle cx="78.92" cy="432.78" r="1.35" fill="#f8f8f8" fill-opacity="0.75" stroke="#b2b2b2" stroke-width="0.4"/><circle cx="75.46" cy="436.67" r="1.35" fill="#f6f6f6" fill-opacity="0.75" stroke="#aeaeae" stroke-width="0.4"/><circle cx="79.44" cy="432.24" r="1.35" fill="#f8f8f8" fill-opacity="0.75" stroke="#b2b2b2" stroke-width="0.4"/><circle cx="77.55" cy="432.40" r="1.35" fill="#f6f6f6" fill-opacity="0.75" stroke="#aeaeae" stroke-width="0.4"/><circle cx="75.73" cy="432.43" r="1.35" fill="#f6f6f6" fill-opacity="0.75" stroke="#aeaeae" stroke-width="0.4"/><circle cx="75.59" cy="435.19" r="1.35" fill="#f6f6f6" fill-opacity="0.75" stroke="#aeaeae" stroke-width="0.4"/><circle cx="82.77" cy="435.29" r="1.35" fill="#f6f6f6" fill-opacity="0.75" stroke="#aeaeae" stroke-width="0.4"/><circle cx="82.10" cy="434.21" r="1.35" fill="#f6f6f6" fill-opacity="0.75" stroke="#aeaeae" stroke-width="0.4"/><circle cx="75.43" cy="436.89" r="1.35" fill="#f6f6f6" fill-opacity="0.75" stroke="#aeaeae" stroke-width="0.4"/><circle cx="80.12" cy="435.04" r="1.35" fill="#f8f8f8" fill-opacity="0.75" stroke="#b2b2b2" stroke-width="0.4"/><circle cx="78.73" cy="436.64" r="1.35" fill="#f6f6f6" fill-opacity="0.75" stroke="#aeaeae" stroke-width="0.4"/><circle cx="76.14" cy="435.22" r="1.35" fill="#f6f6f6" fill-opacity="0.75" stroke="#aeaeae" stroke-width="0.4"/><circle cx="67.79" cy="442.54" r="1.35" fill="#f6f6f6" fill-opacity="0.75" stroke="#b0b0b0" stroke-width="0.4"/><circle cx="67.70" cy="447.12" r="1.35" fill="#f6f6f6" fill-opacity="0.75" stroke="#b0b0b0" stroke-width="0.4"/><circle cx="69.00" cy="447.47" r="1.35" fill="#f6f6f6" fill-opacity="0.75" stroke="#b0b0b0" stroke-width="0.4"/><circle cx="69.79" cy="446.54" r="1.35" fill="#f6f6f6" fill-opacity="0.75" stroke="#b0b0b0" stroke-width="0.4"/><circle cx="68.33" cy="448.94" r="1.35" fill="#f6f6f6" fill-opacity="0.75" stroke="#b0b0b0" stroke-width="0.4"/><circle cx="67.21" cy="448.32" r="1.35" fill="#f6f6f6" fill-opacity="0.75" stroke="#b0b0b0" stroke-width="0.4"/><circle cx="65.73" cy="445.93" r="1.35" fill="#f6f6f6" fill-opacity="0.75" stroke="#b0b0b0" stroke-width="0.4"/><circle cx="55.13" cy="447.38" r="1.35" fill="#f6f6f6" fill-opacity="0.75" stroke="#b0b0b0" stroke-width="0.4"/><circle cx="55.13" cy="451.63" r="1.35" fill="#f6f6f6" fill-opacity="0.75" stroke="#aeaeae" stroke-width="0.4"/><circle cx="61.41" cy="454.15" r="1.35" fill="#f6f6f6" fill-opacity="0.75" stroke="#aeaeae" stroke-width="0.4"/><circle cx="75.04" cy="460.72" r="1.35" fill="#f6f6f6" fill-opacity="0.75" stroke="#b0b0b0" stroke-width="0.4"/><circle cx="76.78" cy="467.10" r="1.35" fill="#f6f6f6" fill-opacity="0.75" stroke="#aeaeae" stroke-width="0.4"/><circle cx="58.70" cy="490.31" r="1.35" fill="#f6f6f6" fill-opacity="0.75" stroke="#b0b0b0" stroke-width="0.4"/><circle cx="62.76" cy="491.18" r="1.35" fill="#f8f8f8" fill-opacity="0.75" stroke="#b2b2b2" stroke-width="0.4"/><circle cx="12.88" cy="452.89" r="1.35" fill="#f6f6f6" fill-opacity="0.75" stroke="#aeaeae" stroke-width="0.4"/><circle cx="85.87" cy="421.56" r="1.35" fill="#f8f8f8" fill-opacity="0.75" stroke="#b2b2b2" stroke-width="0.4"/><circle cx="90.32" cy="420.30" r="1.35" fill="#f8f8f8" fill-opacity="0.75" stroke="#b2b2b2" stroke-width="0.4"/><circle cx="100.66" cy="428.56" r="1.35" fill="#f6f6f6" fill-opacity="0.75" stroke="#aeaeae" stroke-width="0.4"/><circle cx="99.22" cy="425.13" r="1.35" fill="#f6f6f6" fill-opacity="0.75" stroke="#aeaeae" stroke-width="0.4"/><circle cx="96.82" cy="426.53" r="1.35" fill="#f6f6f6" fill-opacity="0.75" stroke="#aeaeae" stroke-width="0.4"/><circle cx="98.21" cy="429.77" r="1.35" fill="#f6f6f6" fill-opacity="0.75" stroke="#aeaeae" stroke-width="0.4"/><circle cx="100.06" cy="427.74" r="1.35" fill="#f6f6f6" fill-opacity="0.75" stroke="#aeaeae" stroke-width="0.4"/><circle cx="97.77" cy="426.58" r="1.35" fill="#f6f6f6" fill-opacity="0.75" stroke="#aeaeae" stroke-width="0.4"/><circle cx="96.79" cy="437.51" r="1.35" fill="#f8f8f8" fill-opacity="0.75" stroke="#b2b2b2" stroke-width="0.4"/><circle cx="99.66" cy="442.64" r="1.35" fill="#f8f8f8" fill-opacity="0.75" stroke="#b2b2b2" stroke-width="0.4"/><circle cx="100.36" cy="442.70" r="1.35" fill="#f8f8f8" fill-opacity="0.75" stroke="#b2b2b2" stroke-width="0.4"/><circle cx="98.65" cy="443.47" r="1.35" fill="#f8f8f8" fill-opacity="0.75" stroke="#b2b2b2" stroke-width="0.4"/><circle cx="99.09" cy="442.40" r="1.35" fill="#f8f8f8" fill-opacity="0.75" stroke="#b2b2b2" stroke-width="0.4"/><circle cx="104.05" cy="451.05" r="1.35" fill="#f8f8f8" fill-opacity="0.75" stroke="#b2b2b2" stroke-width="0.4"/><circle cx="104.91" cy="444.33" r="1.35" fill="#f6f6f6" fill-opacity="0.75" stroke="#b0b0b0" stroke-width="0.4"/><circle cx="107.18" cy="444.45" r="1.35" fill="#f6f6f6" fill-opacity="0.75" stroke="#b0b0b0" stroke-width="0.4"/><circle cx="107.79" cy="443.04" r="1.35" fill="#f6f6f6" fill-opacity="0.75" stroke="#b0b0b0" stroke-width="0.4"/><circle cx="106.36" cy="446.09" r="1.35" fill="#f6f6f6" fill-opacity="0.75" stroke="#b0b0b0" stroke-width="0.4"/><circle cx="110.12" cy="444.35" r="1.35" fill="#f8f8f8" fill-opacity="0.75" stroke="#b2b2b2" stroke-width="0.4"/><circle cx="111.26" cy="442.08" r="1.35" fill="#f6f6f6" fill-opacity="0.75" stroke="#b0b0b0" stroke-width="0.4"/><circle cx="114.66" cy="443.11" r="1.35" fill="#f6f6f6" fill-opacity="0.75" stroke="#b0b0b0" stroke-width="0.4"/><circle cx="115.37" cy="446.04" r="1.35" fill="#f6f6f6" fill-opacity="0.75" stroke="#b0b0b0" stroke-width="0.4"/><circle cx="115.21" cy="442.19" r="1.35" fill="#f6f6f6" fill-opacity="0.75" stroke="#b0b0b0" stroke-width="0.4"/><circle cx="110.53" cy="445.87" r="1.35" fill="#f6f6f6" fill-opacity="0.75" stroke="#b0b0b0" stroke-width="0.4"/><circle cx="112.47" cy="445.36" r="1.35" fill="#f6f6f6" fill-opacity="0.75" stroke="#b0b0b0" stroke-width="0.4"/><circle cx="111.29" cy="442.15" r="1.35" fill="#f8f8f8" fill-opacity="0.75" stroke="#b2b2b2" stroke-width="0.4"/><circle cx="103.09" cy="421.52" r="1.35" fill="#f6f6f6" fill-opacity="0.75" stroke="#aeaeae" stroke-width="0.4"/><circle cx="104.96" cy="421.33" r="1.35" fill="#f6f6f6" fill-opacity="0.75" stroke="#aeaeae" stroke-width="0.4"/><circle cx="103.60" cy="422.70" r="1.35" fill="#f6f6f6" fill-opacity="0.75" stroke="#aeaeae" stroke-width="0.4"/><circle cx="103.26" cy="420.86" r="1.35" fill="#f6f6f6" fill-opacity="0.75" stroke="#aeaeae" stroke-width="0.4"/><circle cx="119.57" cy="423.68" r="1.35" fill="#f6f6f6" fill-opacity="0.75" stroke="#aeaeae" stroke-width="0.4"/><circle cx="122.11" cy="427.78" r="1.35" fill="#f6f6f6" fill-opacity="0.75" stroke="#aeaeae" stroke-width="0.4"/><circle cx="117.44" cy="423.58" r="1.35" fill="#f6f6f6" fill-opacity="0.75" stroke="#aeaeae" stroke-width="0.4"/><circle cx="119.08" cy="428.82" r="1.35" fill="#f6f6f6" fill-opacity="0.75" stroke="#aeaeae" stroke-width="0.4"/><circle cx="119.42" cy="423.77" r="1.35" fill="#f6f6f6" fill-opacity="0.75" stroke="#aeaeae" stroke-width="0.4"/><circle cx="119.42" cy="424.62" r="1.35" fill="#f6f6f6" fill-opacity="0.75" stroke="#aeaeae" stroke-width="0.4"/><circle cx="121.90" cy="429.53" r="1.35" fill="#f6f6f6" fill-opacity="0.75" stroke="#aeaeae" stroke-width="0.4"/><circle cx="115.86" cy="432.20" r="1.35" fill="#f6f6f6" fill-opacity="0.75" stroke="#aeaeae" stroke-width="0.4"/><circle cx="118.45" cy="426.39" r="1.35" fill="#f6f6f6" fill-opacity="0.75" stroke="#aeaeae" stroke-width="0.4"/><circle cx="115.71" cy="426.72" r="1.35" fill="#f6f6f6" fill-opacity="0.75" stroke="#aeaeae" stroke-width="0.4"/><circle cx="121.09" cy="450.30" r="1.35" fill="#f6f6f6" fill-opacity="0.75" stroke="#b0b0b0" stroke-width="0.4"/><circle cx="118.97" cy="452.49" r="1.35" fill="#f6f6f6" fill-opacity="0.75" stroke="#b0b0b0" stroke-width="0.4"/><circle cx="118.52" cy="449.05" r="1.35" fill="#f6f6f6" fill-opacity="0.75" stroke="#b0b0b0" stroke-width="0.4"/><circle cx="123.25" cy="446.98" r="1.35" fill="#f6f6f6" fill-opacity="0.75" stroke="#b0b0b0" stroke-width="0.4"/><circle cx="122.77" cy="446.67" r="1.35" fill="#f6f6f6" fill-opacity="0.75" stroke="#b0b0b0" stroke-width="0.4"/><circle cx="124.41" cy="447.47" r="1.35" fill="#f6f6f6" fill-opacity="0.75" stroke="#b0b0b0" stroke-width="0.4"/><circle cx="121.51" cy="451.03" r="1.35" fill="#f6f6f6" fill-opacity="0.75" stroke="#b0b0b0" stroke-width="0.4"/><circle cx="122.31" cy="449.63" r="1.35" fill="#f6f6f6" fill-opacity="0.75" stroke="#b0b0b0" stroke-width="0.4"/><circle cx="123.62" cy="451.36" r="1.35" fill="#f6f6f6" fill-opacity="0.75" stroke="#b0b0b0" stroke-width="0.4"/><circle cx="118.93" cy="448.62" r="1.35" fill="#f6f6f6" fill-opacity="0.75" stroke="#b0b0b0" stroke-width="0.4"/><circle cx="125.04" cy="451.12" r="1.35" fill="#f4f4f4" fill-opacity="0.75" stroke="#adadad" stroke-width="0.4"/><circle cx="119.39" cy="450.30" r="1.35" fill="#f6f6f6" fill-opacity="0.75" stroke="#b0b0b0" stroke-width="0.4"/><circle cx="126.67" cy="451.05" r="1.35" fill="#f6f6f6" fill-opacity="0.75" stroke="#b0b0b0" stroke-width="0.4"/><circle cx="132.18" cy="446.41" r="1.35" fill="#f6f6f6" fill-opacity="0.75" stroke="#b0b0b0" stroke-width="0.4"/><circle cx="130.34" cy="444.77" r="1.35" fill="#f6f6f6" fill-opacity="0.75" stroke="#b0b0b0" stroke-width="0.4"/><circle cx="134.79" cy="452.02" r="1.35" fill="#f4f4f4" fill-opacity="0.75" stroke="#adadad" stroke-width="0.4"/><circle cx="135.27" cy="452.21" r="1.35" fill="#f2f2f2" fill-opacity="0.75" stroke="#a8a8a8" stroke-width="0.4"/><circle cx="114.75" cy="410.29" r="1.35" fill="#f6f6f6" fill-opacity="0.75" stroke="#aeaeae" stroke-width="0.4"/><circle cx="116.01" cy="410.33" r="1.35" fill="#f6f6f6" fill-opacity="0.75" stroke="#aeaeae" stroke-width="0.4"/><circle cx="114.56" cy="408.63" r="1.35" fill="#f6f6f6" fill-opacity="0.75" stroke="#aeaeae" stroke-width="0.4"/><circle cx="112.79" cy="411.57" r="1.35" fill="#f6f6f6" fill-opacity="0.75" stroke="#aeaeae" stroke-width="0.4"/><circle cx="112.74" cy="412.56" r="1.35" fill="#f6f6f6" fill-opacity="0.75" stroke="#aeaeae" stroke-width="0.4"/><circle cx="114.35" cy="413.06" r="1.35" fill="#f6f6f6" fill-opacity="0.75" stroke="#aeaeae" stroke-width="0.4"/><circle cx="110.33" cy="415.63" r="1.35" fill="#f6f6f6" fill-opacity="0.75" stroke="#aeaeae" stroke-width="0.4"/><circle cx="111.07" cy="414.31" r="1.35" fill="#f6f6f6" fill-opacity="0.75" stroke="#aeaeae" stroke-width="0.4"/><circle cx="110.75" cy="416.22" r="1.35" fill="#f6f6f6" fill-opacity="0.75" stroke="#aeaeae" stroke-width="0.4"/><circle cx="107.99" cy="418.95" r="1.35" fill="#f6f6f6" fill-opacity="0.75" stroke="#aeaeae" stroke-width="0.4"/><circle cx="107.28" cy="417.62" r="1.35" fill="#f6f6f6" fill-opacity="0.75" stroke="#aeaeae" stroke-width="0.4"/><circle cx="108.00" cy="417.98" r="1.35" fill="#f6f6f6" fill-opacity="0.75" stroke="#aeaeae" stroke-width="0.4"/><circle cx="105.03" cy="421.69" r="1.35" fill="#f6f6f6" fill-opacity="0.75" stroke="#aeaeae" stroke-width="0.4"/><circle cx="104.09" cy="420.36" r="1.35" fill="#f6f6f6" fill-opacity="0.75" stroke="#aeaeae" stroke-width="0.4"/><circle cx="105.37" cy="421.11" r="1.35" fill="#f6f6f6" fill-opacity="0.75" stroke="#aeaeae" stroke-width="0.4"/><circle cx="100.57" cy="421.95" r="1.35" fill="#f6f6f6" fill-opacity="0.75" stroke="#aeaeae" stroke-width="0.4"/><circle cx="100.53" cy="423.75" r="1.35" fill="#f6f6f6" fill-opacity="0.75" stroke="#aeaeae" stroke-width="0.4"/><circle cx="102.05" cy="421.99" r="1.35" fill="#f6f6f6" fill-opacity="0.75" stroke="#aeaeae" stroke-width="0.4"/><circle cx="99.05" cy="426.98" r="1.35" fill="#f6f6f6" fill-opacity="0.75" stroke="#aeaeae" stroke-width="0.4"/><circle cx="98.66" cy="425.51" r="1.35" fill="#f6f6f6" fill-opacity="0.75" stroke="#aeaeae" stroke-width="0.4"/><circle cx="98.41" cy="425.00" r="1.35" fill="#f6f6f6" fill-opacity="0.75" stroke="#aeaeae" stroke-width="0.4"/><circle cx="94.89" cy="430.00" r="1.35" fill="#f6f6f6" fill-opacity="0.75" stroke="#aeaeae" stroke-width="0.4"/><circle cx="96.37" cy="428.97" r="1.35" fill="#f6f6f6" fill-opacity="0.75" stroke="#aeaeae" stroke-width="0.4"/><circle cx="97.03" cy="428.75" r="1.35" fill="#f6f6f6" fill-opacity="0.75" stroke="#aeaeae" stroke-width="0.4"/><circle cx="96.11" cy="432.66" r="1.35" fill="#f6f6f6" fill-opacity="0.75" stroke="#aeaeae" stroke-width="0.4"/><circle cx="94.58" cy="431.33" r="1.35" fill="#f6f6f6" fill-opacity="0.75" stroke="#aeaeae" stroke-width="0.4"/><circle cx="94.77" cy="431.30" r="1.35" fill="#f6f6f6" fill-opacity="0.75" stroke="#aeaeae" stroke-width="0.4"/><circle cx="97.00" cy="434.25" r="1.35" fill="#f6f6f6" fill-opacity="0.75" stroke="#aeaeae" stroke-width="0.4"/><circle cx="96.61" cy="433.95" r="1.35" fill="#f6f6f6" fill-opacity="0.75" stroke="#aeaeae" stroke-width="0.4"/><circle cx="97.75" cy="434.47" r="1.35" fill="#f6f6f6" fill-opacity="0.75" stroke="#aeaeae" stroke-width="0.4"/><circle cx="106.02" cy="414.98" r="1.35" fill="#f8f8f8" fill-opacity="0.75" stroke="#b2b2b2" stroke-width="0.4"/><circle cx="105.37" cy="416.92" r="1.35" fill="#f8f8f8" fill-opacity="0.75" stroke="#b2b2b2" stroke-width="0.4"/><circle cx="100.33" cy="412.48" r="1.35" fill="#f8f8f8" fill-opacity="0.75" stroke="#b2b2b2" stroke-width="0.4"/><circle cx="98.38" cy="414.15" r="1.35" fill="#f6f6f6" fill-opacity="0.75" stroke="#aeaeae" stroke-width="0.4"/><circle cx="108.64" cy="416.10" r="1.35" fill="#f6f6f6" fill-opacity="0.75" stroke="#aeaeae" stroke-width="0.4"/><circle cx="101.05" cy="414.34" r="1.35" fill="#f8f8f8" fill-opacity="0.75" stroke="#b2b2b2" stroke-width="0.4"/><circle cx="100.15" cy="411.96" r="1.35" fill="#f8f8f8" fill-opacity="0.75" stroke="#b2b2b2" stroke-width="0.4"/><circle cx="107.07" cy="414.82" r="1.35" fill="#f6f6f6" fill-opacity="0.75" stroke="#aeaeae" stroke-width="0.4"/><circle cx="126.25" cy="407.65" r="1.35" fill="#f6f6f6" fill-opacity="0.75" stroke="#aeaeae" stroke-width="0.4"/><circle cx="124.91" cy="407.62" r="1.35" fill="#f6f6f6" fill-opacity="0.75" stroke="#aeaeae" stroke-width="0.4"/><circle cx="124.73" cy="408.41" r="1.35" fill="#f6f6f6" fill-opacity="0.75" stroke="#aeaeae" stroke-width="0.4"/><circle cx="122.27" cy="410.04" r="1.35" fill="#f6f6f6" fill-opacity="0.75" stroke="#aeaeae" stroke-width="0.4"/><circle cx="122.34" cy="408.94" r="1.35" fill="#f6f6f6" fill-opacity="0.75" stroke="#aeaeae" stroke-width="0.4"/><circle cx="124.10" cy="409.48" r="1.35" fill="#f6f6f6" fill-opacity="0.75" stroke="#aeaeae" stroke-width="0.4"/><circle cx="121.16" cy="413.34" r="1.35" fill="#f6f6f6" fill-opacity="0.75" stroke="#aeaeae" stroke-width="0.4"/><circle cx="121.75" cy="414.37" r="1.35" fill="#f6f6f6" fill-opacity="0.75" stroke="#aeaeae" stroke-width="0.4"/><circle cx="121.75" cy="413.29" r="1.35" fill="#f6f6f6" fill-opacity="0.75" stroke="#aeaeae" stroke-width="0.4"/><circle cx="120.24" cy="419.09" r="1.35" fill="#f6f6f6" fill-opacity="0.75" stroke="#aeaeae" stroke-width="0.4"/><circle cx="121.02" cy="419.18" r="1.35" fill="#f6f6f6" fill-opacity="0.75" stroke="#aeaeae" stroke-width="0.4"/><circle cx="120.95" cy="417.79" r="1.35" fill="#f6f6f6" fill-opacity="0.75" stroke="#aeaeae" stroke-width="0.4"/><circle cx="118.54" cy="422.65" r="1.35" fill="#f6f6f6" fill-opacity="0.75" stroke="#aeaeae" stroke-width="0.4"/><circle cx="118.44" cy="422.46" r="1.35" fill="#f6f6f6" fill-opacity="0.75" stroke="#aeaeae" stroke-width="0.4"/><circle cx="118.97" cy="422.68" r="1.35" fill="#f6f6f6" fill-opacity="0.75" stroke="#aeaeae" stroke-width="0.4"/><circle cx="116.64" cy="426.20" r="1.35" fill="#f6f6f6" fill-opacity="0.75" stroke="#aeaeae" stroke-width="0.4"/><circle cx="116.46" cy="427.12" r="1.35" fill="#f6f6f6" fill-opacity="0.75" stroke="#aeaeae" stroke-width="0.4"/><circle cx="118.04" cy="426.86" r="1.35" fill="#f6f6f6" fill-opacity="0.75" stroke="#aeaeae" stroke-width="0.4"/><circle cx="115.39" cy="429.88" r="1.35" fill="#f6f6f6" fill-opacity="0.75" stroke="#aeaeae" stroke-width="0.4"/><circle cx="114.95" cy="430.30" r="1.35" fill="#f6f6f6" fill-opacity="0.75" stroke="#aeaeae" stroke-width="0.4"/><circle cx="116.12" cy="429.57" r="1.35" fill="#f6f6f6" fill-opacity="0.75" stroke="#aeaeae" stroke-width="0.4"/><circle cx="115.62" cy="432.80" r="1.35" fill="#f6f6f6" fill-opacity="0.75" stroke="#aeaeae" stroke-width="0.4"/><circle cx="115.20" cy="432.92" r="1.35" fill="#f6f6f6" fill-opacity="0.75" stroke="#aeaeae" stroke-width="0.4"/><circle cx="115.27" cy="434.41" r="1.35" fill="#f6f6f6" fill-opacity="0.75" stroke="#aeaeae" stroke-width="0.4"/><circle cx="114.01" cy="435.52" r="1.35" fill="#f6f6f6" fill-opacity="0.75" stroke="#aeaeae" stroke-width="0.4"/><circle cx="113.92" cy="434.89" r="1.35" fill="#f6f6f6" fill-opacity="0.75" stroke="#aeaeae" stroke-width="0.4"/><circle cx="113.94" cy="435.36" r="1.35" fill="#f6f6f6" fill-opacity="0.75" stroke="#aeaeae" stroke-width="0.4"/><circle cx="93.02" cy="413.05" r="1.35" fill="#f6f6f6" fill-opacity="0.75" stroke="#b0b0b0" stroke-width="0.4"/><circle cx="98.29" cy="413.77" r="1.35" fill="#f6f6f6" fill-opacity="0.75" stroke="#b0b0b0" stroke-width="0.4"/><circle cx="117.60" cy="400.32" r="1.35" fill="#f6f6f6" fill-opacity="0.75" stroke="#aeaeae" stroke-width="0.4"/><circle cx="138.61" cy="386.95" r="1.35" fill="#f6f6f6" fill-opacity="0.75" stroke="#aeaeae" stroke-width="0.4"/><circle cx="110.35" cy="408.04" r="1.35" fill="#f6f6f6" fill-opacity="0.75" stroke="#aeaeae" stroke-width="0.4"/><circle cx="123.05" cy="400.23" r="1.35" fill="#f6f6f6" fill-opacity="0.75" stroke="#aeaeae" stroke-width="0.4"/><circle cx="128.91" cy="386.45" r="1.35" fill="#f6f6f6" fill-opacity="0.75" stroke="#aeaeae" stroke-width="0.4"/><circle cx="132.45" cy="389.49" r="1.35" fill="#f6f6f6" fill-opacity="0.75" stroke="#aeaeae" stroke-width="0.4"/><circle cx="125.61" cy="390.76" r="1.35" fill="#f6f6f6" fill-opacity="0.75" stroke="#aeaeae" stroke-width="0.4"/><circle cx="115.98" cy="401.47" r="1.35" fill="#f6f6f6" fill-opacity="0.75" stroke="#aeaeae" stroke-width="0.4"/><circle cx="110.33" cy="413.75" r="1.35" fill="#f8f8f8" fill-opacity="0.75" stroke="#b2b2b2" stroke-width="0.4"/><circle cx="114.76" cy="408.16" r="1.35" fill="#f6f6f6" fill-opacity="0.75" stroke="#aeaeae" stroke-width="0.4"/><circle cx="119.79" cy="405.33" r="1.35" fill="#f6f6f6" fill-opacity="0.75" stroke="#aeaeae" stroke-width="0.4"/><circle cx="137.29" cy="387.00" r="1.35" fill="#f8f8f8" fill-opacity="0.75" stroke="#b2b2b2" stroke-width="0.4"/><circle cx="119.31" cy="399.59" r="1.35" fill="#f6f6f6" fill-opacity="0.75" stroke="#aeaeae" stroke-width="0.4"/><circle cx="110.96" cy="412.12" r="1.35" fill="#f8f8f8" fill-opacity="0.75" stroke="#b2b2b2" stroke-width="0.4"/><circle cx="126.60" cy="396.66" r="1.35" fill="#f6f6f6" fill-opacity="0.75" stroke="#aeaeae" stroke-width="0.4"/><circle cx="117.48" cy="399.94" r="1.35" fill="#f6f6f6" fill-opacity="0.75" stroke="#aeaeae" stroke-width="0.4"/><circle cx="113.83" cy="404.81" r="1.35" fill="#f6f6f6" fill-opacity="0.75" stroke="#aeaeae" stroke-width="0.4"/><circle cx="112.18" cy="402.52" r="1.35" fill="#f8f8f8" fill-opacity="0.75" stroke="#b2b2b2" stroke-width="0.4"/><circle cx="134.37" cy="388.58" r="1.35" fill="#f8f8f8" fill-opacity="0.75" stroke="#b2b2b2" stroke-width="0.4"/><circle cx="121.53" cy="392.76" r="1.35" fill="#f8f8f8" fill-opacity="0.75" stroke="#b2b2b2" stroke-width="0.4"/><circle cx="132.91" cy="388.07" r="1.35" fill="#f8f8f8" fill-opacity="0.75" stroke="#b2b2b2" stroke-width="0.4"/><circle cx="132.93" cy="384.07" r="1.35" fill="#f8f8f8" fill-opacity="0.75" stroke="#b2b2b2" stroke-width="0.4"/><circle cx="107.60" cy="410.63" r="1.35" fill="#f8f8f8" fill-opacity="0.75" stroke="#b2b2b2" stroke-width="0.4"/><circle cx="122.86" cy="391.48" r="1.35" fill="#f6f6f6" fill-opacity="0.75" stroke="#aeaeae" stroke-width="0.4"/><circle cx="106.21" cy="407.42" r="1.35" fill="#f6f6f6" fill-opacity="0.75" stroke="#aeaeae" stroke-width="0.4"/><circle cx="112.25" cy="408.06" r="1.35" fill="#f6f6f6" fill-opacity="0.75" stroke="#aeaeae" stroke-width="0.4"/><circle cx="121.52" cy="395.95" r="1.35" fill="#f6f6f6" fill-opacity="0.75" stroke="#aeaeae" stroke-width="0.4"/><circle cx="110.95" cy="402.98" r="1.35" fill="#f6f6f6" fill-opacity="0.75" stroke="#aeaeae" stroke-width="0.4"/><circle cx="112.94" cy="407.63" r="1.35" fill="#f6f6f6" fill-opacity="0.75" stroke="#aeaeae" stroke-width="0.4"/><circle cx="126.07" cy="387.88" r="1.35" fill="#f6f6f6" fill-opacity="0.75" stroke="#aeaeae" stroke-width="0.4"/><circle cx="128.02" cy="392.98" r="1.35" fill="#f8f8f8" fill-opacity="0.75" stroke="#b2b2b2" stroke-width="0.4"/><circle cx="114.07" cy="398.65" r="1.35" fill="#f6f6f6" fill-opacity="0.75" stroke="#aeaeae" stroke-width="0.4"/><circle cx="120.77" cy="392.94" r="1.35" fill="#f6f6f6" fill-opacity="0.75" stroke="#aeaeae" stroke-width="0.4"/><circle cx="111.39" cy="402.39" r="1.35" fill="#f6f6f6" fill-opacity="0.75" stroke="#aeaeae" stroke-width="0.4"/><circle cx="130.59" cy="392.04" r="1.35" fill="#f6f6f6" fill-opacity="0.75" stroke="#aeaeae" stroke-width="0.4"/><circle cx="108.60" cy="410.12" r="1.35" fill="#f8f8f8" fill-opacity="0.75" stroke="#b2b2b2" stroke-width="0.4"/><circle cx="116.92" cy="399.68" r="1.35" fill="#f6f6f6" fill-opacity="0.75" stroke="#aeaeae" stroke-width="0.4"/><circle cx="118.74" cy="395.74" r="1.35" fill="#f6f6f6" fill-opacity="0.75" stroke="#aeaeae" stroke-width="0.4"/><circle cx="108.15" cy="413.56" r="1.35" fill="#f8f8f8" fill-opacity="0.75" stroke="#b2b2b2" stroke-width="0.4"/><circle cx="109.18" cy="415.01" r="1.35" fill="#f6f6f6" fill-opacity="0.75" stroke="#aeaeae" stroke-width="0.4"/><circle cx="129.59" cy="385.16" r="1.35" fill="#f8f8f8" fill-opacity="0.75" stroke="#b2b2b2" stroke-width="0.4"/><circle cx="118.55" cy="403.47" r="1.35" fill="#f6f6f6" fill-opacity="0.75" stroke="#aeaeae" stroke-width="0.4"/><circle cx="126.91" cy="392.83" r="1.35" fill="#f6f6f6" fill-opacity="0.75" stroke="#aeaeae" stroke-width="0.4"/><circle cx="120.06" cy="394.34" r="1.35" fill="#f6f6f6" fill-opacity="0.75" stroke="#aeaeae" stroke-width="0.4"/><circle cx="119.14" cy="401.30" r="1.35" fill="#f6f6f6" fill-opacity="0.75" stroke="#aeaeae" stroke-width="0.4"/><circle cx="113.09" cy="402.01" r="1.35" fill="#f6f6f6" fill-opacity="0.75" stroke="#aeaeae" stroke-width="0.4"/><circle cx="118.66" cy="400.53" r="1.35" fill="#f6f6f6" fill-opacity="0.75" stroke="#aeaeae" stroke-width="0.4"/><circle cx="113.52" cy="407.92" r="1.35" fill="#f6f6f6" fill-opacity="0.75" stroke="#aeaeae" stroke-width="0.4"/><circle cx="120.78" cy="402.58" r="1.35" fill="#f6f6f6" fill-opacity="0.75" stroke="#aeaeae" stroke-width="0.4"/><circle cx="120.60" cy="398.10" r="1.35" fill="#f6f6f6" fill-opacity="0.75" stroke="#aeaeae" stroke-width="0.4"/><circle cx="138.62" cy="387.08" r="1.35" fill="#f8f8f8" fill-opacity="0.75" stroke="#b2b2b2" stroke-width="0.4"/><circle cx="135.86" cy="386.31" r="1.35" fill="#f6f6f6" fill-opacity="0.75" stroke="#aeaeae" stroke-width="0.4"/><circle cx="113.18" cy="409.16" r="1.35" fill="#f6f6f6" fill-opacity="0.75" stroke="#aeaeae" stroke-width="0.4"/><circle cx="129.06" cy="393.51" r="1.35" fill="#f6f6f6" fill-opacity="0.75" stroke="#aeaeae" stroke-width="0.4"/><circle cx="110.80" cy="412.22" r="1.35" fill="#f8f8f8" fill-opacity="0.75" stroke="#b2b2b2" stroke-width="0.4"/><circle cx="115.94" cy="397.18" r="1.35" fill="#f8f8f8" fill-opacity="0.75" stroke="#b2b2b2" stroke-width="0.4"/><circle cx="111.02" cy="408.36" r="1.35" fill="#f6f6f6" fill-opacity="0.75" stroke="#aeaeae" stroke-width="0.4"/><circle cx="131.05" cy="393.11" r="1.35" fill="#f8f8f8" fill-opacity="0.75" stroke="#b2b2b2" stroke-width="0.4"/><circle cx="110.49" cy="413.87" r="1.35" fill="#f8f8f8" fill-opacity="0.75" stroke="#b2b2b2" stroke-width="0.4"/><circle cx="120.58" cy="393.66" r="1.35" fill="#f8f8f8" fill-opacity="0.75" stroke="#b2b2b2" stroke-width="0.4"/><circle cx="117.40" cy="395.67" r="1.35" fill="#f6f6f6" fill-opacity="0.75" stroke="#aeaeae" stroke-width="0.4"/><circle cx="114.89" cy="409.60" r="1.35" fill="#f6f6f6" fill-opacity="0.75" stroke="#aeaeae" stroke-width="0.4"/><circle cx="135.94" cy="384.53" r="1.35" fill="#f6f6f6" fill-opacity="0.75" stroke="#aeaeae" stroke-width="0.4"/><circle cx="112.72" cy="403.81" r="1.35" fill="#f6f6f6" fill-opacity="0.75" stroke="#aeaeae" stroke-width="0.4"/><circle cx="113.05" cy="407.76" r="1.35" fill="#f8f8f8" fill-opacity="0.75" stroke="#b2b2b2" stroke-width="0.4"/><circle cx="113.23" cy="406.77" r="1.35" fill="#f6f6f6" fill-opacity="0.75" stroke="#aeaeae" stroke-width="0.4"/><circle cx="106.19" cy="410.31" r="1.35" fill="#f6f6f6" fill-opacity="0.75" stroke="#aeaeae" stroke-width="0.4"/><circle cx="110.40" cy="409.55" r="1.35" fill="#f8f8f8" fill-opacity="0.75" stroke="#b2b2b2" stroke-width="0.4"/><circle cx="114.70" cy="405.97" r="1.35" fill="#f6f6f6" fill-opacity="0.75" stroke="#aeaeae" stroke-width="0.4"/><circle cx="125.57" cy="394.17" r="1.35" fill="#f6f6f6" fill-opacity="0.75" stroke="#aeaeae" stroke-width="0.4"/><circle cx="125.16" cy="400.14" r="1.35" fill="#f6f6f6" fill-opacity="0.75" stroke="#aeaeae" stroke-width="0.4"/><circle cx="130.78" cy="391.57" r="1.35" fill="#f6f6f6" fill-opacity="0.75" stroke="#aeaeae" stroke-width="0.4"/><circle cx="112.26" cy="401.00" r="1.35" fill="#f8f8f8" fill-opacity="0.75" stroke="#b2b2b2" stroke-width="0.4"/><circle cx="119.89" cy="395.67" r="1.35" fill="#f6f6f6" fill-opacity="0.75" stroke="#aeaeae" stroke-width="0.4"/><circle cx="118.48" cy="395.60" r="1.35" fill="#f8f8f8" fill-opacity="0.75" stroke="#b2b2b2" stroke-width="0.4"/><circle cx="129.41" cy="384.82" r="1.35" fill="#f8f8f8" fill-opacity="0.75" stroke="#b2b2b2" stroke-width="0.4"/><circle cx="131.92" cy="384.28" r="1.35" fill="#f6f6f6" fill-opacity="0.75" stroke="#b0b0b0" stroke-width="0.4"/><circle cx="134.55" cy="386.61" r="1.35" fill="#f6f6f6" fill-opacity="0.75" stroke="#b0b0b0" stroke-width="0.4"/><circle cx="132.89" cy="384.39" r="1.35" fill="#f6f6f6" fill-opacity="0.75" stroke="#b0b0b0" stroke-width="0.4"/><circle cx="130.32" cy="385.09" r="1.35" fill="#f6f6f6" fill-opacity="0.75" stroke="#b0b0b0" stroke-width="0.4"/><circle cx="133.19" cy="385.65" r="1.35" fill="#f6f6f6" fill-opacity="0.75" stroke="#b0b0b0" stroke-width="0.4"/><circle cx="129.41" cy="386.23" r="1.35" fill="#f6f6f6" fill-opacity="0.75" stroke="#b0b0b0" stroke-width="0.4"/><circle cx="130.49" cy="384.11" r="1.35" fill="#f6f6f6" fill-opacity="0.75" stroke="#b0b0b0" stroke-width="0.4"/><circle cx="132.94" cy="385.55" r="1.35" fill="#f8f8f8" fill-opacity="0.75" stroke="#b2b2b2" stroke-width="0.4"/><circle cx="128.25" cy="384.06" r="1.35" fill="#f6f6f6" fill-opacity="0.75" stroke="#b0b0b0" stroke-width="0.4"/><circle cx="118.88" cy="393.36" r="1.35" fill="#f6f6f6" fill-opacity="0.75" stroke="#b0b0b0" stroke-width="0.4"/><circle cx="119.77" cy="392.00" r="1.35" fill="#f6f6f6" fill-opacity="0.75" stroke="#b0b0b0" stroke-width="0.4"/><circle cx="117.17" cy="391.06" r="1.35" fill="#f6f6f6" fill-opacity="0.75" stroke="#b0b0b0" stroke-width="0.4"/><circle cx="120.14" cy="393.63" r="1.35" fill="#f6f6f6" fill-opacity="0.75" stroke="#b0b0b0" stroke-width="0.4"/><circle cx="119.74" cy="393.68" r="1.35" fill="#f8f8f8" fill-opacity="0.75" stroke="#b2b2b2" stroke-width="0.4"/><circle cx="119.35" cy="391.34" r="1.35" fill="#f6f6f6" fill-opacity="0.75" stroke="#b0b0b0" stroke-width="0.4"/><circle cx="121.23" cy="398.56" r="1.35" fill="#f6f6f6" fill-opacity="0.75" stroke="#aeaeae" stroke-width="0.4"/><circle cx="120.92" cy="399.48" r="1.35" fill="#f6f6f6" fill-opacity="0.75" stroke="#aeaeae" stroke-width="0.4"/><circle cx="122.04" cy="400.49" r="1.35" fill="#f6f6f6" fill-opacity="0.75" stroke="#aeaeae" stroke-width="0.4"/><circle cx="125.95" cy="399.46" r="1.35" fill="#f6f6f6" fill-opacity="0.75" stroke="#aeaeae" stroke-width="0.4"/><circle cx="111.89" cy="417.22" r="1.35" fill="#f6f6f6" fill-opacity="0.75" stroke="#aeaeae" stroke-width="0.4"/><circle cx="114.40" cy="417.13" r="1.35" fill="#f6f6f6" fill-opacity="0.75" stroke="#aeaeae" stroke-width="0.4"/><circle cx="112.17" cy="418.50" r="1.35" fill="#f8f8f8" fill-opacity="0.75" stroke="#b2b2b2" stroke-width="0.4"/><circle cx="110.17" cy="418.44" r="1.35" fill="#f6f6f6" fill-opacity="0.75" stroke="#aeaeae" stroke-width="0.4"/><circle cx="108.30" cy="414.80" r="1.35" fill="#f6f6f6" fill-opacity="0.75" stroke="#aeaeae" stroke-width="0.4"/><circle cx="114.69" cy="414.44" r="1.35" fill="#f6f6f6" fill-opacity="0.75" stroke="#aeaeae" stroke-width="0.4"/><circle cx="107.79" cy="414.96" r="1.35" fill="#f8f8f8" fill-opacity="0.75" stroke="#b2b2b2" stroke-width="0.4"/><circle cx="113.65" cy="414.65" r="1.35" fill="#f8f8f8" fill-opacity="0.75" stroke="#b2b2b2" stroke-width="0.4"/><circle cx="113.88" cy="417.43" r="1.35" fill="#f8f8f8" fill-opacity="0.75" stroke="#b2b2b2" stroke-width="0.4"/><circle cx="113.84" cy="414.21" r="1.35" fill="#f8f8f8" fill-opacity="0.75" stroke="#b2b2b2" stroke-width="0.4"/><circle cx="101.68" cy="400.96" r="1.35" fill="#f6f6f6" fill-opacity="0.75" stroke="#aeaeae" stroke-width="0.4"/><circle cx="102.31" cy="406.38" r="1.35" fill="#f6f6f6" fill-opacity="0.75" stroke="#aeaeae" stroke-width="0.4"/><circle cx="107.14" cy="405.21" r="1.35" fill="#f6f6f6" fill-opacity="0.75" stroke="#aeaeae" stroke-width="0.4"/><circle cx="108.93" cy="404.59" r="1.35" fill="#f6f6f6" fill-opacity="0.75" stroke="#aeaeae" stroke-width="0.4"/><circle cx="105.30" cy="410.05" r="1.35" fill="#f6f6f6" fill-opacity="0.75" stroke="#aeaeae" stroke-width="0.4"/><circle cx="107.72" cy="411.84" r="1.35" fill="#f6f6f6" fill-opacity="0.75" stroke="#aeaeae" stroke-width="0.4"/><circle cx="122.80" cy="408.21" r="1.35" fill="#f6f6f6" fill-opacity="0.75" stroke="#aeaeae" stroke-width="0.4"/><circle cx="125.85" cy="409.42" r="1.35" fill="#f6f6f6" fill-opacity="0.75" stroke="#aeaeae" stroke-width="0.4"/><circle cx="127.05" cy="410.63" r="1.35" fill="#f6f6f6" fill-opacity="0.75" stroke="#aeaeae" stroke-width="0.4"/><circle cx="121.64" cy="413.05" r="1.35" fill="#f6f6f6" fill-opacity="0.75" stroke="#aeaeae" stroke-width="0.4"/><circle cx="122.22" cy="415.47" r="1.35" fill="#f6f6f6" fill-opacity="0.75" stroke="#aeaeae" stroke-width="0.4"/><circle cx="93.80" cy="413.05" r="1.35" fill="#f6f6f6" fill-opacity="0.75" stroke="#b0b0b0" stroke-width="0.4"/><circle cx="98.63" cy="413.53" r="1.35" fill="#f8f8f8" fill-opacity="0.75" stroke="#b2b2b2" stroke-width="0.4"/><circle cx="99.50" cy="418.95" r="1.35" fill="#f8f8f8" fill-opacity="0.75" stroke="#b2b2b2" stroke-width="0.4"/><circle cx="102.50" cy="418.37" r="1.35" fill="#f8f8f8" fill-opacity="0.75" stroke="#b2b2b2" stroke-width="0.4"/><circle cx="90.41" cy="420.20" r="1.35" fill="#f8f8f8" fill-opacity="0.75" stroke="#b2b2b2" stroke-width="0.4"/><circle cx="98.29" cy="414.11" r="1.35" fill="#f6f6f6" fill-opacity="0.75" stroke="#b0b0b0" stroke-width="0.4"/><circle cx="147.36" cy="388.78" r="1.35" fill="#f8f8f8" fill-opacity="0.75" stroke="#b2b2b2" stroke-width="0.4"/><circle cx="137.52" cy="390.27" r="1.35" fill="#f6f6f6" fill-opacity="0.75" stroke="#aeaeae" stroke-width="0.4"/><circle cx="138.27" cy="386.61" r="1.35" fill="#f6f6f6" fill-opacity="0.75" stroke="#aeaeae" stroke-width="0.4"/><circle cx="137.40" cy="388.98" r="1.35" fill="#f6f6f6" fill-opacity="0.75" stroke="#aeaeae" stroke-width="0.4"/><circle cx="137.70" cy="385.73" r="1.35" fill="#f6f6f6" fill-opacity="0.75" stroke="#aeaeae" stroke-width="0.4"/><circle cx="102.21" cy="464.40" r="1.35" fill="#f6f6f6" fill-opacity="0.75" stroke="#aeaeae" stroke-width="0.4"/><circle cx="97.66" cy="468.94" r="1.35" fill="#f8f8f8" fill-opacity="0.75" stroke="#b2b2b2" stroke-width="0.4"/><circle cx="99.50" cy="470.59" r="1.35" fill="#f8f8f8" fill-opacity="0.75" stroke="#b2b2b2" stroke-width="0.4"/><circle cx="104.05" cy="471.55" r="1.35" fill="#f6f6f6" fill-opacity="0.75" stroke="#b0b0b0" stroke-width="0.4"/><circle cx="107.72" cy="470.59" r="1.35" fill="#f6f6f6" fill-opacity="0.75" stroke="#b0b0b0" stroke-width="0.4"/><circle cx="110.43" cy="472.52" r="1.35" fill="#f6f6f6" fill-opacity="0.75" stroke="#b0b0b0" stroke-width="0.4"/><circle cx="105.79" cy="469.81" r="1.35" fill="#f6f6f6" fill-opacity="0.75" stroke="#b0b0b0" stroke-width="0.4"/><circle cx="93.22" cy="477.06" r="1.35" fill="#f6f6f6" fill-opacity="0.75" stroke="#b0b0b0" stroke-width="0.4"/><circle cx="92.25" cy="480.64" r="1.35" fill="#f6f6f6" fill-opacity="0.75" stroke="#b0b0b0" stroke-width="0.4"/><circle cx="91.28" cy="483.45" r="1.35" fill="#f6f6f6" fill-opacity="0.75" stroke="#b0b0b0" stroke-width="0.4"/><circle cx="94.09" cy="485.09" r="1.35" fill="#f8f8f8" fill-opacity="0.75" stroke="#b2b2b2" stroke-width="0.4"/><circle cx="93.22" cy="488.96" r="1.35" fill="#f6f6f6" fill-opacity="0.75" stroke="#b0b0b0" stroke-width="0.4"/><circle cx="94.96" cy="490.70" r="1.35" fill="#f8f8f8" fill-opacity="0.75" stroke="#b2b2b2" stroke-width="0.4"/><circle cx="97.66" cy="491.57" r="1.35" fill="#f8f8f8" fill-opacity="0.75" stroke="#b2b2b2" stroke-width="0.4"/><circle cx="98.63" cy="488.96" r="1.35" fill="#f8f8f8" fill-opacity="0.75" stroke="#b2b2b2" stroke-width="0.4"/><circle cx="104.82" cy="490.70" r="1.35" fill="#f8f8f8" fill-opacity="0.75" stroke="#b2b2b2" stroke-width="0.4"/><circle cx="111.30" cy="488.96" r="1.35" fill="#f8f8f8" fill-opacity="0.75" stroke="#b2b2b2" stroke-width="0.4"/><circle cx="80.46" cy="480.64" r="1.35" fill="#f6f6f6" fill-opacity="0.75" stroke="#b0b0b0" stroke-width="0.4"/><circle cx="79.59" cy="473.49" r="1.35" fill="#f6f6f6" fill-opacity="0.75" stroke="#b0b0b0" stroke-width="0.4"/><circle cx="121.25" cy="465.27" r="1.35" fill="#f6f6f6" fill-opacity="0.75" stroke="#aeaeae" stroke-width="0.4"/><circle cx="119.32" cy="467.10" r="1.35" fill="#f6f6f6" fill-opacity="0.75" stroke="#aeaeae" stroke-width="0.4"/><circle cx="132.18" cy="465.27" r="1.35" fill="#f8f8f8" fill-opacity="0.75" stroke="#b2b2b2" stroke-width="0.4"/><circle cx="130.34" cy="469.81" r="1.35" fill="#f8f8f8" fill-opacity="0.75" stroke="#b2b2b2" stroke-width="0.4"/><circle cx="121.81" cy="459.91" r="1.35" fill="#f6f6f6" fill-opacity="0.75" stroke="#aeaeae" stroke-width="0.4"/><circle cx="120.31" cy="460.41" r="1.35" fill="#f6f6f6" fill-opacity="0.75" stroke="#aeaeae" stroke-width="0.4"/><circle cx="123.70" cy="461.15" r="1.35" fill="#f6f6f6" fill-opacity="0.75" stroke="#aeaeae" stroke-width="0.4"/><circle cx="117.35" cy="458.51" r="1.35" fill="#f6f6f6" fill-opacity="0.75" stroke="#aeaeae" stroke-width="0.4"/><circle cx="119.60" cy="461.12" r="1.35" fill="#f6f6f6" fill-opacity="0.75" stroke="#aeaeae" stroke-width="0.4"/><circle cx="116.77" cy="458.52" r="1.35" fill="#f6f6f6" fill-opacity="0.75" stroke="#aeaeae" stroke-width="0.4"/><circle cx="131.67" cy="483.57" r="1.35" fill="#f6f6f6" fill-opacity="0.75" stroke="#b0b0b0" stroke-width="0.4"/><circle cx="131.20" cy="487.80" r="1.35" fill="#f8f8f8" fill-opacity="0.75" stroke="#b2b2b2" stroke-width="0.4"/><circle cx="134.85" cy="479.44" r="1.35" fill="#f6f6f6" fill-opacity="0.75" stroke="#b0b0b0" stroke-width="0.4"/><circle cx="135.68" cy="486.01" r="1.35" fill="#f6f6f6" fill-opacity="0.75" stroke="#b0b0b0" stroke-width="0.4"/><circle cx="120.95" cy="488.76" r="1.35" fill="#f6f6f6" fill-opacity="0.75" stroke="#b0b0b0" stroke-width="0.4"/><circle cx="122.68" cy="486.88" r="1.35" fill="#f6f6f6" fill-opacity="0.75" stroke="#b0b0b0" stroke-width="0.4"/><circle cx="129.99" cy="485.88" r="1.35" fill="#f6f6f6" fill-opacity="0.75" stroke="#b0b0b0" stroke-width="0.4"/><circle cx="118.59" cy="481.80" r="1.35" fill="#f6f6f6" fill-opacity="0.75" stroke="#b0b0b0" stroke-width="0.4"/><circle cx="120.30" cy="487.82" r="1.35" fill="#f6f6f6" fill-opacity="0.75" stroke="#b0b0b0" stroke-width="0.4"/><circle cx="134.01" cy="482.97" r="1.35" fill="#f6f6f6" fill-opacity="0.75" stroke="#b0b0b0" stroke-width="0.4"/><circle cx="126.61" cy="488.08" r="1.35" fill="#f6f6f6" fill-opacity="0.75" stroke="#b0b0b0" stroke-width="0.4"/><circle cx="128.26" cy="484.72" r="1.35" fill="#f6f6f6" fill-opacity="0.75" stroke="#b0b0b0" stroke-width="0.4"/><circle cx="123.25" cy="478.34" r="1.35" fill="#f6f6f6" fill-opacity="0.75" stroke="#b0b0b0" stroke-width="0.4"/><circle cx="124.80" cy="484.95" r="1.35" fill="#f6f6f6" fill-opacity="0.75" stroke="#b0b0b0" stroke-width="0.4"/><circle cx="129.87" cy="487.81" r="1.35" fill="#f6f6f6" fill-opacity="0.75" stroke="#b0b0b0" stroke-width="0.4"/><circle cx="131.94" cy="480.85" r="1.35" fill="#f8f8f8" fill-opacity="0.75" stroke="#b2b2b2" stroke-width="0.4"/><circle cx="118.28" cy="487.40" r="1.35" fill="#f6f6f6" fill-opacity="0.75" stroke="#b0b0b0" stroke-width="0.4"/><circle cx="127.59" cy="484.33" r="1.35" fill="#f6f6f6" fill-opacity="0.75" stroke="#b0b0b0" stroke-width="0.4"/><circle cx="122.02" cy="483.84" r="1.35" fill="#f6f6f6" fill-opacity="0.75" stroke="#b0b0b0" stroke-width="0.4"/><circle cx="130.94" cy="482.03" r="1.35" fill="#f6f6f6" fill-opacity="0.75" stroke="#b0b0b0" stroke-width="0.4"/><circle cx="137.67" cy="466.20" r="1.35" fill="#f6f6f6" fill-opacity="0.75" stroke="#b0b0b0" stroke-width="0.4"/><circle cx="136.40" cy="463.32" r="1.35" fill="#f6f6f6" fill-opacity="0.75" stroke="#b0b0b0" stroke-width="0.4"/><circle cx="136.10" cy="467.16" r="1.35" fill="#f6f6f6" fill-opacity="0.75" stroke="#b0b0b0" stroke-width="0.4"/><circle cx="136.33" cy="465.84" r="1.35" fill="#f6f6f6" fill-opacity="0.75" stroke="#b0b0b0" stroke-width="0.4"/><circle cx="136.99" cy="468.56" r="1.35" fill="#f6f6f6" fill-opacity="0.75" stroke="#b0b0b0" stroke-width="0.4"/><circle cx="138.46" cy="476.19" r="1.35" fill="#f6f6f6" fill-opacity="0.75" stroke="#aeaeae" stroke-width="0.4"/><circle cx="136.72" cy="480.64" r="1.35" fill="#f6f6f6" fill-opacity="0.75" stroke="#b0b0b0" stroke-width="0.4"/><circle cx="144.84" cy="479.29" r="1.35" fill="#f6f6f6" fill-opacity="0.75" stroke="#b0b0b0" stroke-width="0.4"/><circle cx="161.18" cy="481.22" r="1.35" fill="#f8f8f8" fill-opacity="0.75" stroke="#b2b2b2" stroke-width="0.4"/><circle cx="180.23" cy="475.23" r="1.35" fill="#f6f6f6" fill-opacity="0.75" stroke="#aeaeae" stroke-width="0.4"/><circle cx="179.26" cy="481.61" r="1.35" fill="#f6f6f6" fill-opacity="0.75" stroke="#b0b0b0" stroke-width="0.4"/><circle cx="181.97" cy="483.45" r="1.35" fill="#f6f6f6" fill-opacity="0.75" stroke="#b0b0b0" stroke-width="0.4"/><circle cx="184.68" cy="484.32" r="1.35" fill="#f6f6f6" fill-opacity="0.75" stroke="#b0b0b0" stroke-width="0.4"/><circle cx="188.35" cy="484.32" r="1.35" fill="#f6f6f6" fill-opacity="0.75" stroke="#b0b0b0" stroke-width="0.4"/><circle cx="168.43" cy="485.57" r="1.35" fill="#f6f6f6" fill-opacity="0.75" stroke="#b0b0b0" stroke-width="0.4"/><circle cx="172.01" cy="485.57" r="1.35" fill="#f6f6f6" fill-opacity="0.75" stroke="#b0b0b0" stroke-width="0.4"/><circle cx="171.14" cy="490.31" r="1.35" fill="#f6f6f6" fill-opacity="0.75" stroke="#aeaeae" stroke-width="0.4"/><circle cx="172.88" cy="490.70" r="1.35" fill="#f6f6f6" fill-opacity="0.75" stroke="#aeaeae" stroke-width="0.4"/><circle cx="192.80" cy="488.96" r="1.35" fill="#f8f8f8" fill-opacity="0.75" stroke="#b2b2b2" stroke-width="0.4"/><circle cx="168.43" cy="434.81" r="1.35" fill="#f6f6f6" fill-opacity="0.75" stroke="#aeaeae" stroke-width="0.4"/><circle cx="169.30" cy="437.51" r="1.35" fill="#f6f6f6" fill-opacity="0.75" stroke="#aeaeae" stroke-width="0.4"/><circle cx="172.01" cy="430.26" r="1.35" fill="#f6f6f6" fill-opacity="0.75" stroke="#aeaeae" stroke-width="0.4"/><circle cx="174.72" cy="432.87" r="1.35" fill="#f6f6f6" fill-opacity="0.75" stroke="#aeaeae" stroke-width="0.4"/><circle cx="175.97" cy="434.23" r="1.35" fill="#f6f6f6" fill-opacity="0.75" stroke="#aeaeae" stroke-width="0.4"/><circle cx="171.14" cy="441.96" r="1.35" fill="#f6f6f6" fill-opacity="0.75" stroke="#aeaeae" stroke-width="0.4"/><circle cx="168.43" cy="438.38" r="1.35" fill="#f6f6f6" fill-opacity="0.75" stroke="#aeaeae" stroke-width="0.4"/><circle cx="164.76" cy="438.38" r="1.35" fill="#f6f6f6" fill-opacity="0.75" stroke="#aeaeae" stroke-width="0.4"/><circle cx="159.35" cy="438.00" r="1.35" fill="#f6f6f6" fill-opacity="0.75" stroke="#aeaeae" stroke-width="0.4"/><circle cx="175.68" cy="445.64" r="1.35" fill="#f8f8f8" fill-opacity="0.75" stroke="#b2b2b2" stroke-width="0.4"/><circle cx="180.23" cy="441.96" r="1.35" fill="#f8f8f8" fill-opacity="0.75" stroke="#b2b2b2" stroke-width="0.4"/><circle cx="181.97" cy="443.80" r="1.35" fill="#f8f8f8" fill-opacity="0.75" stroke="#b2b2b2" stroke-width="0.4"/><circle cx="183.80" cy="441.09" r="1.35" fill="#f8f8f8" fill-opacity="0.75" stroke="#b2b2b2" stroke-width="0.4"/><circle cx="171.14" cy="451.05" r="1.35" fill="#f8f8f8" fill-opacity="0.75" stroke="#b2b2b2" stroke-width="0.4"/><circle cx="190.19" cy="431.90" r="1.35" fill="#f8f8f8" fill-opacity="0.75" stroke="#b2b2b2" stroke-width="0.4"/><circle cx="192.80" cy="442.93" r="1.35" fill="#f8f8f8" fill-opacity="0.75" stroke="#b2b2b2" stroke-width="0.4"/><circle cx="136.72" cy="452.70" r="1.35" fill="#f4f4f4" fill-opacity="0.75" stroke="#adadad" stroke-width="0.4"/><circle cx="136.72" cy="455.60" r="1.35" fill="#f4f4f4" fill-opacity="0.75" stroke="#adadad" stroke-width="0.4"/><circle cx="135.76" cy="454.15" r="1.35" fill="#f6f6f6" fill-opacity="0.75" stroke="#b0b0b0" stroke-width="0.4"/><circle cx="173.78" cy="436.23" r="1.35" fill="#f6f6f6" fill-opacity="0.75" stroke="#aeaeae" stroke-width="0.4"/><circle cx="168.14" cy="434.96" r="1.35" fill="#f6f6f6" fill-opacity="0.75" stroke="#aeaeae" stroke-width="0.4"/><circle cx="170.73" cy="432.52" r="1.35" fill="#f6f6f6" fill-opacity="0.75" stroke="#aeaeae" stroke-width="0.4"/><circle cx="167.97" cy="431.20" r="1.35" fill="#f6f6f6" fill-opacity="0.75" stroke="#aeaeae" stroke-width="0.4"/><circle cx="166.91" cy="429.03" r="1.35" fill="#f6f6f6" fill-opacity="0.75" stroke="#aeaeae" stroke-width="0.4"/><circle cx="169.63" cy="434.06" r="1.35" fill="#f6f6f6" fill-opacity="0.75" stroke="#aeaeae" stroke-width="0.4"/><circle cx="233.69" cy="420.30" r="1.35" fill="#f6f6f6" fill-opacity="0.75" stroke="#b0b0b0" stroke-width="0.4"/><circle cx="212.81" cy="423.88" r="1.35" fill="#f6f6f6" fill-opacity="0.75" stroke="#aeaeae" stroke-width="0.4"/><circle cx="213.68" cy="427.46" r="1.35" fill="#f6f6f6" fill-opacity="0.75" stroke="#aeaeae" stroke-width="0.4"/><circle cx="209.23" cy="431.13" r="1.35" fill="#f8f8f8" fill-opacity="0.75" stroke="#b2b2b2" stroke-width="0.4"/><circle cx="204.69" cy="431.90" r="1.35" fill="#f8f8f8" fill-opacity="0.75" stroke="#b2b2b2" stroke-width="0.4"/><circle cx="210.97" cy="434.81" r="1.35" fill="#f6f6f6" fill-opacity="0.75" stroke="#aeaeae" stroke-width="0.4"/><circle cx="236.30" cy="429.29" r="1.35" fill="#f8f8f8" fill-opacity="0.75" stroke="#b2b2b2" stroke-width="0.4"/><circle cx="226.44" cy="439.25" r="1.35" fill="#f8f8f8" fill-opacity="0.75" stroke="#b2b2b2" stroke-width="0.4"/><circle cx="230.02" cy="445.64" r="1.35" fill="#f6f6f6" fill-opacity="0.75" stroke="#aeaeae" stroke-width="0.4"/><circle cx="220.83" cy="446.41" r="1.35" fill="#f6f6f6" fill-opacity="0.75" stroke="#aeaeae" stroke-width="0.4"/><circle cx="218.22" cy="453.76" r="1.35" fill="#f6f6f6" fill-opacity="0.75" stroke="#aeaeae" stroke-width="0.4"/><circle cx="212.81" cy="453.76" r="1.35" fill="#f6f6f6" fill-opacity="0.75" stroke="#aeaeae" stroke-width="0.4"/><circle cx="204.69" cy="455.60" r="1.35" fill="#f6f6f6" fill-opacity="0.75" stroke="#aeaeae" stroke-width="0.4"/><circle cx="196.47" cy="446.41" r="1.35" fill="#f8f8f8" fill-opacity="0.75" stroke="#b2b2b2" stroke-width="0.4"/><circle cx="199.18" cy="452.02" r="1.35" fill="#f8f8f8" fill-opacity="0.75" stroke="#b2b2b2" stroke-width="0.4"/><circle cx="195.60" cy="437.51" r="1.35" fill="#f8f8f8" fill-opacity="0.75" stroke="#b2b2b2" stroke-width="0.4"/><circle cx="193.76" cy="443.51" r="1.35" fill="#f8f8f8" fill-opacity="0.75" stroke="#b2b2b2" stroke-width="0.4"/><circle cx="217.35" cy="406.09" r="1.35" fill="#f6f6f6" fill-opacity="0.75" stroke="#b0b0b0" stroke-width="0.4"/><circle cx="220.64" cy="407.73" r="1.35" fill="#f6f6f6" fill-opacity="0.75" stroke="#b0b0b0" stroke-width="0.4"/><circle cx="225.47" cy="401.93" r="1.35" fill="#f6f6f6" fill-opacity="0.75" stroke="#b0b0b0" stroke-width="0.4"/><circle cx="226.05" cy="403.86" r="1.35" fill="#f6f6f6" fill-opacity="0.75" stroke="#b0b0b0" stroke-width="0.4"/><circle cx="229.15" cy="406.09" r="1.35" fill="#f6f6f6" fill-opacity="0.75" stroke="#b0b0b0" stroke-width="0.4"/><circle cx="232.72" cy="404.25" r="1.35" fill="#f6f6f6" fill-opacity="0.75" stroke="#b0b0b0" stroke-width="0.4"/><circle cx="214.26" cy="414.50" r="1.35" fill="#f6f6f6" fill-opacity="0.75" stroke="#b0b0b0" stroke-width="0.4"/><circle cx="194.73" cy="389.74" r="1.35" fill="#f8f8f8" fill-opacity="0.75" stroke="#b2b2b2" stroke-width="0.4"/><circle cx="198.40" cy="485.77" r="1.35" fill="#f6f6f6" fill-opacity="0.75" stroke="#b0b0b0" stroke-width="0.4"/><circle cx="205.94" cy="486.06" r="1.35" fill="#f6f6f6" fill-opacity="0.75" stroke="#b0b0b0" stroke-width="0.4"/><circle cx="212.52" cy="489.93" r="1.35" fill="#f8f8f8" fill-opacity="0.75" stroke="#b2b2b2" stroke-width="0.4"/><circle cx="210.58" cy="492.83" r="1.35" fill="#f8f8f8" fill-opacity="0.75" stroke="#b2b2b2" stroke-width="0.4"/><circle cx="217.16" cy="487.02" r="1.35" fill="#f6f6f6" fill-opacity="0.75" stroke="#b0b0b0" stroke-width="0.4"/><circle cx="193.76" cy="487.99" r="1.35" fill="#f8f8f8" fill-opacity="0.75" stroke="#b2b2b2" stroke-width="0.4"/><circle cx="234.37" cy="482.67" r="1.35" fill="#f6f6f6" fill-opacity="0.75" stroke="#b0b0b0" stroke-width="0.4"/><circle cx="237.27" cy="483.64" r="1.35" fill="#f6f6f6" fill-opacity="0.75" stroke="#b0b0b0" stroke-width="0.4"/><circle cx="239.15" cy="446.22" r="1.35" fill="#f6f6f6" fill-opacity="0.75" stroke="#aeaeae" stroke-width="0.4"/><circle cx="238.20" cy="448.10" r="1.35" fill="#f6f6f6" fill-opacity="0.75" stroke="#aeaeae" stroke-width="0.4"/><circle cx="237.99" cy="444.56" r="1.35" fill="#f6f6f6" fill-opacity="0.75" stroke="#aeaeae" stroke-width="0.4"/><circle cx="240.48" cy="447.09" r="1.35" fill="#f6f6f6" fill-opacity="0.75" stroke="#aeaeae" stroke-width="0.4"/><circle cx="240.17" cy="449.53" r="1.35" fill="#f6f6f6" fill-opacity="0.75" stroke="#aeaeae" stroke-width="0.4"/><circle cx="239.09" cy="446.01" r="1.35" fill="#f6f6f6" fill-opacity="0.75" stroke="#aeaeae" stroke-width="0.4"/><circle cx="237.52" cy="449.24" r="1.35" fill="#f6f6f6" fill-opacity="0.75" stroke="#aeaeae" stroke-width="0.4"/><circle cx="239.97" cy="447.83" r="1.35" fill="#f6f6f6" fill-opacity="0.75" stroke="#aeaeae" stroke-width="0.4"/><circle cx="207.31" cy="459.76" r="1.35" fill="#f6f6f6" fill-opacity="0.75" stroke="#aeaeae" stroke-width="0.4"/><circle cx="205.55" cy="458.06" r="1.35" fill="#f6f6f6" fill-opacity="0.75" stroke="#aeaeae" stroke-width="0.4"/><circle cx="207.21" cy="458.13" r="1.35" fill="#f6f6f6" fill-opacity="0.75" stroke="#aeaeae" stroke-width="0.4"/><circle cx="95.27" cy="441.53" r="1.35" fill="#f8f8f8" fill-opacity="0.75" stroke="#b2b2b2" stroke-width="0.4"/><circle cx="96.53" cy="438.48" r="1.35" fill="#f8f8f8" fill-opacity="0.75" stroke="#b2b2b2" stroke-width="0.4"/><circle cx="101.36" cy="442.38" r="1.35" fill="#f6f6f6" fill-opacity="0.75" stroke="#aeaeae" stroke-width="0.4"/><circle cx="103.01" cy="438.26" r="1.35" fill="#f6f6f6" fill-opacity="0.75" stroke="#aeaeae" stroke-width="0.4"/><circle cx="95.77" cy="442.19" r="1.35" fill="#f8f8f8" fill-opacity="0.75" stroke="#b2b2b2" stroke-width="0.4"/><circle cx="102.72" cy="442.97" r="1.35" fill="#f8f8f8" fill-opacity="0.75" stroke="#b2b2b2" stroke-width="0.4"/><circle cx="98.78" cy="440.54" r="1.35" fill="#f6f6f6" fill-opacity="0.75" stroke="#aeaeae" stroke-width="0.4"/><circle cx="95.93" cy="442.44" r="1.35" fill="#f8f8f8" fill-opacity="0.75" stroke="#b2b2b2" stroke-width="0.4"/><circle cx="200.32" cy="436.38" r="1.35" fill="#f8f8f8" fill-opacity="0.75" stroke="#b2b2b2" stroke-width="0.4"/><circle cx="212.44" cy="436.82" r="1.35" fill="#f6f6f6" fill-opacity="0.75" stroke="#aeaeae" stroke-width="0.4"/><circle cx="220.60" cy="456.63" r="1.35" fill="#f6f6f6" fill-opacity="0.75" stroke="#aeaeae" stroke-width="0.4"/><circle cx="214.40" cy="440.27" r="1.35" fill="#f6f6f6" fill-opacity="0.75" stroke="#aeaeae" stroke-width="0.4"/><circle cx="213.46" cy="450.42" r="1.35" fill="#f6f6f6" fill-opacity="0.75" stroke="#aeaeae" stroke-width="0.4"/><circle cx="221.95" cy="440.99" r="1.35" fill="#f8f8f8" fill-opacity="0.75" stroke="#b2b2b2" stroke-width="0.4"/><circle cx="196.24" cy="446.11" r="1.35" fill="#f8f8f8" fill-opacity="0.75" stroke="#b2b2b2" stroke-width="0.4"/><circle cx="201.31" cy="439.55" r="1.35" fill="#f6f6f6" fill-opacity="0.75" stroke="#aeaeae" stroke-width="0.4"/><circle cx="199.64" cy="437.69" r="1.35" fill="#f6f6f6" fill-opacity="0.75" stroke="#aeaeae" stroke-width="0.4"/><circle cx="199.33" cy="443.24" r="1.35" fill="#f6f6f6" fill-opacity="0.75" stroke="#aeaeae" stroke-width="0.4"/><circle cx="183.46" cy="442.35" r="1.35" fill="#f8f8f8" fill-opacity="0.75" stroke="#b2b2b2" stroke-width="0.4"/><circle cx="186.62" cy="437.61" r="1.35" fill="#f8f8f8" fill-opacity="0.75" stroke="#b2b2b2" stroke-width="0.4"/><circle cx="191.83" cy="436.43" r="1.35" fill="#f8f8f8" fill-opacity="0.75" stroke="#b2b2b2" stroke-width="0.4"/><circle cx="187.95" cy="434.81" r="1.35" fill="#f8f8f8" fill-opacity="0.75" stroke="#b2b2b2" stroke-width="0.4"/><circle cx="185.53" cy="438.30" r="1.35" fill="#f8f8f8" fill-opacity="0.75" stroke="#b2b2b2" stroke-width="0.4"/></g>
<path d="M62.05,511.20L60.04,510.58L58.04,509.97L55.81,509.19L53.35,508.24L50.89,507.29L48.30,506.11L45.70,504.93L43.26,503.69L40.99,502.40L38.72,501.11L36.66,499.73L34.60,498.36L32.60,496.96L30.65,495.52L28.71,494.08L26.88,492.59L25.06,491.10L23.33,489.60L21.68,488.07L20.03,486.54L18.62,484.97L17.20,483.41L15.85,481.84L14.58,480.26L13.31,478.68L12.26,477.08L11.20,475.49L10.24,473.89L9.37,472.29L8.51,470.69L7.86,469.09L7.20,467.49L6.65,465.90L6.19,464.30L5.73,462.70L5.34,461.10L4.95,459.50L4.62,457.90L4.35,456.30L4.08,454.70L3.92,453.10L3.76,451.50L3.64,449.90L3.57,448.30L3.50,446.70L3.57,445.10L3.64,443.50L3.76,441.90L3.92,440.30L4.08,438.70L4.35,437.10L4.62,435.50L4.95,433.90L5.34,432.30L5.73,430.70L6.19,429.10L6.65,427.50L7.20,425.91L7.86,424.31L8.51,422.71L9.37,421.11L10.24,419.51L11.20,417.91L12.26,416.32L13.31,414.72L14.58,413.14L15.85,411.56L17.20,409.99L18.62,408.43L20.03,406.86L21.68,405.33L23.33,403.80L25.06,402.30L26.88,400.81L28.71,399.32L30.65,397.88L32.60,396.44L34.60,395.04L36.66,393.67L38.72,392.29L40.99,391.00L43.26,389.71L45.70,388.47L48.30,387.29L50.89,386.11L53.35,385.16L55.81,384.21L58.04,383.43L60.04,382.82L62.05,382.20L195.25,382.20L197.26,382.82L199.26,383.43L201.49,384.21L203.95,385.16L206.41,386.11L209.00,387.29L211.60,388.47L214.04,389.71L216.31,391.00L218.58,392.29L220.64,393.67L222.70,395.04L224.70,396.44L226.65,397.88L228.59,399.32L230.42,400.81L232.24,402.30L233.97,403.80L235.62,405.33L237.27,406.86L238.68,408.43L240.10,409.99L241.45,411.56L242.72,413.14L243.99,414.72L245.04,416.32L246.10,417.91L247.06,419.51L247.93,421.11L248.79,422.71L249.44,424.31L250.10,425.91L250.65,427.50L251.11,429.10L251.57,430.70L251.96,432.30L252.35,433.90L252.68,435.50L252.95,437.10L253.22,438.70L253.38,440.30L253.54,441.90L253.66,443.50L253.73,445.10L253.80,446.70L253.73,448.30L253.66,449.90L253.54,451.50L253.38,453.10L253.22,454.70L252.95,456.30L252.68,457.90L252.35,459.50L251.96,461.10L251.57,462.70L251.11,464.30L250.65,465.90L250.10,467.49L249.44,469.09L248.79,470.69L247.93,472.29L247.06,473.89L246.10,475.49L245.04,477.08L243.99,478.68L242.72,480.26L241.45,481.84L240.10,483.41L238.68,484.97L237.27,486.54L235.62,488.07L233.97,489.60L232.24,491.10L230.42,492.59L228.59,494.08L226.65,495.52L224.70,496.96L222.70,498.36L220.64,499.73L218.58,501.11L216.31,502.40L214.04,503.69L211.60,504.93L209.00,506.11L206.41,507.29L203.95,508.24L201.49,509.19L199.26,509.97L197.26,510.58L195.25,511.20Z" fill="none" stroke="#333" stroke-width="0.9"/>
<linearGradient id="gb" x1="0" y1="0" x2="0" y2="1">
<stop offset="0" stop-color="#7a3f5f"/><stop offset="0.1" stop-color="#c04a5c"/><stop offset="0.2" stop-color="#dd8274"/><stop offset="0.3" stop-color="#f5b89e"/><stop offset="0.4" stop-color="#fce2d3"/><stop offset="0.5" stop-color="#f8f8f8"/><stop offset="0.6" stop-color="#dbebf3"/><stop offset="0.7" stop-color="#aad2e5"/><stop offset="0.8" stop-color="#6cabd0"/><stop offset="0.9" stop-color="#4f84b8"/><stop offset="1" stop-color="#3c5c88"/></linearGradient>
<rect x="268.2" y="211.6" width="6.400000000000034" height="133.70000000000002" fill="url(#gb)" stroke="#444" stroke-width="0.5"/><line x1="274.6" y1="211.60" x2="276.40000000000003" y2="211.60" stroke="#8c8c8c" stroke-width="0.8"/><text x="280.5" y="214.912" font-size="9.2" text-anchor="start" textLength="5.0" lengthAdjust="spacingAndGlyphs" >3</text><line x1="274.6" y1="233.88" x2="276.40000000000003" y2="233.88" stroke="#8c8c8c" stroke-width="0.8"/><text x="280.5" y="237.19533333333334" font-size="9.2" text-anchor="start" textLength="5.0" lengthAdjust="spacingAndGlyphs" >2</text><line x1="274.6" y1="256.17" x2="276.40000000000003" y2="256.17" stroke="#8c8c8c" stroke-width="0.8"/><text x="280.5" y="259.4786666666667" font-size="9.2" text-anchor="start" textLength="5.0" lengthAdjust="spacingAndGlyphs" >1</text><line x1="274.6" y1="278.45" x2="276.40000000000003" y2="278.45" stroke="#8c8c8c" stroke-width="0.8"/><text x="280.5" y="281.762" font-size="9.2" text-anchor="start" textLength="5.0" lengthAdjust="spacingAndGlyphs" >0</text><line x1="274.6" y1="300.73" x2="276.40000000000003" y2="300.73" stroke="#8c8c8c" stroke-width="0.8"/><text x="280.5" y="304.04533333333336" font-size="9.2" text-anchor="start" textLength="12.5" lengthAdjust="spacingAndGlyphs" >−1</text><line x1="274.6" y1="323.02" x2="276.40000000000003" y2="323.02" stroke="#8c8c8c" stroke-width="0.8"/><text x="280.5" y="326.32866666666666" font-size="9.2" text-anchor="start" textLength="12.5" lengthAdjust="spacingAndGlyphs" >−2</text><line x1="274.6" y1="345.30" x2="276.40000000000003" y2="345.30" stroke="#8c8c8c" stroke-width="0.8"/><text x="280.5" y="348.612" font-size="9.2" text-anchor="start" textLength="12.5" lengthAdjust="spacingAndGlyphs" >−3</text>
<text x="0" y="0" font-size="10.9" text-anchor="middle" textLength="120.1" lengthAdjust="spacingAndGlyphs" transform="translate(304.7,278.8) rotate(-90)" >Density residuals (kg/m<tspan font-size="7" dy="-3.6">3</tspan><tspan dy="3.6">)</tspan></text>
<linearGradient id="gc" x1="0" y1="0" x2="0" y2="1">
<stop offset="0" stop-color="#7a3f5f"/><stop offset="0.1" stop-color="#c04a5c"/><stop offset="0.2" stop-color="#dd8274"/><stop offset="0.3" stop-color="#f5b89e"/><stop offset="0.4" stop-color="#fce2d3"/><stop offset="0.5" stop-color="#f8f8f8"/><stop offset="0.6" stop-color="#dbebf3"/><stop offset="0.7" stop-color="#aad2e5"/><stop offset="0.8" stop-color="#6cabd0"/><stop offset="0.9" stop-color="#4f84b8"/><stop offset="1" stop-color="#3c5c88"/></linearGradient>
<rect x="269.3" y="381.3" width="6.199999999999989" height="131.59999999999997" fill="url(#gc)" stroke="#444" stroke-width="0.5"/><line x1="275.5" y1="381.30" x2="277.3" y2="381.30" stroke="#8c8c8c" stroke-width="0.8"/><text x="281.7" y="383.964" font-size="7.4" text-anchor="start" textLength="4.2" lengthAdjust="spacingAndGlyphs" >3</text><line x1="275.5" y1="403.23" x2="277.3" y2="403.23" stroke="#8c8c8c" stroke-width="0.8"/><text x="281.7" y="405.89733333333334" font-size="7.4" text-anchor="start" textLength="4.2" lengthAdjust="spacingAndGlyphs" >2</text><line x1="275.5" y1="425.17" x2="277.3" y2="425.17" stroke="#8c8c8c" stroke-width="0.8"/><text x="281.7" y="427.8306666666667" font-size="7.4" text-anchor="start" textLength="4.2" lengthAdjust="spacingAndGlyphs" >1</text><line x1="275.5" y1="447.10" x2="277.3" y2="447.10" stroke="#8c8c8c" stroke-width="0.8"/><text x="281.7" y="449.764" font-size="7.4" text-anchor="start" textLength="4.2" lengthAdjust="spacingAndGlyphs" >0</text><line x1="275.5" y1="469.03" x2="277.3" y2="469.03" stroke="#8c8c8c" stroke-width="0.8"/><text x="281.7" y="471.6973333333333" font-size="7.4" text-anchor="start" textLength="10.4" lengthAdjust="spacingAndGlyphs" >−1</text><line x1="275.5" y1="490.97" x2="277.3" y2="490.97" stroke="#8c8c8c" stroke-width="0.8"/><text x="281.7" y="493.6306666666666" font-size="7.4" text-anchor="start" textLength="10.4" lengthAdjust="spacingAndGlyphs" >−2</text><line x1="275.5" y1="512.90" x2="277.3" y2="512.90" stroke="#8c8c8c" stroke-width="0.8"/><text x="281.7" y="515.564" font-size="7.4" text-anchor="start" textLength="10.4" lengthAdjust="spacingAndGlyphs" >−3</text>
<text x="0" y="0" font-size="10.4" text-anchor="middle" textLength="125.4" lengthAdjust="spacingAndGlyphs" transform="translate(303.0,446.9) rotate(-90)" >Density residuals anomaly</text>
<text x="0" y="0" font-size="9.6" text-anchor="middle" textLength="34.8" lengthAdjust="spacingAndGlyphs" transform="translate(314.6,445.4) rotate(-90)" >(kg/m<tspan font-size="6.6" dy="-3.4">3</tspan><tspan dy="3.4">)</tspan></text>
<text x="14.3" y="529.2" font-size="11.2" text-anchor="start" textLength="16" lengthAdjust="spacing" >(d)</text>
<text x="150" y="542" font-size="8.7" text-anchor="middle" textLength="65.5" lengthAdjust="spacingAndGlyphs" >ECHAM5/MPI-OM</text>
<rect x="43.6" y="545" width="213.1" height="170" fill="none" stroke="#8c8c8c" stroke-width="1.0"/>
<line x1="41.800000000000004" y1="698.05" x2="43.6" y2="698.05" stroke="#8c8c8c" stroke-width="0.8"/>
<text x="40.1" y="700.55" font-size="7.0" text-anchor="end" textLength="9.6" lengthAdjust="spacingAndGlyphs" >−4</text>
<line x1="41.800000000000004" y1="664.15" x2="43.6" y2="664.15" stroke="#8c8c8c" stroke-width="0.8"/>
<text x="40.1" y="666.65" font-size="7.0" text-anchor="end" textLength="9.6" lengthAdjust="spacingAndGlyphs" >−2</text>
<line x1="41.800000000000004" y1="630.25" x2="43.6" y2="630.25" stroke="#8c8c8c" stroke-width="0.8"/>
<text x="40.1" y="632.75" font-size="7.0" text-anchor="end" textLength="4.4" lengthAdjust="spacingAndGlyphs" >0</text>
<line x1="41.800000000000004" y1="596.35" x2="43.6" y2="596.35" stroke="#8c8c8c" stroke-width="0.8"/>
<text x="40.1" y="598.85" font-size="7.0" text-anchor="end" textLength="4.4" lengthAdjust="spacingAndGlyphs" >2</text>
<line x1="41.800000000000004" y1="562.45" x2="43.6" y2="562.45" stroke="#8c8c8c" stroke-width="0.8"/>
<text x="40.1" y="564.95" font-size="7.0" text-anchor="end" textLength="4.4" lengthAdjust="spacingAndGlyphs" >4</text>
<path d="M69.40,626.90L71.40,627.50L74.40,628.30L78.40,629.20L82.40,630.00L85.90,630.60L82.40,631.20L78.40,632.00L75.40,633.00L72.90,634.00L71.40,635.50L70.70,637.50L70.20,640.00L69.40,642.00L69.40,642.00L68.60,640.00L68.10,637.50L67.40,635.50L65.90,634.00L63.40,633.00L60.40,632.00L56.40,631.20L52.90,630.60L56.40,630.00L60.40,629.20L64.40,628.30L67.40,627.50L69.40,626.90Z" fill="#8dd3c7" stroke="#555" stroke-width="0.45" stroke-linejoin="round"/>
<line x1="69.4" y1="585" x2="69.4" y2="642" stroke="#6a6a6a" stroke-width="0.8"/>
<rect x="68.30000000000001" y="630.6" width="2.2" height="3.199999999999932" fill="#555"/>
<circle cx="69.4" cy="628.5" r="1.7" fill="#0000ff"/>
<circle cx="69.4" cy="636.9" r="1.7" fill="#008000"/>
<line x1="56.9" y1="617.9" x2="81.9" y2="617.9" stroke="#ff3b1f" stroke-width="1.1" stroke-dasharray="2.8,1.5" stroke-dashoffset="0"/>
<line x1="56.9" y1="617.9" x2="81.9" y2="617.9" stroke="#ffa500" stroke-width="1.1" stroke-opacity="0.7" stroke-dasharray="2.8,1.5" stroke-dashoffset="0.4"/>
<line x1="56.9" y1="642.25" x2="81.9" y2="642.25" stroke="#ff3b1f" stroke-width="1.1" stroke-dasharray="2.8,1.5" stroke-dashoffset="0"/>
<line x1="56.9" y1="642.25" x2="81.9" y2="642.25" stroke="#ffa500" stroke-width="1.1" stroke-opacity="0.7" stroke-dasharray="2.8,1.5" stroke-dashoffset="0.4"/>
<path d="M109.75,625.60L111.75,626.50L113.75,627.50L116.75,628.50L120.75,629.50L126.00,630.25L120.75,631.00L116.75,632.00L114.75,633.00L112.75,634.50L110.75,636.00L109.75,637.00L109.75,637.00L108.75,636.00L106.75,634.50L104.75,633.00L102.75,632.00L98.75,631.00L93.50,630.25L98.75,629.50L102.75,628.50L105.75,627.50L107.75,626.50L109.75,625.60Z" fill="#ffffb3" stroke="#555" stroke-width="0.45" stroke-linejoin="round"/>
<line x1="109.75" y1="607.5" x2="109.75" y2="642.5" stroke="#9a9a9a" stroke-width="1.1"/>
<rect x="108.65" y="630" width="2.2" height="3" fill="#555"/>
<circle cx="109.75" cy="627.25" r="1.7" fill="#0000ff"/>
<circle cx="109.75" cy="635.4" r="1.7" fill="#008000"/>
<line x1="97.25" y1="619.75" x2="121.9" y2="619.75" stroke="#ff3b1f" stroke-width="1.1" stroke-dasharray="2.8,1.5" stroke-dashoffset="0"/>
<line x1="97.25" y1="619.75" x2="121.9" y2="619.75" stroke="#ffa500" stroke-width="1.1" stroke-opacity="0.7" stroke-dasharray="2.8,1.5" stroke-dashoffset="0.4"/>
<line x1="97.25" y1="640.4" x2="121.9" y2="640.4" stroke="#ff3b1f" stroke-width="1.1" stroke-dasharray="2.8,1.5" stroke-dashoffset="0"/>
<line x1="97.25" y1="640.4" x2="121.9" y2="640.4" stroke="#ffa500" stroke-width="1.1" stroke-opacity="0.7" stroke-dasharray="2.8,1.5" stroke-dashoffset="0.4"/>
<path d="M150.25,616.00L152.25,617.50L153.75,619.00L154.95,621.00L154.55,623.00L154.25,624.40L155.25,625.50L157.25,627.00L160.75,628.50L166.55,630.00L163.25,631.00L160.25,632.00L157.75,633.00L154.75,634.50L152.75,636.20L151.45,638.00L150.25,639.40L150.25,639.40L149.05,638.00L147.75,636.20L145.75,634.50L142.75,633.00L140.25,632.00L137.25,631.00L133.95,630.00L139.75,628.50L143.25,627.00L145.25,625.50L146.25,624.40L145.95,623.00L145.55,621.00L146.75,619.00L148.25,617.50L150.25,616.00Z" fill="#bebada" stroke="#555" stroke-width="0.45" stroke-linejoin="round"/>
<line x1="150.25" y1="616" x2="150.25" y2="677.5" stroke="#6a6a6a" stroke-width="0.8"/>
<rect x="149.15" y="626.3" width="2.2" height="6.0" fill="#555"/>
<circle cx="150.25" cy="621.5" r="1.7" fill="#0000ff"/>
<circle cx="150.25" cy="635" r="1.7" fill="#008000"/>
<line x1="137.75" y1="613" x2="162.75" y2="613" stroke="#ff3b1f" stroke-width="1.1" stroke-dasharray="2.8,1.5" stroke-dashoffset="0"/>
<line x1="137.75" y1="613" x2="162.75" y2="613" stroke="#ffa500" stroke-width="1.1" stroke-opacity="0.7" stroke-dasharray="2.8,1.5" stroke-dashoffset="0.4"/>
<line x1="137.75" y1="647.1" x2="162.75" y2="647.1" stroke="#ff3b1f" stroke-width="1.1" stroke-dasharray="2.8,1.5" stroke-dashoffset="0"/>
<line x1="137.75" y1="647.1" x2="162.75" y2="647.1" stroke="#ffa500" stroke-width="1.1" stroke-opacity="0.7" stroke-dasharray="2.8,1.5" stroke-dashoffset="0.4"/>
<path d="M190.50,627.00L192.50,627.80L195.00,628.80L199.50,629.60L206.75,630.25L199.50,630.90L195.00,631.70L193.00,632.70L192.00,634.00L191.50,635.50L190.50,637.50L190.50,637.50L189.50,635.50L189.00,634.00L188.00,632.70L186.00,631.70L181.50,630.90L174.25,630.25L181.50,629.60L186.00,628.80L188.50,627.80L190.50,627.00Z" fill="#fb8072" stroke="#555" stroke-width="0.45" stroke-linejoin="round"/>
<line x1="190.5" y1="626" x2="190.5" y2="637.5" stroke="#6a6a6a" stroke-width="0.8"/>
<rect x="189.4" y="629.5" width="2.2" height="3.0" fill="#555"/>
<circle cx="190.5" cy="626.25" r="1.7" fill="#0000ff"/>
<circle cx="190.5" cy="634.5" r="1.7" fill="#008000"/>
<line x1="178" y1="617.25" x2="202.5" y2="617.25" stroke="#ff3b1f" stroke-width="1.1" stroke-dasharray="2.8,1.5" stroke-dashoffset="0"/>
<line x1="178" y1="617.25" x2="202.5" y2="617.25" stroke="#ffa500" stroke-width="1.1" stroke-opacity="0.7" stroke-dasharray="2.8,1.5" stroke-dashoffset="0.4"/>
<line x1="178" y1="642.5" x2="202.5" y2="642.5" stroke="#ff3b1f" stroke-width="1.1" stroke-dasharray="2.8,1.5" stroke-dashoffset="0"/>
<line x1="178" y1="642.5" x2="202.5" y2="642.5" stroke="#ffa500" stroke-width="1.1" stroke-opacity="0.7" stroke-dasharray="2.8,1.5" stroke-dashoffset="0.4"/>
<path d="M231.25,621.50L232.75,622.50L233.25,624.00L234.25,625.50L236.25,627.00L239.25,628.50L243.25,629.60L247.50,630.25L243.25,631.00L239.75,632.00L237.75,633.00L235.75,634.50L234.25,636.00L233.05,638.00L232.25,640.00L231.25,642.50L231.25,642.50L230.25,640.00L229.45,638.00L228.25,636.00L226.75,634.50L224.75,633.00L222.75,632.00L219.25,631.00L215.00,630.25L219.25,629.60L223.25,628.50L226.25,627.00L228.25,625.50L229.25,624.00L229.75,622.50L231.25,621.50Z" fill="#80b1d3" stroke="#555" stroke-width="0.45" stroke-linejoin="round"/>
<line x1="231.25" y1="620" x2="231.25" y2="643.75" stroke="#8a8a8a" stroke-width="1.0"/>
<rect x="230.15" y="629.5" width="2.2" height="3.2999999999999545" fill="#555"/>
<circle cx="231.25" cy="626.25" r="1.7" fill="#0000ff"/>
<circle cx="231.25" cy="634.5" r="1.7" fill="#008000"/>
<line x1="218.75" y1="619.5" x2="242.5" y2="619.5" stroke="#ff3b1f" stroke-width="1.1" stroke-dasharray="2.8,1.5" stroke-dashoffset="0"/>
<line x1="218.75" y1="619.5" x2="242.5" y2="619.5" stroke="#ffa500" stroke-width="1.1" stroke-opacity="0.7" stroke-dasharray="2.8,1.5" stroke-dashoffset="0.4"/>
<line x1="218.75" y1="640.5" x2="242.5" y2="640.5" stroke="#ff3b1f" stroke-width="1.1" stroke-dasharray="2.8,1.5" stroke-dashoffset="0"/>
<line x1="218.75" y1="640.5" x2="242.5" y2="640.5" stroke="#ffa500" stroke-width="1.1" stroke-opacity="0.7" stroke-dasharray="2.8,1.5" stroke-dashoffset="0.4"/>
<rect x="158.75" y="547.8" width="95" height="36" rx="1.5" fill="#fff" fill-opacity="0.85" stroke="#d8d8d8" stroke-width="0.6"/>
<circle cx="166.2" cy="552.5" r="1.6" fill="#008000"/>
<circle cx="166.2" cy="561.5" r="1.6" fill="#0000ff"/>
<line x1="160.3" y1="570.2" x2="172.3" y2="570.2" stroke="#ff4040" stroke-width="1.1" stroke-dasharray="2.8,1.5" stroke-dashoffset="0"/>
<line x1="160.3" y1="578.8" x2="172.3" y2="578.8" stroke="#ffa500" stroke-width="1.1" stroke-dasharray="2.8,1.5" stroke-dashoffset="0"/>
<text x="177" y="554.7" font-size="6.5" text-anchor="start" textLength="41" lengthAdjust="spacingAndGlyphs" >5th Percentile</text>
<text x="177" y="563.7" font-size="6.5" text-anchor="start" textLength="45.5" lengthAdjust="spacingAndGlyphs" >95th Percentile</text>
<text x="177" y="572.3" font-size="6.5" text-anchor="start" textLength="64" lengthAdjust="spacingAndGlyphs" >±2σ centered on zero</text>
<text x="177" y="580.9" font-size="6.5" text-anchor="start" textLength="74" lengthAdjust="spacingAndGlyphs" >±2σ centered on median</text>
<line x1="69.4" y1="715" x2="69.4" y2="716.8" stroke="#8c8c8c" stroke-width="0.8"/>
<text x="0" y="0" font-size="6.5" text-anchor="middle" font-style="italic" transform="translate(69.4,725.5) rotate(-8)">G. ruber</text>
<line x1="109.75" y1="715" x2="109.75" y2="716.8" stroke="#8c8c8c" stroke-width="0.8"/>
<text x="0" y="0" font-size="6.5" text-anchor="middle" font-style="italic" transform="translate(109.75,725.5) rotate(-8)">T. sacculifer</text>
<line x1="150.25" y1="715" x2="150.25" y2="716.8" stroke="#8c8c8c" stroke-width="0.8"/>
<text x="0" y="0" font-size="6.5" text-anchor="middle" font-style="italic" transform="translate(150.25,725.5) rotate(-8)">G. bulloides</text>
<line x1="190.5" y1="715" x2="190.5" y2="716.8" stroke="#8c8c8c" stroke-width="0.8"/>
<text x="0" y="0" font-size="6.5" text-anchor="middle" font-style="italic" transform="translate(190.5,725.5) rotate(-8)">N. pachyderma</text>
<line x1="231.25" y1="715" x2="231.25" y2="716.8" stroke="#8c8c8c" stroke-width="0.8"/>
<text x="0" y="0" font-size="6.5" text-anchor="middle" font-style="italic" transform="translate(231.25,725.5) rotate(-8)">N. incompta</text>
<text x="150.3" y="742" font-size="8.6" text-anchor="middle" textLength="29.4" lengthAdjust="spacingAndGlyphs" >Species</text>
<text x="0" y="0" font-size="9.5" text-anchor="middle" textLength="177.2" lengthAdjust="spacingAndGlyphs" transform="translate(25.0,629.8) rotate(-90)" >Density residuals anomaly (MH - PI) (kg/m<tspan font-size="6.6" dy="-3.4">3</tspan><tspan dy="3.4">)</tspan></text>
</svg></body></html>
